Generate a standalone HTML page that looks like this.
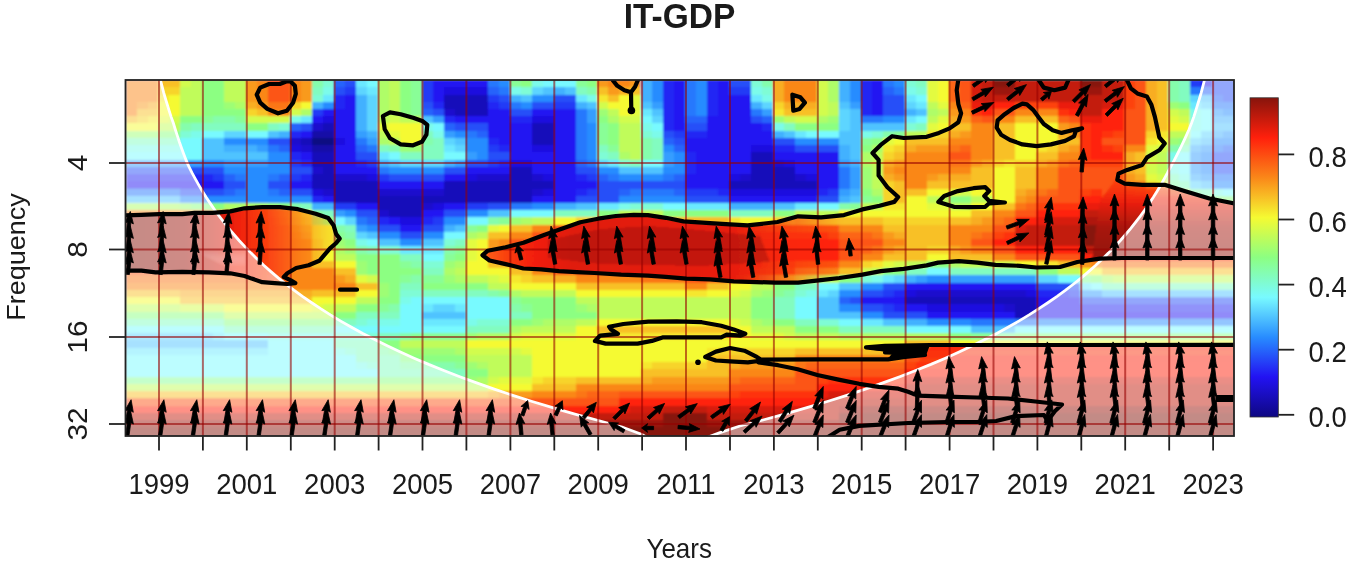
<!DOCTYPE html>
<html><head><meta charset="utf-8"><title>IT-GDP</title>
<style>
html,body{margin:0;padding:0;background:#fff}
body{width:1350px;height:562px;overflow:hidden;font-family:"Liberation Sans",sans-serif}
svg{display:block}
text{font-family:"Liberation Sans",sans-serif;font-size:27.5px;fill:#1a1a1a}
</style></head><body>
<svg width="1350" height="562" viewBox="0 0 1350 562">
<defs>
<linearGradient id="jet" x1="0" y1="1" x2="0" y2="0"><stop offset="0.0000" stop-color="#0e0882"/><stop offset="0.0312" stop-color="#130a9e"/><stop offset="0.0625" stop-color="#180dba"/><stop offset="0.0938" stop-color="#1d10d6"/><stop offset="0.1250" stop-color="#2212f2"/><stop offset="0.1562" stop-color="#2430f5"/><stop offset="0.1875" stop-color="#254ff8"/><stop offset="0.2188" stop-color="#266efc"/><stop offset="0.2500" stop-color="#288cff"/><stop offset="0.2812" stop-color="#3ca8ff"/><stop offset="0.3125" stop-color="#50c3ff"/><stop offset="0.3438" stop-color="#64deff"/><stop offset="0.3750" stop-color="#78faff"/><stop offset="0.4062" stop-color="#7dfbe0"/><stop offset="0.4375" stop-color="#82fcc0"/><stop offset="0.4688" stop-color="#87fea1"/><stop offset="0.5000" stop-color="#8cff82"/><stop offset="0.5312" stop-color="#a6fe6e"/><stop offset="0.5625" stop-color="#c0fc5a"/><stop offset="0.5938" stop-color="#dbfb46"/><stop offset="0.6250" stop-color="#f5fa32"/><stop offset="0.6562" stop-color="#f6dd2c"/><stop offset="0.6875" stop-color="#f8c026"/><stop offset="0.7188" stop-color="#f9a41f"/><stop offset="0.7500" stop-color="#fa8719"/><stop offset="0.7812" stop-color="#fb6d16"/><stop offset="0.8125" stop-color="#fc5412"/><stop offset="0.8438" stop-color="#fe3a0f"/><stop offset="0.8750" stop-color="#ff200c"/><stop offset="0.9062" stop-color="#e11d0c"/><stop offset="0.9375" stop-color="#c31a0c"/><stop offset="0.9688" stop-color="#a5170c"/><stop offset="1.0000" stop-color="#87140c"/></linearGradient>
<filter id="bl" x="-2%" y="-2%" width="104%" height="104%"><feGaussianBlur stdDeviation="1.2"/></filter>
<linearGradient id="bg1" gradientUnits="userSpaceOnUse" x1="483" y1="0" x2="843" y2="0">
<stop offset="0" stop-color="#ff5a14" stop-opacity="0.9"/><stop offset="0.13" stop-color="#f4200c"/><stop offset="0.25" stop-color="#e01c0c"/><stop offset="0.7" stop-color="#e81e0c"/><stop offset="0.86" stop-color="#f8300c" stop-opacity="0.5"/><stop offset="1" stop-color="#f8300c" stop-opacity="0"/></linearGradient>
<linearGradient id="bg2" gradientUnits="userSpaceOnUse" x1="124" y1="0" x2="330" y2="0">
<stop offset="0" stop-color="#871410"/><stop offset="0.3" stop-color="#a01810"/><stop offset="0.55" stop-color="#f0200c"/><stop offset="0.72" stop-color="#fb4812" stop-opacity="0.9"/><stop offset="0.9" stop-color="#fb8a18" stop-opacity="0.6"/><stop offset="1" stop-color="#fba020" stop-opacity="0.3"/></linearGradient>
<linearGradient id="bg4" gradientUnits="userSpaceOnUse" x1="0" y1="174" x2="0" y2="260">
<stop offset="0" stop-color="#ff3a10" stop-opacity="0.5"/><stop offset="0.3" stop-color="#f0200c" stop-opacity="0.95"/><stop offset="0.62" stop-color="#a81810"/><stop offset="1" stop-color="#92160e"/></linearGradient>
<linearGradient id="bg5" gradientUnits="userSpaceOnUse" x1="0" y1="345" x2="0" y2="366">
<stop offset="0" stop-color="#fb2410"/><stop offset="0.5" stop-color="#fb2410" stop-opacity="0.8"/><stop offset="1" stop-color="#fb2410" stop-opacity="0"/></linearGradient>
<linearGradient id="bg3" gradientUnits="userSpaceOnUse" x1="0" y1="225" x2="0" y2="285">
<stop offset="0" stop-color="#000" stop-opacity="0"/><stop offset="0.45" stop-color="#fff" stop-opacity="0"/><stop offset="0.7" stop-color="#ff2a0c" stop-opacity="0.55"/><stop offset="1" stop-color="#ff5a14" stop-opacity="0.7"/></linearGradient>
<clipPath id="cp"><rect x="125.5" y="80" width="1108.5" height="356"/></clipPath>
</defs>
<rect width="1350" height="562" fill="#fff"/>
<g clip-path="url(#cp)">
<g filter="url(#bl)" shape-rendering="crispEdges">
<rect x="115" y="70" width="1130" height="376" fill="#888"/>
<rect x="125.5" y="80.0" width="33.5" height="7.8" fill="#fa8719"/><rect x="158.4" y="80.0" width="22.6" height="7.8" fill="#f8c026"/><rect x="180.4" y="80.0" width="11.6" height="7.8" fill="#d2fc4d"/><rect x="191.4" y="80.0" width="11.6" height="7.8" fill="#c0fc5a"/><rect x="202.3" y="80.0" width="22.6" height="7.8" fill="#8cff82"/><rect x="224.3" y="80.0" width="22.6" height="7.8" fill="#c0fc5a"/><rect x="246.2" y="80.0" width="11.6" height="7.8" fill="#f99a1d"/><rect x="257.2" y="80.0" width="11.6" height="7.8" fill="#fa8719"/><rect x="268.2" y="80.0" width="22.6" height="7.8" fill="#fc5412"/><rect x="290.1" y="80.0" width="11.6" height="7.8" fill="#fa8719"/><rect x="301.1" y="80.0" width="11.6" height="7.8" fill="#f99a1d"/><rect x="312.1" y="80.0" width="11.6" height="7.8" fill="#85fdac"/><rect x="323.1" y="80.0" width="11.6" height="7.8" fill="#7ffcd5"/><rect x="334.0" y="80.0" width="11.6" height="7.8" fill="#2663fb"/><rect x="345.0" y="80.0" width="11.6" height="7.8" fill="#254ff8"/><rect x="356.0" y="80.0" width="11.6" height="7.8" fill="#6be8ff"/><rect x="367.0" y="80.0" width="11.6" height="7.8" fill="#78faff"/><rect x="377.9" y="80.0" width="11.6" height="7.8" fill="#affd67"/><rect x="388.9" y="80.0" width="11.6" height="7.8" fill="#c0fc5a"/><rect x="399.9" y="80.0" width="11.6" height="7.8" fill="#8cff82"/><rect x="410.9" y="80.0" width="11.6" height="7.8" fill="#89fe97"/><rect x="421.8" y="80.0" width="11.6" height="7.8" fill="#243bf6"/><rect x="432.8" y="80.0" width="55.5" height="7.8" fill="#2212f2"/><rect x="487.7" y="80.0" width="11.6" height="7.8" fill="#2778fd"/><rect x="498.7" y="80.0" width="11.6" height="7.8" fill="#288cff"/><rect x="509.6" y="80.0" width="11.6" height="7.8" fill="#89fe97"/><rect x="520.6" y="80.0" width="11.6" height="7.8" fill="#8cff82"/><rect x="531.6" y="80.0" width="11.6" height="7.8" fill="#7bfbea"/><rect x="542.6" y="80.0" width="33.5" height="7.8" fill="#78faff"/><rect x="575.5" y="80.0" width="11.6" height="7.8" fill="#89fe97"/><rect x="586.5" y="80.0" width="11.6" height="7.8" fill="#8cff82"/><rect x="597.4" y="80.0" width="11.6" height="7.8" fill="#f99a1d"/><rect x="608.4" y="80.0" width="22.6" height="7.8" fill="#fa8719"/><rect x="630.4" y="80.0" width="11.6" height="7.8" fill="#f99a1d"/><rect x="641.3" y="80.0" width="11.6" height="7.8" fill="#43b1ff"/><rect x="652.3" y="80.0" width="11.6" height="7.8" fill="#288cff"/><rect x="663.3" y="80.0" width="11.6" height="7.8" fill="#2326f4"/><rect x="674.3" y="80.0" width="11.6" height="7.8" fill="#2212f2"/><rect x="685.2" y="80.0" width="11.6" height="7.8" fill="#2778fd"/><rect x="696.2" y="80.0" width="11.6" height="7.8" fill="#288cff"/><rect x="707.2" y="80.0" width="11.6" height="7.8" fill="#2326f4"/><rect x="718.2" y="80.0" width="11.6" height="7.8" fill="#2212f2"/><rect x="729.1" y="80.0" width="22.6" height="7.8" fill="#254ff8"/><rect x="751.1" y="80.0" width="11.6" height="7.8" fill="#7ffcd5"/><rect x="762.1" y="80.0" width="11.6" height="7.8" fill="#85fdac"/><rect x="773.0" y="80.0" width="11.6" height="7.8" fill="#f8ad21"/><rect x="784.0" y="80.0" width="33.5" height="7.8" fill="#fa8719"/><rect x="816.9" y="80.0" width="11.6" height="7.8" fill="#d2fc4d"/><rect x="827.9" y="80.0" width="11.6" height="7.8" fill="#affd67"/><rect x="838.9" y="80.0" width="11.6" height="7.8" fill="#43b1ff"/><rect x="849.9" y="80.0" width="11.6" height="7.8" fill="#288cff"/><rect x="860.8" y="80.0" width="11.6" height="7.8" fill="#2326f4"/><rect x="871.8" y="80.0" width="11.6" height="7.8" fill="#2212f2"/><rect x="882.8" y="80.0" width="11.6" height="7.8" fill="#2778fd"/><rect x="893.8" y="80.0" width="11.6" height="7.8" fill="#288cff"/><rect x="904.7" y="80.0" width="11.6" height="7.8" fill="#7ffcd5"/><rect x="915.7" y="80.0" width="11.6" height="7.8" fill="#82fcc0"/><rect x="926.7" y="80.0" width="11.6" height="7.8" fill="#e3fb3f"/><rect x="937.7" y="80.0" width="11.6" height="7.8" fill="#f5fa32"/><rect x="948.6" y="80.0" width="11.6" height="7.8" fill="#fc6515"/><rect x="959.6" y="80.0" width="11.6" height="7.8" fill="#fc5412"/><rect x="970.6" y="80.0" width="11.6" height="7.8" fill="#d71c0c"/><rect x="981.6" y="80.0" width="11.6" height="7.8" fill="#c31a0c"/><rect x="992.5" y="80.0" width="22.6" height="7.8" fill="#87140c"/><rect x="1014.5" y="80.0" width="66.5" height="7.8" fill="#c31a0c"/><rect x="1080.3" y="80.0" width="22.6" height="7.8" fill="#87140c"/><rect x="1102.3" y="80.0" width="22.6" height="7.8" fill="#c31a0c"/><rect x="1124.2" y="80.0" width="11.6" height="7.8" fill="#fd4210"/><rect x="1135.2" y="80.0" width="11.6" height="7.8" fill="#fc5412"/><rect x="1146.2" y="80.0" width="11.6" height="7.8" fill="#f8ad21"/><rect x="1157.2" y="80.0" width="11.6" height="7.8" fill="#f8c026"/><rect x="1168.1" y="80.0" width="11.6" height="7.8" fill="#85fdac"/><rect x="1179.1" y="80.0" width="11.6" height="7.8" fill="#82fcc0"/><rect x="1190.1" y="80.0" width="11.6" height="7.8" fill="#243bf6"/><rect x="1201.1" y="80.0" width="11.6" height="7.8" fill="#2212f2"/><rect x="1212.0" y="80.0" width="22.6" height="7.8" fill="#254ff8"/><rect x="125.5" y="87.2" width="33.5" height="7.8" fill="#fa8719"/><rect x="158.4" y="87.2" width="22.6" height="7.8" fill="#f7d42a"/><rect x="180.4" y="87.2" width="22.6" height="7.8" fill="#c0fc5a"/><rect x="202.3" y="87.2" width="22.6" height="7.8" fill="#8cff82"/><rect x="224.3" y="87.2" width="22.6" height="7.8" fill="#c0fc5a"/><rect x="246.2" y="87.2" width="11.6" height="7.8" fill="#f99a1d"/><rect x="257.2" y="87.2" width="11.6" height="7.8" fill="#fa8719"/><rect x="268.2" y="87.2" width="22.6" height="7.8" fill="#fc5412"/><rect x="290.1" y="87.2" width="11.6" height="7.8" fill="#fa8719"/><rect x="301.1" y="87.2" width="11.6" height="7.8" fill="#f99a1d"/><rect x="312.1" y="87.2" width="11.6" height="7.8" fill="#82fcc0"/><rect x="323.1" y="87.2" width="11.6" height="7.8" fill="#7bfbea"/><rect x="334.0" y="87.2" width="11.6" height="7.8" fill="#254ff8"/><rect x="345.0" y="87.2" width="11.6" height="7.8" fill="#243bf6"/><rect x="356.0" y="87.2" width="11.6" height="7.8" fill="#5dd5ff"/><rect x="367.0" y="87.2" width="11.6" height="7.8" fill="#6be8ff"/><rect x="377.9" y="87.2" width="11.6" height="7.8" fill="#affd67"/><rect x="388.9" y="87.2" width="11.6" height="7.8" fill="#c0fc5a"/><rect x="399.9" y="87.2" width="11.6" height="7.8" fill="#8cff82"/><rect x="410.9" y="87.2" width="11.6" height="7.8" fill="#89fe97"/><rect x="421.8" y="87.2" width="11.6" height="7.8" fill="#243bf6"/><rect x="432.8" y="87.2" width="11.6" height="7.8" fill="#2212f2"/><rect x="443.8" y="87.2" width="44.5" height="7.8" fill="#1f10df"/><rect x="487.7" y="87.2" width="11.6" height="7.8" fill="#2663fb"/><rect x="498.7" y="87.2" width="11.6" height="7.8" fill="#2778fd"/><rect x="509.6" y="87.2" width="11.6" height="7.8" fill="#7bfbea"/><rect x="520.6" y="87.2" width="11.6" height="7.8" fill="#7ffcd5"/><rect x="531.6" y="87.2" width="11.6" height="7.8" fill="#5dd5ff"/><rect x="542.6" y="87.2" width="11.6" height="7.8" fill="#50c3ff"/><rect x="553.5" y="87.2" width="11.6" height="7.8" fill="#43b1ff"/><rect x="564.5" y="87.2" width="11.6" height="7.8" fill="#50c3ff"/><rect x="575.5" y="87.2" width="11.6" height="7.8" fill="#82fcc0"/><rect x="586.5" y="87.2" width="11.6" height="7.8" fill="#85fdac"/><rect x="597.4" y="87.2" width="11.6" height="7.8" fill="#f8c026"/><rect x="608.4" y="87.2" width="11.6" height="7.8" fill="#f99a1d"/><rect x="619.4" y="87.2" width="11.6" height="7.8" fill="#f8ad21"/><rect x="630.4" y="87.2" width="11.6" height="7.8" fill="#f8c026"/><rect x="641.3" y="87.2" width="11.6" height="7.8" fill="#43b1ff"/><rect x="652.3" y="87.2" width="11.6" height="7.8" fill="#288cff"/><rect x="663.3" y="87.2" width="11.6" height="7.8" fill="#2326f4"/><rect x="674.3" y="87.2" width="11.6" height="7.8" fill="#2212f2"/><rect x="685.2" y="87.2" width="11.6" height="7.8" fill="#2778fd"/><rect x="696.2" y="87.2" width="11.6" height="7.8" fill="#288cff"/><rect x="707.2" y="87.2" width="11.6" height="7.8" fill="#2326f4"/><rect x="718.2" y="87.2" width="11.6" height="7.8" fill="#2212f2"/><rect x="729.1" y="87.2" width="22.6" height="7.8" fill="#243bf6"/><rect x="751.1" y="87.2" width="11.6" height="7.8" fill="#7bfbea"/><rect x="762.1" y="87.2" width="11.6" height="7.8" fill="#7ffcd5"/><rect x="773.0" y="87.2" width="11.6" height="7.8" fill="#f8ad21"/><rect x="784.0" y="87.2" width="33.5" height="7.8" fill="#fa8719"/><rect x="816.9" y="87.2" width="11.6" height="7.8" fill="#d2fc4d"/><rect x="827.9" y="87.2" width="11.6" height="7.8" fill="#affd67"/><rect x="838.9" y="87.2" width="11.6" height="7.8" fill="#43b1ff"/><rect x="849.9" y="87.2" width="11.6" height="7.8" fill="#288cff"/><rect x="860.8" y="87.2" width="11.6" height="7.8" fill="#2326f4"/><rect x="871.8" y="87.2" width="11.6" height="7.8" fill="#2212f2"/><rect x="882.8" y="87.2" width="11.6" height="7.8" fill="#2663fb"/><rect x="893.8" y="87.2" width="11.6" height="7.8" fill="#2778fd"/><rect x="904.7" y="87.2" width="11.6" height="7.8" fill="#7bfbea"/><rect x="915.7" y="87.2" width="11.6" height="7.8" fill="#7ffcd5"/><rect x="926.7" y="87.2" width="11.6" height="7.8" fill="#e3fb3f"/><rect x="937.7" y="87.2" width="11.6" height="7.8" fill="#f5fa32"/><rect x="948.6" y="87.2" width="11.6" height="7.8" fill="#fc6515"/><rect x="959.6" y="87.2" width="11.6" height="7.8" fill="#fc5412"/><rect x="970.6" y="87.2" width="11.6" height="7.8" fill="#d71c0c"/><rect x="981.6" y="87.2" width="11.6" height="7.8" fill="#c31a0c"/><rect x="992.5" y="87.2" width="22.6" height="7.8" fill="#9b160c"/><rect x="1014.5" y="87.2" width="66.5" height="7.8" fill="#c31a0c"/><rect x="1080.3" y="87.2" width="22.6" height="7.8" fill="#9b160c"/><rect x="1102.3" y="87.2" width="22.6" height="7.8" fill="#c31a0c"/><rect x="1124.2" y="87.2" width="11.6" height="7.8" fill="#fd4210"/><rect x="1135.2" y="87.2" width="11.6" height="7.8" fill="#fc5412"/><rect x="1146.2" y="87.2" width="11.6" height="7.8" fill="#f8ad21"/><rect x="1157.2" y="87.2" width="11.6" height="7.8" fill="#f8c026"/><rect x="1168.1" y="87.2" width="11.6" height="7.8" fill="#85fdac"/><rect x="1179.1" y="87.2" width="11.6" height="7.8" fill="#82fcc0"/><rect x="1190.1" y="87.2" width="11.6" height="7.8" fill="#2778fd"/><rect x="1201.1" y="87.2" width="11.6" height="7.8" fill="#2663fb"/><rect x="1212.0" y="87.2" width="22.6" height="7.8" fill="#254ff8"/><rect x="125.5" y="94.5" width="33.5" height="7.8" fill="#fa8719"/><rect x="158.4" y="94.5" width="11.6" height="7.8" fill="#f6e72e"/><rect x="169.4" y="94.5" width="11.6" height="7.8" fill="#f5fa32"/><rect x="180.4" y="94.5" width="22.6" height="7.8" fill="#c0fc5a"/><rect x="202.3" y="94.5" width="22.6" height="7.8" fill="#8cff82"/><rect x="224.3" y="94.5" width="22.6" height="7.8" fill="#c0fc5a"/><rect x="246.2" y="94.5" width="11.6" height="7.8" fill="#f99a1d"/><rect x="257.2" y="94.5" width="11.6" height="7.8" fill="#fa8719"/><rect x="268.2" y="94.5" width="22.6" height="7.8" fill="#fc5412"/><rect x="290.1" y="94.5" width="11.6" height="7.8" fill="#fa8719"/><rect x="301.1" y="94.5" width="11.6" height="7.8" fill="#f99a1d"/><rect x="312.1" y="94.5" width="11.6" height="7.8" fill="#7ffcd5"/><rect x="323.1" y="94.5" width="11.6" height="7.8" fill="#6be8ff"/><rect x="334.0" y="94.5" width="11.6" height="7.8" fill="#2326f4"/><rect x="345.0" y="94.5" width="11.6" height="7.8" fill="#2212f2"/><rect x="356.0" y="94.5" width="11.6" height="7.8" fill="#43b1ff"/><rect x="367.0" y="94.5" width="11.6" height="7.8" fill="#5dd5ff"/><rect x="377.9" y="94.5" width="11.6" height="7.8" fill="#affd67"/><rect x="388.9" y="94.5" width="11.6" height="7.8" fill="#c0fc5a"/><rect x="399.9" y="94.5" width="11.6" height="7.8" fill="#8cff82"/><rect x="410.9" y="94.5" width="11.6" height="7.8" fill="#89fe97"/><rect x="421.8" y="94.5" width="11.6" height="7.8" fill="#243bf6"/><rect x="432.8" y="94.5" width="11.6" height="7.8" fill="#2212f2"/><rect x="443.8" y="94.5" width="44.5" height="7.8" fill="#180dba"/><rect x="487.7" y="94.5" width="11.6" height="7.8" fill="#243bf6"/><rect x="498.7" y="94.5" width="11.6" height="7.8" fill="#254ff8"/><rect x="509.6" y="94.5" width="11.6" height="7.8" fill="#43b1ff"/><rect x="520.6" y="94.5" width="11.6" height="7.8" fill="#50c3ff"/><rect x="531.6" y="94.5" width="22.6" height="7.8" fill="#288cff"/><rect x="553.5" y="94.5" width="22.6" height="7.8" fill="#254ff8"/><rect x="575.5" y="94.5" width="11.6" height="7.8" fill="#6be8ff"/><rect x="586.5" y="94.5" width="11.6" height="7.8" fill="#7bfbea"/><rect x="597.4" y="94.5" width="11.6" height="7.8" fill="#f6e72e"/><rect x="608.4" y="94.5" width="11.6" height="7.8" fill="#f8c026"/><rect x="619.4" y="94.5" width="11.6" height="7.8" fill="#f5fa32"/><rect x="630.4" y="94.5" width="11.6" height="7.8" fill="#e3fb3f"/><rect x="641.3" y="94.5" width="11.6" height="7.8" fill="#43b1ff"/><rect x="652.3" y="94.5" width="11.6" height="7.8" fill="#288cff"/><rect x="663.3" y="94.5" width="11.6" height="7.8" fill="#2326f4"/><rect x="674.3" y="94.5" width="11.6" height="7.8" fill="#2212f2"/><rect x="685.2" y="94.5" width="11.6" height="7.8" fill="#2778fd"/><rect x="696.2" y="94.5" width="11.6" height="7.8" fill="#288cff"/><rect x="707.2" y="94.5" width="11.6" height="7.8" fill="#2326f4"/><rect x="718.2" y="94.5" width="33.5" height="7.8" fill="#2212f2"/><rect x="751.1" y="94.5" width="11.6" height="7.8" fill="#6be8ff"/><rect x="762.1" y="94.5" width="11.6" height="7.8" fill="#7bfbea"/><rect x="773.0" y="94.5" width="11.6" height="7.8" fill="#f8ad21"/><rect x="784.0" y="94.5" width="33.5" height="7.8" fill="#fa8719"/><rect x="816.9" y="94.5" width="11.6" height="7.8" fill="#d2fc4d"/><rect x="827.9" y="94.5" width="11.6" height="7.8" fill="#affd67"/><rect x="838.9" y="94.5" width="11.6" height="7.8" fill="#43b1ff"/><rect x="849.9" y="94.5" width="11.6" height="7.8" fill="#288cff"/><rect x="860.8" y="94.5" width="11.6" height="7.8" fill="#2326f4"/><rect x="871.8" y="94.5" width="11.6" height="7.8" fill="#2212f2"/><rect x="882.8" y="94.5" width="22.6" height="7.8" fill="#254ff8"/><rect x="904.7" y="94.5" width="11.6" height="7.8" fill="#6be8ff"/><rect x="915.7" y="94.5" width="11.6" height="7.8" fill="#78faff"/><rect x="926.7" y="94.5" width="11.6" height="7.8" fill="#e3fb3f"/><rect x="937.7" y="94.5" width="11.6" height="7.8" fill="#f5fa32"/><rect x="948.6" y="94.5" width="11.6" height="7.8" fill="#fc6515"/><rect x="959.6" y="94.5" width="11.6" height="7.8" fill="#fc5412"/><rect x="970.6" y="94.5" width="11.6" height="7.8" fill="#d71c0c"/><rect x="981.6" y="94.5" width="143.3" height="7.8" fill="#c31a0c"/><rect x="1124.2" y="94.5" width="11.6" height="7.8" fill="#fd4210"/><rect x="1135.2" y="94.5" width="11.6" height="7.8" fill="#fc5412"/><rect x="1146.2" y="94.5" width="11.6" height="7.8" fill="#f8ad21"/><rect x="1157.2" y="94.5" width="11.6" height="7.8" fill="#f8c026"/><rect x="1168.1" y="94.5" width="11.6" height="7.8" fill="#85fdac"/><rect x="1179.1" y="94.5" width="11.6" height="7.8" fill="#82fcc0"/><rect x="1190.1" y="94.5" width="11.6" height="7.8" fill="#5dd5ff"/><rect x="1201.1" y="94.5" width="11.6" height="7.8" fill="#50c3ff"/><rect x="1212.0" y="94.5" width="11.6" height="7.8" fill="#2663fb"/><rect x="1223.0" y="94.5" width="11.6" height="7.8" fill="#254ff8"/><rect x="125.5" y="101.7" width="11.6" height="7.8" fill="#fa8719"/><rect x="136.5" y="101.7" width="11.6" height="7.8" fill="#f99a1d"/><rect x="147.5" y="101.7" width="11.6" height="7.8" fill="#f8ad21"/><rect x="158.4" y="101.7" width="22.6" height="7.8" fill="#f5fa32"/><rect x="180.4" y="101.7" width="22.6" height="7.8" fill="#c0fc5a"/><rect x="202.3" y="101.7" width="22.6" height="7.8" fill="#8cff82"/><rect x="224.3" y="101.7" width="11.6" height="7.8" fill="#9efe75"/><rect x="235.3" y="101.7" width="11.6" height="7.8" fill="#affd67"/><rect x="246.2" y="101.7" width="11.6" height="7.8" fill="#f8ad21"/><rect x="257.2" y="101.7" width="11.6" height="7.8" fill="#f99a1d"/><rect x="268.2" y="101.7" width="22.6" height="7.8" fill="#fb7617"/><rect x="290.1" y="101.7" width="11.6" height="7.8" fill="#f7d42a"/><rect x="301.1" y="101.7" width="11.6" height="7.8" fill="#f5fa32"/><rect x="312.1" y="101.7" width="11.6" height="7.8" fill="#43b1ff"/><rect x="323.1" y="101.7" width="11.6" height="7.8" fill="#288cff"/><rect x="334.0" y="101.7" width="11.6" height="7.8" fill="#2326f4"/><rect x="345.0" y="101.7" width="11.6" height="7.8" fill="#2212f2"/><rect x="356.0" y="101.7" width="11.6" height="7.8" fill="#43b1ff"/><rect x="367.0" y="101.7" width="11.6" height="7.8" fill="#5dd5ff"/><rect x="377.9" y="101.7" width="11.6" height="7.8" fill="#affd67"/><rect x="388.9" y="101.7" width="11.6" height="7.8" fill="#c0fc5a"/><rect x="399.9" y="101.7" width="11.6" height="7.8" fill="#8cff82"/><rect x="410.9" y="101.7" width="11.6" height="7.8" fill="#89fe97"/><rect x="421.8" y="101.7" width="11.6" height="7.8" fill="#254ff8"/><rect x="432.8" y="101.7" width="11.6" height="7.8" fill="#2326f4"/><rect x="443.8" y="101.7" width="44.5" height="7.8" fill="#180dba"/><rect x="487.7" y="101.7" width="11.6" height="7.8" fill="#2326f4"/><rect x="498.7" y="101.7" width="11.6" height="7.8" fill="#243bf6"/><rect x="509.6" y="101.7" width="11.6" height="7.8" fill="#2778fd"/><rect x="520.6" y="101.7" width="11.6" height="7.8" fill="#288cff"/><rect x="531.6" y="101.7" width="22.6" height="7.8" fill="#254ff8"/><rect x="553.5" y="101.7" width="22.6" height="7.8" fill="#243bf6"/><rect x="575.5" y="101.7" width="11.6" height="7.8" fill="#43b1ff"/><rect x="586.5" y="101.7" width="11.6" height="7.8" fill="#50c3ff"/><rect x="597.4" y="101.7" width="11.6" height="7.8" fill="#d2fc4d"/><rect x="608.4" y="101.7" width="22.6" height="7.8" fill="#f5fa32"/><rect x="630.4" y="101.7" width="11.6" height="7.8" fill="#e3fb3f"/><rect x="641.3" y="101.7" width="11.6" height="7.8" fill="#50c3ff"/><rect x="652.3" y="101.7" width="11.6" height="7.8" fill="#359eff"/><rect x="663.3" y="101.7" width="11.6" height="7.8" fill="#2326f4"/><rect x="674.3" y="101.7" width="11.6" height="7.8" fill="#2212f2"/><rect x="685.2" y="101.7" width="11.6" height="7.8" fill="#2778fd"/><rect x="696.2" y="101.7" width="11.6" height="7.8" fill="#288cff"/><rect x="707.2" y="101.7" width="11.6" height="7.8" fill="#2326f4"/><rect x="718.2" y="101.7" width="33.5" height="7.8" fill="#2212f2"/><rect x="751.1" y="101.7" width="11.6" height="7.8" fill="#43b1ff"/><rect x="762.1" y="101.7" width="11.6" height="7.8" fill="#5dd5ff"/><rect x="773.0" y="101.7" width="11.6" height="7.8" fill="#f7d42a"/><rect x="784.0" y="101.7" width="33.5" height="7.8" fill="#f8ad21"/><rect x="816.9" y="101.7" width="11.6" height="7.8" fill="#d2fc4d"/><rect x="827.9" y="101.7" width="11.6" height="7.8" fill="#c0fc5a"/><rect x="838.9" y="101.7" width="11.6" height="7.8" fill="#50c3ff"/><rect x="849.9" y="101.7" width="11.6" height="7.8" fill="#359eff"/><rect x="860.8" y="101.7" width="11.6" height="7.8" fill="#2326f4"/><rect x="871.8" y="101.7" width="11.6" height="7.8" fill="#2212f2"/><rect x="882.8" y="101.7" width="22.6" height="7.8" fill="#254ff8"/><rect x="904.7" y="101.7" width="11.6" height="7.8" fill="#5dd5ff"/><rect x="915.7" y="101.7" width="11.6" height="7.8" fill="#6be8ff"/><rect x="926.7" y="101.7" width="11.6" height="7.8" fill="#c0fc5a"/><rect x="937.7" y="101.7" width="11.6" height="7.8" fill="#e3fb3f"/><rect x="948.6" y="101.7" width="11.6" height="7.8" fill="#fa8719"/><rect x="959.6" y="101.7" width="11.6" height="7.8" fill="#fc6515"/><rect x="970.6" y="101.7" width="22.6" height="7.8" fill="#eb1e0c"/><rect x="992.5" y="101.7" width="22.6" height="7.8" fill="#ff200c"/><rect x="1014.5" y="101.7" width="44.5" height="7.8" fill="#fd4210"/><rect x="1058.4" y="101.7" width="22.6" height="7.8" fill="#eb1e0c"/><rect x="1080.3" y="101.7" width="22.6" height="7.8" fill="#c31a0c"/><rect x="1102.3" y="101.7" width="11.6" height="7.8" fill="#d71c0c"/><rect x="1113.3" y="101.7" width="11.6" height="7.8" fill="#eb1e0c"/><rect x="1124.2" y="101.7" width="11.6" height="7.8" fill="#fd4210"/><rect x="1135.2" y="101.7" width="11.6" height="7.8" fill="#fc5412"/><rect x="1146.2" y="101.7" width="11.6" height="7.8" fill="#f8ad21"/><rect x="1157.2" y="101.7" width="11.6" height="7.8" fill="#f8c026"/><rect x="1168.1" y="101.7" width="11.6" height="7.8" fill="#9efe75"/><rect x="1179.1" y="101.7" width="11.6" height="7.8" fill="#8cff82"/><rect x="1190.1" y="101.7" width="11.6" height="7.8" fill="#6be8ff"/><rect x="1201.1" y="101.7" width="11.6" height="7.8" fill="#5dd5ff"/><rect x="1212.0" y="101.7" width="22.6" height="7.8" fill="#2778fd"/><rect x="125.5" y="108.9" width="11.6" height="7.8" fill="#fa8719"/><rect x="136.5" y="108.9" width="22.6" height="7.8" fill="#f8c026"/><rect x="158.4" y="108.9" width="22.6" height="7.8" fill="#f5fa32"/><rect x="180.4" y="108.9" width="22.6" height="7.8" fill="#c0fc5a"/><rect x="202.3" y="108.9" width="44.5" height="7.8" fill="#8cff82"/><rect x="246.2" y="108.9" width="11.6" height="7.8" fill="#f7d42a"/><rect x="257.2" y="108.9" width="11.6" height="7.8" fill="#f8c026"/><rect x="268.2" y="108.9" width="22.6" height="7.8" fill="#fa8719"/><rect x="290.1" y="108.9" width="11.6" height="7.8" fill="#d2fc4d"/><rect x="301.1" y="108.9" width="11.6" height="7.8" fill="#affd67"/><rect x="312.1" y="108.9" width="11.6" height="7.8" fill="#243bf6"/><rect x="323.1" y="108.9" width="33.5" height="7.8" fill="#2212f2"/><rect x="356.0" y="108.9" width="11.6" height="7.8" fill="#43b1ff"/><rect x="367.0" y="108.9" width="11.6" height="7.8" fill="#5dd5ff"/><rect x="377.9" y="108.9" width="11.6" height="7.8" fill="#affd67"/><rect x="388.9" y="108.9" width="11.6" height="7.8" fill="#c0fc5a"/><rect x="399.9" y="108.9" width="11.6" height="7.8" fill="#8cff82"/><rect x="410.9" y="108.9" width="11.6" height="7.8" fill="#89fe97"/><rect x="421.8" y="108.9" width="11.6" height="7.8" fill="#2663fb"/><rect x="432.8" y="108.9" width="11.6" height="7.8" fill="#254ff8"/><rect x="443.8" y="108.9" width="11.6" height="7.8" fill="#1b0fcd"/><rect x="454.8" y="108.9" width="33.5" height="7.8" fill="#180dba"/><rect x="487.7" y="108.9" width="22.6" height="7.8" fill="#2212f2"/><rect x="509.6" y="108.9" width="22.6" height="7.8" fill="#254ff8"/><rect x="531.6" y="108.9" width="44.5" height="7.8" fill="#2212f2"/><rect x="575.5" y="108.9" width="11.6" height="7.8" fill="#2778fd"/><rect x="586.5" y="108.9" width="11.6" height="7.8" fill="#359eff"/><rect x="597.4" y="108.9" width="11.6" height="7.8" fill="#9efe75"/><rect x="608.4" y="108.9" width="11.6" height="7.8" fill="#c0fc5a"/><rect x="619.4" y="108.9" width="11.6" height="7.8" fill="#f5fa32"/><rect x="630.4" y="108.9" width="11.6" height="7.8" fill="#e3fb3f"/><rect x="641.3" y="108.9" width="11.6" height="7.8" fill="#6be8ff"/><rect x="652.3" y="108.9" width="11.6" height="7.8" fill="#50c3ff"/><rect x="663.3" y="108.9" width="11.6" height="7.8" fill="#2326f4"/><rect x="674.3" y="108.9" width="11.6" height="7.8" fill="#2212f2"/><rect x="685.2" y="108.9" width="11.6" height="7.8" fill="#2778fd"/><rect x="696.2" y="108.9" width="11.6" height="7.8" fill="#288cff"/><rect x="707.2" y="108.9" width="11.6" height="7.8" fill="#2326f4"/><rect x="718.2" y="108.9" width="33.5" height="7.8" fill="#2212f2"/><rect x="751.1" y="108.9" width="11.6" height="7.8" fill="#2778fd"/><rect x="762.1" y="108.9" width="11.6" height="7.8" fill="#359eff"/><rect x="773.0" y="108.9" width="11.6" height="7.8" fill="#f6e72e"/><rect x="784.0" y="108.9" width="33.5" height="7.8" fill="#f8c026"/><rect x="816.9" y="108.9" width="11.6" height="7.8" fill="#d2fc4d"/><rect x="827.9" y="108.9" width="11.6" height="7.8" fill="#c0fc5a"/><rect x="838.9" y="108.9" width="11.6" height="7.8" fill="#5dd5ff"/><rect x="849.9" y="108.9" width="11.6" height="7.8" fill="#50c3ff"/><rect x="860.8" y="108.9" width="11.6" height="7.8" fill="#2326f4"/><rect x="871.8" y="108.9" width="11.6" height="7.8" fill="#2212f2"/><rect x="882.8" y="108.9" width="22.6" height="7.8" fill="#254ff8"/><rect x="904.7" y="108.9" width="11.6" height="7.8" fill="#43b1ff"/><rect x="915.7" y="108.9" width="11.6" height="7.8" fill="#50c3ff"/><rect x="926.7" y="108.9" width="11.6" height="7.8" fill="#affd67"/><rect x="937.7" y="108.9" width="11.6" height="7.8" fill="#c0fc5a"/><rect x="948.6" y="108.9" width="11.6" height="7.8" fill="#f99a1d"/><rect x="959.6" y="108.9" width="11.6" height="7.8" fill="#fa8719"/><rect x="970.6" y="108.9" width="11.6" height="7.8" fill="#fe310e"/><rect x="981.6" y="108.9" width="11.6" height="7.8" fill="#ff200c"/><rect x="992.5" y="108.9" width="22.6" height="7.8" fill="#fc5412"/><rect x="1014.5" y="108.9" width="44.5" height="7.8" fill="#fa8719"/><rect x="1058.4" y="108.9" width="11.6" height="7.8" fill="#fe310e"/><rect x="1069.4" y="108.9" width="11.6" height="7.8" fill="#ff200c"/><rect x="1080.3" y="108.9" width="22.6" height="7.8" fill="#c31a0c"/><rect x="1102.3" y="108.9" width="22.6" height="7.8" fill="#ff200c"/><rect x="1124.2" y="108.9" width="22.6" height="7.8" fill="#fc5412"/><rect x="1146.2" y="108.9" width="11.6" height="7.8" fill="#f8ad21"/><rect x="1157.2" y="108.9" width="11.6" height="7.8" fill="#f8c026"/><rect x="1168.1" y="108.9" width="11.6" height="7.8" fill="#d2fc4d"/><rect x="1179.1" y="108.9" width="11.6" height="7.8" fill="#c0fc5a"/><rect x="1190.1" y="108.9" width="11.6" height="7.8" fill="#7bfbea"/><rect x="1201.1" y="108.9" width="11.6" height="7.8" fill="#78faff"/><rect x="1212.0" y="108.9" width="11.6" height="7.8" fill="#359eff"/><rect x="1223.0" y="108.9" width="11.6" height="7.8" fill="#288cff"/><rect x="125.5" y="116.2" width="11.6" height="7.8" fill="#f8c026"/><rect x="136.5" y="116.2" width="11.6" height="7.8" fill="#f7d42a"/><rect x="147.5" y="116.2" width="11.6" height="7.8" fill="#f6e72e"/><rect x="158.4" y="116.2" width="11.6" height="7.8" fill="#e3fb3f"/><rect x="169.4" y="116.2" width="11.6" height="7.8" fill="#d2fc4d"/><rect x="180.4" y="116.2" width="22.6" height="7.8" fill="#8cff82"/><rect x="202.3" y="116.2" width="11.6" height="7.8" fill="#89fe97"/><rect x="213.3" y="116.2" width="22.6" height="7.8" fill="#85fdac"/><rect x="235.3" y="116.2" width="11.6" height="7.8" fill="#89fe97"/><rect x="246.2" y="116.2" width="44.5" height="7.8" fill="#d2fc4d"/><rect x="290.1" y="116.2" width="11.6" height="7.8" fill="#7bfbea"/><rect x="301.1" y="116.2" width="11.6" height="7.8" fill="#6be8ff"/><rect x="312.1" y="116.2" width="11.6" height="7.8" fill="#2212f2"/><rect x="323.1" y="116.2" width="11.6" height="7.8" fill="#1f10df"/><rect x="334.0" y="116.2" width="22.6" height="7.8" fill="#2212f2"/><rect x="356.0" y="116.2" width="11.6" height="7.8" fill="#43b1ff"/><rect x="367.0" y="116.2" width="11.6" height="7.8" fill="#5dd5ff"/><rect x="377.9" y="116.2" width="11.6" height="7.8" fill="#c0fc5a"/><rect x="388.9" y="116.2" width="11.6" height="7.8" fill="#d2fc4d"/><rect x="399.9" y="116.2" width="22.6" height="7.8" fill="#c0fc5a"/><rect x="421.8" y="116.2" width="11.6" height="7.8" fill="#50c3ff"/><rect x="432.8" y="116.2" width="11.6" height="7.8" fill="#359eff"/><rect x="443.8" y="116.2" width="11.6" height="7.8" fill="#2326f4"/><rect x="454.8" y="116.2" width="55.5" height="7.8" fill="#2212f2"/><rect x="509.6" y="116.2" width="22.6" height="7.8" fill="#2326f4"/><rect x="531.6" y="116.2" width="22.6" height="7.8" fill="#1f10df"/><rect x="553.5" y="116.2" width="22.6" height="7.8" fill="#2212f2"/><rect x="575.5" y="116.2" width="11.6" height="7.8" fill="#2778fd"/><rect x="586.5" y="116.2" width="11.6" height="7.8" fill="#359eff"/><rect x="597.4" y="116.2" width="11.6" height="7.8" fill="#8cff82"/><rect x="608.4" y="116.2" width="11.6" height="7.8" fill="#affd67"/><rect x="619.4" y="116.2" width="22.6" height="7.8" fill="#d2fc4d"/><rect x="641.3" y="116.2" width="11.6" height="7.8" fill="#78faff"/><rect x="652.3" y="116.2" width="11.6" height="7.8" fill="#5dd5ff"/><rect x="663.3" y="116.2" width="11.6" height="7.8" fill="#2326f4"/><rect x="674.3" y="116.2" width="11.6" height="7.8" fill="#2212f2"/><rect x="685.2" y="116.2" width="22.6" height="7.8" fill="#2663fb"/><rect x="707.2" y="116.2" width="44.5" height="7.8" fill="#2212f2"/><rect x="751.1" y="116.2" width="11.6" height="7.8" fill="#254ff8"/><rect x="762.1" y="116.2" width="11.6" height="7.8" fill="#2663fb"/><rect x="773.0" y="116.2" width="11.6" height="7.8" fill="#9efe75"/><rect x="784.0" y="116.2" width="11.6" height="7.8" fill="#c0fc5a"/><rect x="795.0" y="116.2" width="22.6" height="7.8" fill="#d2fc4d"/><rect x="816.9" y="116.2" width="11.6" height="7.8" fill="#affd67"/><rect x="827.9" y="116.2" width="11.6" height="7.8" fill="#9efe75"/><rect x="838.9" y="116.2" width="11.6" height="7.8" fill="#5dd5ff"/><rect x="849.9" y="116.2" width="11.6" height="7.8" fill="#50c3ff"/><rect x="860.8" y="116.2" width="22.6" height="7.8" fill="#2778fd"/><rect x="882.8" y="116.2" width="22.6" height="7.8" fill="#288cff"/><rect x="904.7" y="116.2" width="11.6" height="7.8" fill="#6be8ff"/><rect x="915.7" y="116.2" width="11.6" height="7.8" fill="#78faff"/><rect x="926.7" y="116.2" width="11.6" height="7.8" fill="#c0fc5a"/><rect x="937.7" y="116.2" width="11.6" height="7.8" fill="#e3fb3f"/><rect x="948.6" y="116.2" width="11.6" height="7.8" fill="#f8ad21"/><rect x="959.6" y="116.2" width="11.6" height="7.8" fill="#f99a1d"/><rect x="970.6" y="116.2" width="11.6" height="7.8" fill="#fc6515"/><rect x="981.6" y="116.2" width="11.6" height="7.8" fill="#fc5412"/><rect x="992.5" y="116.2" width="22.6" height="7.8" fill="#fa8719"/><rect x="1014.5" y="116.2" width="44.5" height="7.8" fill="#f8c026"/><rect x="1058.4" y="116.2" width="11.6" height="7.8" fill="#fc6515"/><rect x="1069.4" y="116.2" width="11.6" height="7.8" fill="#fc5412"/><rect x="1080.3" y="116.2" width="22.6" height="7.8" fill="#eb1e0c"/><rect x="1102.3" y="116.2" width="22.6" height="7.8" fill="#ff200c"/><rect x="1124.2" y="116.2" width="22.6" height="7.8" fill="#fc5412"/><rect x="1146.2" y="116.2" width="11.6" height="7.8" fill="#f8ad21"/><rect x="1157.2" y="116.2" width="11.6" height="7.8" fill="#f8c026"/><rect x="1168.1" y="116.2" width="11.6" height="7.8" fill="#e3fb3f"/><rect x="1179.1" y="116.2" width="11.6" height="7.8" fill="#d2fc4d"/><rect x="1190.1" y="116.2" width="11.6" height="7.8" fill="#7bfbea"/><rect x="1201.1" y="116.2" width="11.6" height="7.8" fill="#78faff"/><rect x="1212.0" y="116.2" width="22.6" height="7.8" fill="#43b1ff"/><rect x="125.5" y="123.4" width="33.5" height="7.8" fill="#f5fa32"/><rect x="158.4" y="123.4" width="22.6" height="7.8" fill="#c0fc5a"/><rect x="180.4" y="123.4" width="11.6" height="7.8" fill="#85fdac"/><rect x="191.4" y="123.4" width="55.5" height="7.8" fill="#82fcc0"/><rect x="246.2" y="123.4" width="22.6" height="7.8" fill="#8cff82"/><rect x="268.2" y="123.4" width="11.6" height="7.8" fill="#82fcc0"/><rect x="279.2" y="123.4" width="11.6" height="7.8" fill="#7ffcd5"/><rect x="290.1" y="123.4" width="11.6" height="7.8" fill="#2663fb"/><rect x="301.1" y="123.4" width="11.6" height="7.8" fill="#254ff8"/><rect x="312.1" y="123.4" width="11.6" height="7.8" fill="#1b0fcd"/><rect x="323.1" y="123.4" width="11.6" height="7.8" fill="#180dba"/><rect x="334.0" y="123.4" width="22.6" height="7.8" fill="#2212f2"/><rect x="356.0" y="123.4" width="11.6" height="7.8" fill="#43b1ff"/><rect x="367.0" y="123.4" width="11.6" height="7.8" fill="#5dd5ff"/><rect x="377.9" y="123.4" width="11.6" height="7.8" fill="#e3fb3f"/><rect x="388.9" y="123.4" width="33.5" height="7.8" fill="#f5fa32"/><rect x="421.8" y="123.4" width="11.6" height="7.8" fill="#7bfbea"/><rect x="432.8" y="123.4" width="11.6" height="7.8" fill="#78faff"/><rect x="443.8" y="123.4" width="11.6" height="7.8" fill="#2663fb"/><rect x="454.8" y="123.4" width="33.5" height="7.8" fill="#254ff8"/><rect x="487.7" y="123.4" width="44.5" height="7.8" fill="#2212f2"/><rect x="531.6" y="123.4" width="22.6" height="7.8" fill="#180dba"/><rect x="553.5" y="123.4" width="22.6" height="7.8" fill="#2212f2"/><rect x="575.5" y="123.4" width="11.6" height="7.8" fill="#2778fd"/><rect x="586.5" y="123.4" width="11.6" height="7.8" fill="#288cff"/><rect x="597.4" y="123.4" width="11.6" height="7.8" fill="#89fe97"/><rect x="608.4" y="123.4" width="11.6" height="7.8" fill="#8cff82"/><rect x="619.4" y="123.4" width="22.6" height="7.8" fill="#c0fc5a"/><rect x="641.3" y="123.4" width="11.6" height="7.8" fill="#7bfbea"/><rect x="652.3" y="123.4" width="11.6" height="7.8" fill="#78faff"/><rect x="663.3" y="123.4" width="11.6" height="7.8" fill="#2326f4"/><rect x="674.3" y="123.4" width="11.6" height="7.8" fill="#2212f2"/><rect x="685.2" y="123.4" width="22.6" height="7.8" fill="#254ff8"/><rect x="707.2" y="123.4" width="55.5" height="7.8" fill="#2212f2"/><rect x="762.1" y="123.4" width="11.6" height="7.8" fill="#2326f4"/><rect x="773.0" y="123.4" width="11.6" height="7.8" fill="#7bfbea"/><rect x="784.0" y="123.4" width="11.6" height="7.8" fill="#82fcc0"/><rect x="795.0" y="123.4" width="44.5" height="7.8" fill="#8cff82"/><rect x="838.9" y="123.4" width="11.6" height="7.8" fill="#5dd5ff"/><rect x="849.9" y="123.4" width="55.5" height="7.8" fill="#50c3ff"/><rect x="904.7" y="123.4" width="11.6" height="7.8" fill="#7ffcd5"/><rect x="915.7" y="123.4" width="11.6" height="7.8" fill="#82fcc0"/><rect x="926.7" y="123.4" width="11.6" height="7.8" fill="#e3fb3f"/><rect x="937.7" y="123.4" width="11.6" height="7.8" fill="#f5fa32"/><rect x="948.6" y="123.4" width="22.6" height="7.8" fill="#f8c026"/><rect x="970.6" y="123.4" width="22.6" height="7.8" fill="#fa8719"/><rect x="992.5" y="123.4" width="22.6" height="7.8" fill="#f8c026"/><rect x="1014.5" y="123.4" width="44.5" height="7.8" fill="#f5fa32"/><rect x="1058.4" y="123.4" width="11.6" height="7.8" fill="#f99a1d"/><rect x="1069.4" y="123.4" width="11.6" height="7.8" fill="#fa8719"/><rect x="1080.3" y="123.4" width="11.6" height="7.8" fill="#fe310e"/><rect x="1091.3" y="123.4" width="33.5" height="7.8" fill="#ff200c"/><rect x="1124.2" y="123.4" width="22.6" height="7.8" fill="#fc5412"/><rect x="1146.2" y="123.4" width="11.6" height="7.8" fill="#f8ad21"/><rect x="1157.2" y="123.4" width="11.6" height="7.8" fill="#f8c026"/><rect x="1168.1" y="123.4" width="22.6" height="7.8" fill="#f5fa32"/><rect x="1190.1" y="123.4" width="11.6" height="7.8" fill="#7bfbea"/><rect x="1201.1" y="123.4" width="11.6" height="7.8" fill="#78faff"/><rect x="1212.0" y="123.4" width="22.6" height="7.8" fill="#50c3ff"/><rect x="125.5" y="130.6" width="33.5" height="7.8" fill="#9efe75"/><rect x="158.4" y="130.6" width="22.6" height="7.8" fill="#8cff82"/><rect x="180.4" y="130.6" width="11.6" height="7.8" fill="#7ffcd5"/><rect x="191.4" y="130.6" width="11.6" height="7.8" fill="#7bfbea"/><rect x="202.3" y="130.6" width="22.6" height="7.8" fill="#78faff"/><rect x="224.3" y="130.6" width="22.6" height="7.8" fill="#5dd5ff"/><rect x="246.2" y="130.6" width="22.6" height="7.8" fill="#78faff"/><rect x="268.2" y="130.6" width="11.6" height="7.8" fill="#50c3ff"/><rect x="279.2" y="130.6" width="11.6" height="7.8" fill="#43b1ff"/><rect x="290.1" y="130.6" width="11.6" height="7.8" fill="#2326f4"/><rect x="301.1" y="130.6" width="11.6" height="7.8" fill="#2212f2"/><rect x="312.1" y="130.6" width="22.6" height="7.8" fill="#150ba7"/><rect x="334.0" y="130.6" width="22.6" height="7.8" fill="#2212f2"/><rect x="356.0" y="130.6" width="11.6" height="7.8" fill="#359eff"/><rect x="367.0" y="130.6" width="11.6" height="7.8" fill="#43b1ff"/><rect x="377.9" y="130.6" width="11.6" height="7.8" fill="#c0fc5a"/><rect x="388.9" y="130.6" width="11.6" height="7.8" fill="#e3fb3f"/><rect x="399.9" y="130.6" width="22.6" height="7.8" fill="#f5fa32"/><rect x="421.8" y="130.6" width="11.6" height="7.8" fill="#82fcc0"/><rect x="432.8" y="130.6" width="11.6" height="7.8" fill="#7bfbea"/><rect x="443.8" y="130.6" width="11.6" height="7.8" fill="#359eff"/><rect x="454.8" y="130.6" width="11.6" height="7.8" fill="#288cff"/><rect x="465.7" y="130.6" width="11.6" height="7.8" fill="#2778fd"/><rect x="476.7" y="130.6" width="11.6" height="7.8" fill="#2663fb"/><rect x="487.7" y="130.6" width="44.5" height="7.8" fill="#2212f2"/><rect x="531.6" y="130.6" width="22.6" height="7.8" fill="#180dba"/><rect x="553.5" y="130.6" width="22.6" height="7.8" fill="#2212f2"/><rect x="575.5" y="130.6" width="11.6" height="7.8" fill="#2778fd"/><rect x="586.5" y="130.6" width="11.6" height="7.8" fill="#288cff"/><rect x="597.4" y="130.6" width="11.6" height="7.8" fill="#89fe97"/><rect x="608.4" y="130.6" width="11.6" height="7.8" fill="#8cff82"/><rect x="619.4" y="130.6" width="22.6" height="7.8" fill="#c0fc5a"/><rect x="641.3" y="130.6" width="11.6" height="7.8" fill="#7ffcd5"/><rect x="652.3" y="130.6" width="11.6" height="7.8" fill="#7bfbea"/><rect x="663.3" y="130.6" width="11.6" height="7.8" fill="#254ff8"/><rect x="674.3" y="130.6" width="11.6" height="7.8" fill="#243bf6"/><rect x="685.2" y="130.6" width="22.6" height="7.8" fill="#2326f4"/><rect x="707.2" y="130.6" width="66.5" height="7.8" fill="#2212f2"/><rect x="773.0" y="130.6" width="11.6" height="7.8" fill="#43b1ff"/><rect x="784.0" y="130.6" width="11.6" height="7.8" fill="#50c3ff"/><rect x="795.0" y="130.6" width="11.6" height="7.8" fill="#6be8ff"/><rect x="806.0" y="130.6" width="33.5" height="7.8" fill="#78faff"/><rect x="838.9" y="130.6" width="22.6" height="7.8" fill="#50c3ff"/><rect x="860.8" y="130.6" width="11.6" height="7.8" fill="#7bfbea"/><rect x="871.8" y="130.6" width="11.6" height="7.8" fill="#7ffcd5"/><rect x="882.8" y="130.6" width="11.6" height="7.8" fill="#85fdac"/><rect x="893.8" y="130.6" width="11.6" height="7.8" fill="#89fe97"/><rect x="904.7" y="130.6" width="22.6" height="7.8" fill="#c0fc5a"/><rect x="926.7" y="130.6" width="11.6" height="7.8" fill="#f6e72e"/><rect x="937.7" y="130.6" width="11.6" height="7.8" fill="#f7d42a"/><rect x="948.6" y="130.6" width="11.6" height="7.8" fill="#f8ad21"/><rect x="959.6" y="130.6" width="11.6" height="7.8" fill="#f99a1d"/><rect x="970.6" y="130.6" width="22.6" height="7.8" fill="#fa8719"/><rect x="992.5" y="130.6" width="22.6" height="7.8" fill="#f8c026"/><rect x="1014.5" y="130.6" width="44.5" height="7.8" fill="#f5fa32"/><rect x="1058.4" y="130.6" width="11.6" height="7.8" fill="#f8ad21"/><rect x="1069.4" y="130.6" width="11.6" height="7.8" fill="#f99a1d"/><rect x="1080.3" y="130.6" width="11.6" height="7.8" fill="#fe310e"/><rect x="1091.3" y="130.6" width="11.6" height="7.8" fill="#ff200c"/><rect x="1102.3" y="130.6" width="11.6" height="7.8" fill="#fe310e"/><rect x="1113.3" y="130.6" width="11.6" height="7.8" fill="#fd4210"/><rect x="1124.2" y="130.6" width="22.6" height="7.8" fill="#fc5412"/><rect x="1146.2" y="130.6" width="11.6" height="7.8" fill="#f7d42a"/><rect x="1157.2" y="130.6" width="11.6" height="7.8" fill="#f6e72e"/><rect x="1168.1" y="130.6" width="22.6" height="7.8" fill="#c0fc5a"/><rect x="1190.1" y="130.6" width="11.6" height="7.8" fill="#78faff"/><rect x="1201.1" y="130.6" width="11.6" height="7.8" fill="#5dd5ff"/><rect x="1212.0" y="130.6" width="11.6" height="7.8" fill="#43b1ff"/><rect x="1223.0" y="130.6" width="11.6" height="7.8" fill="#359eff"/><rect x="125.5" y="137.9" width="55.5" height="7.8" fill="#82fcc0"/><rect x="180.4" y="137.9" width="22.6" height="7.8" fill="#78faff"/><rect x="202.3" y="137.9" width="22.6" height="7.8" fill="#50c3ff"/><rect x="224.3" y="137.9" width="44.5" height="7.8" fill="#288cff"/><rect x="268.2" y="137.9" width="22.6" height="7.8" fill="#254ff8"/><rect x="290.1" y="137.9" width="11.6" height="7.8" fill="#1b0fcd"/><rect x="301.1" y="137.9" width="11.6" height="7.8" fill="#180dba"/><rect x="312.1" y="137.9" width="22.6" height="7.8" fill="#0e0882"/><rect x="334.0" y="137.9" width="11.6" height="7.8" fill="#1f10df"/><rect x="345.0" y="137.9" width="11.6" height="7.8" fill="#2212f2"/><rect x="356.0" y="137.9" width="11.6" height="7.8" fill="#2778fd"/><rect x="367.0" y="137.9" width="11.6" height="7.8" fill="#359eff"/><rect x="377.9" y="137.9" width="11.6" height="7.8" fill="#affd67"/><rect x="388.9" y="137.9" width="11.6" height="7.8" fill="#c0fc5a"/><rect x="399.9" y="137.9" width="22.6" height="7.8" fill="#f5fa32"/><rect x="421.8" y="137.9" width="11.6" height="7.8" fill="#85fdac"/><rect x="432.8" y="137.9" width="11.6" height="7.8" fill="#82fcc0"/><rect x="443.8" y="137.9" width="11.6" height="7.8" fill="#5dd5ff"/><rect x="454.8" y="137.9" width="11.6" height="7.8" fill="#50c3ff"/><rect x="465.7" y="137.9" width="22.6" height="7.8" fill="#288cff"/><rect x="487.7" y="137.9" width="11.6" height="7.8" fill="#2326f4"/><rect x="498.7" y="137.9" width="33.5" height="7.8" fill="#2212f2"/><rect x="531.6" y="137.9" width="22.6" height="7.8" fill="#180dba"/><rect x="553.5" y="137.9" width="22.6" height="7.8" fill="#2212f2"/><rect x="575.5" y="137.9" width="11.6" height="7.8" fill="#2778fd"/><rect x="586.5" y="137.9" width="11.6" height="7.8" fill="#288cff"/><rect x="597.4" y="137.9" width="11.6" height="7.8" fill="#89fe97"/><rect x="608.4" y="137.9" width="11.6" height="7.8" fill="#8cff82"/><rect x="619.4" y="137.9" width="22.6" height="7.8" fill="#c0fc5a"/><rect x="641.3" y="137.9" width="11.6" height="7.8" fill="#85fdac"/><rect x="652.3" y="137.9" width="11.6" height="7.8" fill="#82fcc0"/><rect x="663.3" y="137.9" width="11.6" height="7.8" fill="#2663fb"/><rect x="674.3" y="137.9" width="11.6" height="7.8" fill="#254ff8"/><rect x="685.2" y="137.9" width="88.4" height="7.8" fill="#2212f2"/><rect x="773.0" y="137.9" width="22.6" height="7.8" fill="#254ff8"/><rect x="795.0" y="137.9" width="44.5" height="7.8" fill="#288cff"/><rect x="838.9" y="137.9" width="22.6" height="7.8" fill="#50c3ff"/><rect x="860.8" y="137.9" width="11.6" height="7.8" fill="#89fe97"/><rect x="871.8" y="137.9" width="11.6" height="7.8" fill="#8cff82"/><rect x="882.8" y="137.9" width="11.6" height="7.8" fill="#e3fb3f"/><rect x="893.8" y="137.9" width="11.6" height="7.8" fill="#f5fa32"/><rect x="904.7" y="137.9" width="44.5" height="7.8" fill="#f8c026"/><rect x="948.6" y="137.9" width="44.5" height="7.8" fill="#fa8719"/><rect x="992.5" y="137.9" width="22.6" height="7.8" fill="#f8c026"/><rect x="1014.5" y="137.9" width="44.5" height="7.8" fill="#f5fa32"/><rect x="1058.4" y="137.9" width="22.6" height="7.8" fill="#f8c026"/><rect x="1080.3" y="137.9" width="11.6" height="7.8" fill="#fe310e"/><rect x="1091.3" y="137.9" width="11.6" height="7.8" fill="#ff200c"/><rect x="1102.3" y="137.9" width="44.5" height="7.8" fill="#fc5412"/><rect x="1146.2" y="137.9" width="11.6" height="7.8" fill="#f6e72e"/><rect x="1157.2" y="137.9" width="11.6" height="7.8" fill="#f5fa32"/><rect x="1168.1" y="137.9" width="11.6" height="7.8" fill="#9efe75"/><rect x="1179.1" y="137.9" width="11.6" height="7.8" fill="#8cff82"/><rect x="1190.1" y="137.9" width="11.6" height="7.8" fill="#5dd5ff"/><rect x="1201.1" y="137.9" width="11.6" height="7.8" fill="#50c3ff"/><rect x="1212.0" y="137.9" width="22.6" height="7.8" fill="#288cff"/><rect x="125.5" y="145.1" width="55.5" height="7.8" fill="#7bfbea"/><rect x="180.4" y="145.1" width="22.6" height="7.8" fill="#78faff"/><rect x="202.3" y="145.1" width="22.6" height="7.8" fill="#50c3ff"/><rect x="224.3" y="145.1" width="33.5" height="7.8" fill="#43b1ff"/><rect x="257.2" y="145.1" width="11.6" height="7.8" fill="#359eff"/><rect x="268.2" y="145.1" width="11.6" height="7.8" fill="#2778fd"/><rect x="279.2" y="145.1" width="11.6" height="7.8" fill="#2663fb"/><rect x="290.1" y="145.1" width="11.6" height="7.8" fill="#1f10df"/><rect x="301.1" y="145.1" width="11.6" height="7.8" fill="#1b0fcd"/><rect x="312.1" y="145.1" width="22.6" height="7.8" fill="#150ba7"/><rect x="334.0" y="145.1" width="22.6" height="7.8" fill="#2212f2"/><rect x="356.0" y="145.1" width="11.6" height="7.8" fill="#2663fb"/><rect x="367.0" y="145.1" width="11.6" height="7.8" fill="#2778fd"/><rect x="377.9" y="145.1" width="11.6" height="7.8" fill="#82fcc0"/><rect x="388.9" y="145.1" width="11.6" height="7.8" fill="#85fdac"/><rect x="399.9" y="145.1" width="22.6" height="7.8" fill="#9efe75"/><rect x="421.8" y="145.1" width="22.6" height="7.8" fill="#82fcc0"/><rect x="443.8" y="145.1" width="11.6" height="7.8" fill="#6be8ff"/><rect x="454.8" y="145.1" width="11.6" height="7.8" fill="#5dd5ff"/><rect x="465.7" y="145.1" width="22.6" height="7.8" fill="#288cff"/><rect x="487.7" y="145.1" width="11.6" height="7.8" fill="#243bf6"/><rect x="498.7" y="145.1" width="11.6" height="7.8" fill="#2326f4"/><rect x="509.6" y="145.1" width="22.6" height="7.8" fill="#2212f2"/><rect x="531.6" y="145.1" width="22.6" height="7.8" fill="#1f10df"/><rect x="553.5" y="145.1" width="22.6" height="7.8" fill="#2212f2"/><rect x="575.5" y="145.1" width="11.6" height="7.8" fill="#2778fd"/><rect x="586.5" y="145.1" width="11.6" height="7.8" fill="#288cff"/><rect x="597.4" y="145.1" width="11.6" height="7.8" fill="#82fcc0"/><rect x="608.4" y="145.1" width="11.6" height="7.8" fill="#89fe97"/><rect x="619.4" y="145.1" width="22.6" height="7.8" fill="#c0fc5a"/><rect x="641.3" y="145.1" width="11.6" height="7.8" fill="#85fdac"/><rect x="652.3" y="145.1" width="11.6" height="7.8" fill="#82fcc0"/><rect x="663.3" y="145.1" width="11.6" height="7.8" fill="#288cff"/><rect x="674.3" y="145.1" width="11.6" height="7.8" fill="#2663fb"/><rect x="685.2" y="145.1" width="66.5" height="7.8" fill="#2212f2"/><rect x="751.1" y="145.1" width="22.6" height="7.8" fill="#1f10df"/><rect x="773.0" y="145.1" width="22.6" height="7.8" fill="#2326f4"/><rect x="795.0" y="145.1" width="44.5" height="7.8" fill="#254ff8"/><rect x="838.9" y="145.1" width="11.6" height="7.8" fill="#43b1ff"/><rect x="849.9" y="145.1" width="11.6" height="7.8" fill="#50c3ff"/><rect x="860.8" y="145.1" width="11.6" height="7.8" fill="#8cff82"/><rect x="871.8" y="145.1" width="11.6" height="7.8" fill="#affd67"/><rect x="882.8" y="145.1" width="11.6" height="7.8" fill="#f6e72e"/><rect x="893.8" y="145.1" width="11.6" height="7.8" fill="#f7d42a"/><rect x="904.7" y="145.1" width="11.6" height="7.8" fill="#f8ad21"/><rect x="915.7" y="145.1" width="33.5" height="7.8" fill="#f99a1d"/><rect x="948.6" y="145.1" width="11.6" height="7.8" fill="#fb7617"/><rect x="959.6" y="145.1" width="11.6" height="7.8" fill="#fc6515"/><rect x="970.6" y="145.1" width="22.6" height="7.8" fill="#fa8719"/><rect x="992.5" y="145.1" width="22.6" height="7.8" fill="#f8c026"/><rect x="1014.5" y="145.1" width="22.6" height="7.8" fill="#f5fa32"/><rect x="1036.4" y="145.1" width="11.6" height="7.8" fill="#f6e72e"/><rect x="1047.4" y="145.1" width="11.6" height="7.8" fill="#f7d42a"/><rect x="1058.4" y="145.1" width="11.6" height="7.8" fill="#f8ad21"/><rect x="1069.4" y="145.1" width="11.6" height="7.8" fill="#f99a1d"/><rect x="1080.3" y="145.1" width="11.6" height="7.8" fill="#fe310e"/><rect x="1091.3" y="145.1" width="11.6" height="7.8" fill="#ff200c"/><rect x="1102.3" y="145.1" width="11.6" height="7.8" fill="#fe310e"/><rect x="1113.3" y="145.1" width="11.6" height="7.8" fill="#fd4210"/><rect x="1124.2" y="145.1" width="22.6" height="7.8" fill="#fa8719"/><rect x="1146.2" y="145.1" width="11.6" height="7.8" fill="#e3fb3f"/><rect x="1157.2" y="145.1" width="11.6" height="7.8" fill="#d2fc4d"/><rect x="1168.1" y="145.1" width="11.6" height="7.8" fill="#85fdac"/><rect x="1179.1" y="145.1" width="11.6" height="7.8" fill="#82fcc0"/><rect x="1190.1" y="145.1" width="11.6" height="7.8" fill="#43b1ff"/><rect x="1201.1" y="145.1" width="11.6" height="7.8" fill="#359eff"/><rect x="1212.0" y="145.1" width="11.6" height="7.8" fill="#2778fd"/><rect x="1223.0" y="145.1" width="11.6" height="7.8" fill="#2663fb"/><rect x="125.5" y="152.3" width="77.4" height="7.8" fill="#78faff"/><rect x="202.3" y="152.3" width="66.5" height="7.8" fill="#50c3ff"/><rect x="268.2" y="152.3" width="22.6" height="7.8" fill="#288cff"/><rect x="290.1" y="152.3" width="11.6" height="7.8" fill="#2326f4"/><rect x="301.1" y="152.3" width="11.6" height="7.8" fill="#2212f2"/><rect x="312.1" y="152.3" width="22.6" height="7.8" fill="#180dba"/><rect x="334.0" y="152.3" width="22.6" height="7.8" fill="#2212f2"/><rect x="356.0" y="152.3" width="22.6" height="7.8" fill="#254ff8"/><rect x="377.9" y="152.3" width="11.6" height="7.8" fill="#6be8ff"/><rect x="388.9" y="152.3" width="11.6" height="7.8" fill="#78faff"/><rect x="399.9" y="152.3" width="44.5" height="7.8" fill="#82fcc0"/><rect x="443.8" y="152.3" width="22.6" height="7.8" fill="#78faff"/><rect x="465.7" y="152.3" width="11.6" height="7.8" fill="#359eff"/><rect x="476.7" y="152.3" width="11.6" height="7.8" fill="#288cff"/><rect x="487.7" y="152.3" width="22.6" height="7.8" fill="#254ff8"/><rect x="509.6" y="152.3" width="66.5" height="7.8" fill="#2212f2"/><rect x="575.5" y="152.3" width="11.6" height="7.8" fill="#2778fd"/><rect x="586.5" y="152.3" width="11.6" height="7.8" fill="#288cff"/><rect x="597.4" y="152.3" width="11.6" height="7.8" fill="#7ffcd5"/><rect x="608.4" y="152.3" width="11.6" height="7.8" fill="#82fcc0"/><rect x="619.4" y="152.3" width="11.6" height="7.8" fill="#affd67"/><rect x="630.4" y="152.3" width="11.6" height="7.8" fill="#c0fc5a"/><rect x="641.3" y="152.3" width="11.6" height="7.8" fill="#85fdac"/><rect x="652.3" y="152.3" width="11.6" height="7.8" fill="#82fcc0"/><rect x="663.3" y="152.3" width="11.6" height="7.8" fill="#359eff"/><rect x="674.3" y="152.3" width="11.6" height="7.8" fill="#288cff"/><rect x="685.2" y="152.3" width="11.6" height="7.8" fill="#2326f4"/><rect x="696.2" y="152.3" width="55.5" height="7.8" fill="#2212f2"/><rect x="751.1" y="152.3" width="22.6" height="7.8" fill="#180dba"/><rect x="773.0" y="152.3" width="66.5" height="7.8" fill="#2212f2"/><rect x="838.9" y="152.3" width="11.6" height="7.8" fill="#43b1ff"/><rect x="849.9" y="152.3" width="11.6" height="7.8" fill="#50c3ff"/><rect x="860.8" y="152.3" width="11.6" height="7.8" fill="#affd67"/><rect x="871.8" y="152.3" width="11.6" height="7.8" fill="#c0fc5a"/><rect x="882.8" y="152.3" width="11.6" height="7.8" fill="#f7d42a"/><rect x="893.8" y="152.3" width="11.6" height="7.8" fill="#f8c026"/><rect x="904.7" y="152.3" width="44.5" height="7.8" fill="#fa8719"/><rect x="948.6" y="152.3" width="22.6" height="7.8" fill="#fc5412"/><rect x="970.6" y="152.3" width="22.6" height="7.8" fill="#fa8719"/><rect x="992.5" y="152.3" width="22.6" height="7.8" fill="#f8c026"/><rect x="1014.5" y="152.3" width="22.6" height="7.8" fill="#f5fa32"/><rect x="1036.4" y="152.3" width="22.6" height="7.8" fill="#f8c026"/><rect x="1058.4" y="152.3" width="22.6" height="7.8" fill="#fa8719"/><rect x="1080.3" y="152.3" width="11.6" height="7.8" fill="#fe310e"/><rect x="1091.3" y="152.3" width="33.5" height="7.8" fill="#ff200c"/><rect x="1124.2" y="152.3" width="11.6" height="7.8" fill="#f8ad21"/><rect x="1135.2" y="152.3" width="11.6" height="7.8" fill="#f8c026"/><rect x="1146.2" y="152.3" width="11.6" height="7.8" fill="#d2fc4d"/><rect x="1157.2" y="152.3" width="11.6" height="7.8" fill="#c0fc5a"/><rect x="1168.1" y="152.3" width="11.6" height="7.8" fill="#7bfbea"/><rect x="1179.1" y="152.3" width="11.6" height="7.8" fill="#78faff"/><rect x="1190.1" y="152.3" width="11.6" height="7.8" fill="#359eff"/><rect x="1201.1" y="152.3" width="11.6" height="7.8" fill="#288cff"/><rect x="1212.0" y="152.3" width="22.6" height="7.8" fill="#254ff8"/><rect x="125.5" y="159.6" width="77.4" height="7.8" fill="#359eff"/><rect x="202.3" y="159.6" width="22.6" height="7.8" fill="#288cff"/><rect x="224.3" y="159.6" width="44.5" height="7.8" fill="#359eff"/><rect x="268.2" y="159.6" width="22.6" height="7.8" fill="#288cff"/><rect x="290.1" y="159.6" width="11.6" height="7.8" fill="#243bf6"/><rect x="301.1" y="159.6" width="11.6" height="7.8" fill="#2326f4"/><rect x="312.1" y="159.6" width="22.6" height="7.8" fill="#180dba"/><rect x="334.0" y="159.6" width="22.6" height="7.8" fill="#2212f2"/><rect x="356.0" y="159.6" width="11.6" height="7.8" fill="#2326f4"/><rect x="367.0" y="159.6" width="11.6" height="7.8" fill="#243bf6"/><rect x="377.9" y="159.6" width="11.6" height="7.8" fill="#43b1ff"/><rect x="388.9" y="159.6" width="11.6" height="7.8" fill="#50c3ff"/><rect x="399.9" y="159.6" width="44.5" height="7.8" fill="#5dd5ff"/><rect x="443.8" y="159.6" width="11.6" height="7.8" fill="#43b1ff"/><rect x="454.8" y="159.6" width="11.6" height="7.8" fill="#359eff"/><rect x="465.7" y="159.6" width="22.6" height="7.8" fill="#254ff8"/><rect x="487.7" y="159.6" width="11.6" height="7.8" fill="#243bf6"/><rect x="498.7" y="159.6" width="11.6" height="7.8" fill="#2326f4"/><rect x="509.6" y="159.6" width="22.6" height="7.8" fill="#1f10df"/><rect x="531.6" y="159.6" width="44.5" height="7.8" fill="#2212f2"/><rect x="575.5" y="159.6" width="11.6" height="7.8" fill="#2663fb"/><rect x="586.5" y="159.6" width="11.6" height="7.8" fill="#2778fd"/><rect x="597.4" y="159.6" width="11.6" height="7.8" fill="#5dd5ff"/><rect x="608.4" y="159.6" width="11.6" height="7.8" fill="#6be8ff"/><rect x="619.4" y="159.6" width="11.6" height="7.8" fill="#7ffcd5"/><rect x="630.4" y="159.6" width="11.6" height="7.8" fill="#82fcc0"/><rect x="641.3" y="159.6" width="22.6" height="7.8" fill="#78faff"/><rect x="663.3" y="159.6" width="11.6" height="7.8" fill="#359eff"/><rect x="674.3" y="159.6" width="11.6" height="7.8" fill="#288cff"/><rect x="685.2" y="159.6" width="11.6" height="7.8" fill="#2326f4"/><rect x="696.2" y="159.6" width="55.5" height="7.8" fill="#2212f2"/><rect x="751.1" y="159.6" width="22.6" height="7.8" fill="#180dba"/><rect x="773.0" y="159.6" width="11.6" height="7.8" fill="#1b0fcd"/><rect x="784.0" y="159.6" width="11.6" height="7.8" fill="#1f10df"/><rect x="795.0" y="159.6" width="44.5" height="7.8" fill="#2212f2"/><rect x="838.9" y="159.6" width="11.6" height="7.8" fill="#359eff"/><rect x="849.9" y="159.6" width="11.6" height="7.8" fill="#43b1ff"/><rect x="860.8" y="159.6" width="11.6" height="7.8" fill="#affd67"/><rect x="871.8" y="159.6" width="11.6" height="7.8" fill="#c0fc5a"/><rect x="882.8" y="159.6" width="11.6" height="7.8" fill="#f8ad21"/><rect x="893.8" y="159.6" width="11.6" height="7.8" fill="#f99a1d"/><rect x="904.7" y="159.6" width="44.5" height="7.8" fill="#fa8719"/><rect x="948.6" y="159.6" width="22.6" height="7.8" fill="#fb7617"/><rect x="970.6" y="159.6" width="11.6" height="7.8" fill="#f99a1d"/><rect x="981.6" y="159.6" width="11.6" height="7.8" fill="#f8ad21"/><rect x="992.5" y="159.6" width="11.6" height="7.8" fill="#f7d42a"/><rect x="1003.5" y="159.6" width="11.6" height="7.8" fill="#f6e72e"/><rect x="1014.5" y="159.6" width="22.6" height="7.8" fill="#f7d42a"/><rect x="1036.4" y="159.6" width="11.6" height="7.8" fill="#f8ad21"/><rect x="1047.4" y="159.6" width="11.6" height="7.8" fill="#f99a1d"/><rect x="1058.4" y="159.6" width="11.6" height="7.8" fill="#fb7617"/><rect x="1069.4" y="159.6" width="11.6" height="7.8" fill="#fc6515"/><rect x="1080.3" y="159.6" width="44.5" height="7.8" fill="#fd4210"/><rect x="1124.2" y="159.6" width="11.6" height="7.8" fill="#f8ad21"/><rect x="1135.2" y="159.6" width="11.6" height="7.8" fill="#f8c026"/><rect x="1146.2" y="159.6" width="11.6" height="7.8" fill="#d2fc4d"/><rect x="1157.2" y="159.6" width="11.6" height="7.8" fill="#c0fc5a"/><rect x="1168.1" y="159.6" width="11.6" height="7.8" fill="#7bfbea"/><rect x="1179.1" y="159.6" width="11.6" height="7.8" fill="#78faff"/><rect x="1190.1" y="159.6" width="11.6" height="7.8" fill="#359eff"/><rect x="1201.1" y="159.6" width="11.6" height="7.8" fill="#288cff"/><rect x="1212.0" y="159.6" width="22.6" height="7.8" fill="#254ff8"/><rect x="125.5" y="166.8" width="99.4" height="7.8" fill="#254ff8"/><rect x="224.3" y="166.8" width="66.5" height="7.8" fill="#288cff"/><rect x="290.1" y="166.8" width="22.6" height="7.8" fill="#254ff8"/><rect x="312.1" y="166.8" width="11.6" height="7.8" fill="#1b0fcd"/><rect x="323.1" y="166.8" width="11.6" height="7.8" fill="#180dba"/><rect x="334.0" y="166.8" width="44.5" height="7.8" fill="#2212f2"/><rect x="377.9" y="166.8" width="11.6" height="7.8" fill="#2778fd"/><rect x="388.9" y="166.8" width="55.5" height="7.8" fill="#288cff"/><rect x="443.8" y="166.8" width="22.6" height="7.8" fill="#254ff8"/><rect x="465.7" y="166.8" width="44.5" height="7.8" fill="#2212f2"/><rect x="509.6" y="166.8" width="22.6" height="7.8" fill="#180dba"/><rect x="531.6" y="166.8" width="44.5" height="7.8" fill="#2212f2"/><rect x="575.5" y="166.8" width="22.6" height="7.8" fill="#254ff8"/><rect x="597.4" y="166.8" width="22.6" height="7.8" fill="#288cff"/><rect x="619.4" y="166.8" width="44.5" height="7.8" fill="#50c3ff"/><rect x="663.3" y="166.8" width="22.6" height="7.8" fill="#288cff"/><rect x="685.2" y="166.8" width="11.6" height="7.8" fill="#2326f4"/><rect x="696.2" y="166.8" width="55.5" height="7.8" fill="#2212f2"/><rect x="751.1" y="166.8" width="44.5" height="7.8" fill="#180dba"/><rect x="795.0" y="166.8" width="44.5" height="7.8" fill="#2212f2"/><rect x="838.9" y="166.8" width="11.6" height="7.8" fill="#2778fd"/><rect x="849.9" y="166.8" width="11.6" height="7.8" fill="#359eff"/><rect x="860.8" y="166.8" width="11.6" height="7.8" fill="#9efe75"/><rect x="871.8" y="166.8" width="11.6" height="7.8" fill="#c0fc5a"/><rect x="882.8" y="166.8" width="11.6" height="7.8" fill="#f99a1d"/><rect x="893.8" y="166.8" width="77.4" height="7.8" fill="#fa8719"/><rect x="970.6" y="166.8" width="22.6" height="7.8" fill="#f8c026"/><rect x="992.5" y="166.8" width="22.6" height="7.8" fill="#f5fa32"/><rect x="1014.5" y="166.8" width="22.6" height="7.8" fill="#f8c026"/><rect x="1036.4" y="166.8" width="22.6" height="7.8" fill="#fa8719"/><rect x="1058.4" y="166.8" width="66.5" height="7.8" fill="#fc5412"/><rect x="1124.2" y="166.8" width="11.6" height="7.8" fill="#f8ad21"/><rect x="1135.2" y="166.8" width="11.6" height="7.8" fill="#f8c026"/><rect x="1146.2" y="166.8" width="11.6" height="7.8" fill="#d2fc4d"/><rect x="1157.2" y="166.8" width="11.6" height="7.8" fill="#c0fc5a"/><rect x="1168.1" y="166.8" width="11.6" height="7.8" fill="#7bfbea"/><rect x="1179.1" y="166.8" width="11.6" height="7.8" fill="#78faff"/><rect x="1190.1" y="166.8" width="11.6" height="7.8" fill="#359eff"/><rect x="1201.1" y="166.8" width="11.6" height="7.8" fill="#288cff"/><rect x="1212.0" y="166.8" width="22.6" height="7.8" fill="#254ff8"/><rect x="125.5" y="174.0" width="88.4" height="7.8" fill="#2326f4"/><rect x="213.3" y="174.0" width="11.6" height="7.8" fill="#243bf6"/><rect x="224.3" y="174.0" width="11.6" height="7.8" fill="#2663fb"/><rect x="235.3" y="174.0" width="11.6" height="7.8" fill="#2778fd"/><rect x="246.2" y="174.0" width="22.6" height="7.8" fill="#288cff"/><rect x="268.2" y="174.0" width="11.6" height="7.8" fill="#2778fd"/><rect x="279.2" y="174.0" width="11.6" height="7.8" fill="#2663fb"/><rect x="290.1" y="174.0" width="11.6" height="7.8" fill="#243bf6"/><rect x="301.1" y="174.0" width="11.6" height="7.8" fill="#2326f4"/><rect x="312.1" y="174.0" width="22.6" height="7.8" fill="#180dba"/><rect x="334.0" y="174.0" width="33.5" height="7.8" fill="#1b0fcd"/><rect x="367.0" y="174.0" width="11.6" height="7.8" fill="#1f10df"/><rect x="377.9" y="174.0" width="11.6" height="7.8" fill="#243bf6"/><rect x="388.9" y="174.0" width="55.5" height="7.8" fill="#254ff8"/><rect x="443.8" y="174.0" width="22.6" height="7.8" fill="#2212f2"/><rect x="465.7" y="174.0" width="11.6" height="7.8" fill="#1f10df"/><rect x="476.7" y="174.0" width="33.5" height="7.8" fill="#1b0fcd"/><rect x="509.6" y="174.0" width="22.6" height="7.8" fill="#180dba"/><rect x="531.6" y="174.0" width="11.6" height="7.8" fill="#1b0fcd"/><rect x="542.6" y="174.0" width="11.6" height="7.8" fill="#1f10df"/><rect x="553.5" y="174.0" width="22.6" height="7.8" fill="#2212f2"/><rect x="575.5" y="174.0" width="11.6" height="7.8" fill="#2326f4"/><rect x="586.5" y="174.0" width="11.6" height="7.8" fill="#243bf6"/><rect x="597.4" y="174.0" width="11.6" height="7.8" fill="#2663fb"/><rect x="608.4" y="174.0" width="11.6" height="7.8" fill="#2778fd"/><rect x="619.4" y="174.0" width="44.5" height="7.8" fill="#288cff"/><rect x="663.3" y="174.0" width="11.6" height="7.8" fill="#2778fd"/><rect x="674.3" y="174.0" width="11.6" height="7.8" fill="#2663fb"/><rect x="685.2" y="174.0" width="44.5" height="7.8" fill="#2212f2"/><rect x="729.1" y="174.0" width="11.6" height="7.8" fill="#1f10df"/><rect x="740.1" y="174.0" width="11.6" height="7.8" fill="#1b0fcd"/><rect x="751.1" y="174.0" width="44.5" height="7.8" fill="#180dba"/><rect x="795.0" y="174.0" width="11.6" height="7.8" fill="#1b0fcd"/><rect x="806.0" y="174.0" width="11.6" height="7.8" fill="#1f10df"/><rect x="816.9" y="174.0" width="22.6" height="7.8" fill="#2212f2"/><rect x="838.9" y="174.0" width="11.6" height="7.8" fill="#2778fd"/><rect x="849.9" y="174.0" width="11.6" height="7.8" fill="#359eff"/><rect x="860.8" y="174.0" width="11.6" height="7.8" fill="#9efe75"/><rect x="871.8" y="174.0" width="11.6" height="7.8" fill="#c0fc5a"/><rect x="882.8" y="174.0" width="11.6" height="7.8" fill="#f8ad21"/><rect x="893.8" y="174.0" width="11.6" height="7.8" fill="#f99a1d"/><rect x="904.7" y="174.0" width="22.6" height="7.8" fill="#fa8719"/><rect x="926.7" y="174.0" width="11.6" height="7.8" fill="#f99a1d"/><rect x="937.7" y="174.0" width="33.5" height="7.8" fill="#f8ad21"/><rect x="970.6" y="174.0" width="22.6" height="7.8" fill="#f8c026"/><rect x="992.5" y="174.0" width="22.6" height="7.8" fill="#f5fa32"/><rect x="1014.5" y="174.0" width="22.6" height="7.8" fill="#f8c026"/><rect x="1036.4" y="174.0" width="22.6" height="7.8" fill="#fa8719"/><rect x="1058.4" y="174.0" width="66.5" height="7.8" fill="#fc5412"/><rect x="1124.2" y="174.0" width="11.6" height="7.8" fill="#f99a1d"/><rect x="1135.2" y="174.0" width="11.6" height="7.8" fill="#f8ad21"/><rect x="1146.2" y="174.0" width="11.6" height="7.8" fill="#e3fb3f"/><rect x="1157.2" y="174.0" width="11.6" height="7.8" fill="#d2fc4d"/><rect x="1168.1" y="174.0" width="11.6" height="7.8" fill="#82fcc0"/><rect x="1179.1" y="174.0" width="11.6" height="7.8" fill="#7bfbea"/><rect x="1190.1" y="174.0" width="11.6" height="7.8" fill="#43b1ff"/><rect x="1201.1" y="174.0" width="11.6" height="7.8" fill="#359eff"/><rect x="1212.0" y="174.0" width="22.6" height="7.8" fill="#2778fd"/><rect x="125.5" y="181.3" width="99.4" height="7.8" fill="#2212f2"/><rect x="224.3" y="181.3" width="22.6" height="7.8" fill="#254ff8"/><rect x="246.2" y="181.3" width="22.6" height="7.8" fill="#288cff"/><rect x="268.2" y="181.3" width="22.6" height="7.8" fill="#254ff8"/><rect x="290.1" y="181.3" width="22.6" height="7.8" fill="#2212f2"/><rect x="312.1" y="181.3" width="66.5" height="7.8" fill="#180dba"/><rect x="377.9" y="181.3" width="66.5" height="7.8" fill="#2212f2"/><rect x="443.8" y="181.3" width="110.4" height="7.8" fill="#180dba"/><rect x="553.5" y="181.3" width="44.5" height="7.8" fill="#2212f2"/><rect x="597.4" y="181.3" width="88.4" height="7.8" fill="#254ff8"/><rect x="685.2" y="181.3" width="44.5" height="7.8" fill="#2212f2"/><rect x="729.1" y="181.3" width="88.4" height="7.8" fill="#180dba"/><rect x="816.9" y="181.3" width="22.6" height="7.8" fill="#2212f2"/><rect x="838.9" y="181.3" width="11.6" height="7.8" fill="#2778fd"/><rect x="849.9" y="181.3" width="11.6" height="7.8" fill="#359eff"/><rect x="860.8" y="181.3" width="11.6" height="7.8" fill="#9efe75"/><rect x="871.8" y="181.3" width="11.6" height="7.8" fill="#c0fc5a"/><rect x="882.8" y="181.3" width="11.6" height="7.8" fill="#f7d42a"/><rect x="893.8" y="181.3" width="11.6" height="7.8" fill="#f8c026"/><rect x="904.7" y="181.3" width="22.6" height="7.8" fill="#fa8719"/><rect x="926.7" y="181.3" width="66.5" height="7.8" fill="#f8c026"/><rect x="992.5" y="181.3" width="22.6" height="7.8" fill="#f5fa32"/><rect x="1014.5" y="181.3" width="22.6" height="7.8" fill="#f8c026"/><rect x="1036.4" y="181.3" width="22.6" height="7.8" fill="#fa8719"/><rect x="1058.4" y="181.3" width="66.5" height="7.8" fill="#fc5412"/><rect x="1124.2" y="181.3" width="22.6" height="7.8" fill="#fa8719"/><rect x="1146.2" y="181.3" width="11.6" height="7.8" fill="#f6e72e"/><rect x="1157.2" y="181.3" width="11.6" height="7.8" fill="#f5fa32"/><rect x="1168.1" y="181.3" width="11.6" height="7.8" fill="#85fdac"/><rect x="1179.1" y="181.3" width="11.6" height="7.8" fill="#82fcc0"/><rect x="1190.1" y="181.3" width="11.6" height="7.8" fill="#5dd5ff"/><rect x="1201.1" y="181.3" width="11.6" height="7.8" fill="#50c3ff"/><rect x="1212.0" y="181.3" width="22.6" height="7.8" fill="#288cff"/><rect x="125.5" y="188.5" width="55.5" height="7.8" fill="#2778fd"/><rect x="180.4" y="188.5" width="44.5" height="7.8" fill="#254ff8"/><rect x="224.3" y="188.5" width="11.6" height="7.8" fill="#2663fb"/><rect x="235.3" y="188.5" width="11.6" height="7.8" fill="#2778fd"/><rect x="246.2" y="188.5" width="22.6" height="7.8" fill="#288cff"/><rect x="268.2" y="188.5" width="11.6" height="7.8" fill="#2778fd"/><rect x="279.2" y="188.5" width="11.6" height="7.8" fill="#2663fb"/><rect x="290.1" y="188.5" width="22.6" height="7.8" fill="#254ff8"/><rect x="312.1" y="188.5" width="11.6" height="7.8" fill="#1f10df"/><rect x="323.1" y="188.5" width="11.6" height="7.8" fill="#1b0fcd"/><rect x="334.0" y="188.5" width="44.5" height="7.8" fill="#180dba"/><rect x="377.9" y="188.5" width="66.5" height="7.8" fill="#1b0fcd"/><rect x="443.8" y="188.5" width="88.4" height="7.8" fill="#180dba"/><rect x="531.6" y="188.5" width="11.6" height="7.8" fill="#1b0fcd"/><rect x="542.6" y="188.5" width="11.6" height="7.8" fill="#1f10df"/><rect x="553.5" y="188.5" width="22.6" height="7.8" fill="#2212f2"/><rect x="575.5" y="188.5" width="11.6" height="7.8" fill="#2326f4"/><rect x="586.5" y="188.5" width="11.6" height="7.8" fill="#243bf6"/><rect x="597.4" y="188.5" width="22.6" height="7.8" fill="#254ff8"/><rect x="619.4" y="188.5" width="11.6" height="7.8" fill="#2663fb"/><rect x="630.4" y="188.5" width="44.5" height="7.8" fill="#2778fd"/><rect x="674.3" y="188.5" width="11.6" height="7.8" fill="#2663fb"/><rect x="685.2" y="188.5" width="33.5" height="7.8" fill="#243bf6"/><rect x="718.2" y="188.5" width="11.6" height="7.8" fill="#2326f4"/><rect x="729.1" y="188.5" width="88.4" height="7.8" fill="#1f10df"/><rect x="816.9" y="188.5" width="11.6" height="7.8" fill="#2326f4"/><rect x="827.9" y="188.5" width="11.6" height="7.8" fill="#243bf6"/><rect x="838.9" y="188.5" width="11.6" height="7.8" fill="#359eff"/><rect x="849.9" y="188.5" width="11.6" height="7.8" fill="#43b1ff"/><rect x="860.8" y="188.5" width="11.6" height="7.8" fill="#8cff82"/><rect x="871.8" y="188.5" width="11.6" height="7.8" fill="#affd67"/><rect x="882.8" y="188.5" width="11.6" height="7.8" fill="#f7d42a"/><rect x="893.8" y="188.5" width="33.5" height="7.8" fill="#f8c026"/><rect x="926.7" y="188.5" width="22.6" height="7.8" fill="#f5fa32"/><rect x="948.6" y="188.5" width="11.6" height="7.8" fill="#e3fb3f"/><rect x="959.6" y="188.5" width="11.6" height="7.8" fill="#d2fc4d"/><rect x="970.6" y="188.5" width="44.5" height="7.8" fill="#f5fa32"/><rect x="1014.5" y="188.5" width="11.6" height="7.8" fill="#f8ad21"/><rect x="1025.5" y="188.5" width="11.6" height="7.8" fill="#f99a1d"/><rect x="1036.4" y="188.5" width="11.6" height="7.8" fill="#fb7617"/><rect x="1047.4" y="188.5" width="11.6" height="7.8" fill="#fc6515"/><rect x="1058.4" y="188.5" width="22.6" height="7.8" fill="#fc5412"/><rect x="1080.3" y="188.5" width="11.6" height="7.8" fill="#fd4210"/><rect x="1091.3" y="188.5" width="11.6" height="7.8" fill="#fe310e"/><rect x="1102.3" y="188.5" width="22.6" height="7.8" fill="#fc5412"/><rect x="1124.2" y="188.5" width="11.6" height="7.8" fill="#fc6515"/><rect x="1135.2" y="188.5" width="11.6" height="7.8" fill="#fb7617"/><rect x="1146.2" y="188.5" width="11.6" height="7.8" fill="#f99a1d"/><rect x="1157.2" y="188.5" width="11.6" height="7.8" fill="#f8ad21"/><rect x="1168.1" y="188.5" width="11.6" height="7.8" fill="#d2fc4d"/><rect x="1179.1" y="188.5" width="11.6" height="7.8" fill="#c0fc5a"/><rect x="1190.1" y="188.5" width="11.6" height="7.8" fill="#85fdac"/><rect x="1201.1" y="188.5" width="11.6" height="7.8" fill="#82fcc0"/><rect x="1212.0" y="188.5" width="11.6" height="7.8" fill="#7bfbea"/><rect x="1223.0" y="188.5" width="11.6" height="7.8" fill="#78faff"/><rect x="125.5" y="195.7" width="55.5" height="7.8" fill="#50c3ff"/><rect x="180.4" y="195.7" width="132.3" height="7.8" fill="#288cff"/><rect x="312.1" y="195.7" width="11.6" height="7.8" fill="#2326f4"/><rect x="323.1" y="195.7" width="11.6" height="7.8" fill="#2212f2"/><rect x="334.0" y="195.7" width="198.2" height="7.8" fill="#180dba"/><rect x="531.6" y="195.7" width="44.5" height="7.8" fill="#2212f2"/><rect x="575.5" y="195.7" width="44.5" height="7.8" fill="#254ff8"/><rect x="619.4" y="195.7" width="66.5" height="7.8" fill="#288cff"/><rect x="685.2" y="195.7" width="44.5" height="7.8" fill="#254ff8"/><rect x="729.1" y="195.7" width="88.4" height="7.8" fill="#2212f2"/><rect x="816.9" y="195.7" width="22.6" height="7.8" fill="#254ff8"/><rect x="838.9" y="195.7" width="11.6" height="7.8" fill="#43b1ff"/><rect x="849.9" y="195.7" width="11.6" height="7.8" fill="#50c3ff"/><rect x="860.8" y="195.7" width="11.6" height="7.8" fill="#89fe97"/><rect x="871.8" y="195.7" width="11.6" height="7.8" fill="#8cff82"/><rect x="882.8" y="195.7" width="11.6" height="7.8" fill="#f7d42a"/><rect x="893.8" y="195.7" width="11.6" height="7.8" fill="#f8c026"/><rect x="904.7" y="195.7" width="22.6" height="7.8" fill="#f5fa32"/><rect x="926.7" y="195.7" width="22.6" height="7.8" fill="#c0fc5a"/><rect x="948.6" y="195.7" width="22.6" height="7.8" fill="#8cff82"/><rect x="970.6" y="195.7" width="22.6" height="7.8" fill="#c0fc5a"/><rect x="992.5" y="195.7" width="22.6" height="7.8" fill="#f5fa32"/><rect x="1014.5" y="195.7" width="11.6" height="7.8" fill="#f99a1d"/><rect x="1025.5" y="195.7" width="11.6" height="7.8" fill="#fa8719"/><rect x="1036.4" y="195.7" width="44.5" height="7.8" fill="#fc5412"/><rect x="1080.3" y="195.7" width="22.6" height="7.8" fill="#ff200c"/><rect x="1102.3" y="195.7" width="66.5" height="7.8" fill="#fc5412"/><rect x="1168.1" y="195.7" width="11.6" height="7.8" fill="#f8ad21"/><rect x="1179.1" y="195.7" width="11.6" height="7.8" fill="#f8c026"/><rect x="1190.1" y="195.7" width="11.6" height="7.8" fill="#d2fc4d"/><rect x="1201.1" y="195.7" width="11.6" height="7.8" fill="#c0fc5a"/><rect x="1212.0" y="195.7" width="22.6" height="7.8" fill="#8cff82"/><rect x="125.5" y="203.0" width="55.5" height="7.8" fill="#affd67"/><rect x="180.4" y="203.0" width="11.6" height="7.8" fill="#9efe75"/><rect x="191.4" y="203.0" width="33.5" height="7.8" fill="#8cff82"/><rect x="224.3" y="203.0" width="44.5" height="7.8" fill="#affd67"/><rect x="268.2" y="203.0" width="11.6" height="7.8" fill="#9efe75"/><rect x="279.2" y="203.0" width="11.6" height="7.8" fill="#8cff82"/><rect x="290.1" y="203.0" width="11.6" height="7.8" fill="#85fdac"/><rect x="301.1" y="203.0" width="11.6" height="7.8" fill="#82fcc0"/><rect x="312.1" y="203.0" width="22.6" height="7.8" fill="#43b1ff"/><rect x="334.0" y="203.0" width="22.6" height="7.8" fill="#243bf6"/><rect x="356.0" y="203.0" width="22.6" height="7.8" fill="#2212f2"/><rect x="377.9" y="203.0" width="44.5" height="7.8" fill="#180dba"/><rect x="421.8" y="203.0" width="11.6" height="7.8" fill="#1b0fcd"/><rect x="432.8" y="203.0" width="11.6" height="7.8" fill="#1f10df"/><rect x="443.8" y="203.0" width="22.6" height="7.8" fill="#2212f2"/><rect x="465.7" y="203.0" width="22.6" height="7.8" fill="#243bf6"/><rect x="487.7" y="203.0" width="22.6" height="7.8" fill="#254ff8"/><rect x="509.6" y="203.0" width="22.6" height="7.8" fill="#2778fd"/><rect x="531.6" y="203.0" width="22.6" height="7.8" fill="#288cff"/><rect x="553.5" y="203.0" width="22.6" height="7.8" fill="#43b1ff"/><rect x="575.5" y="203.0" width="22.6" height="7.8" fill="#50c3ff"/><rect x="597.4" y="203.0" width="22.6" height="7.8" fill="#6be8ff"/><rect x="619.4" y="203.0" width="11.6" height="7.8" fill="#7bfbea"/><rect x="630.4" y="203.0" width="33.5" height="7.8" fill="#7ffcd5"/><rect x="663.3" y="203.0" width="22.6" height="7.8" fill="#78faff"/><rect x="685.2" y="203.0" width="44.5" height="7.8" fill="#6be8ff"/><rect x="729.1" y="203.0" width="44.5" height="7.8" fill="#43b1ff"/><rect x="773.0" y="203.0" width="22.6" height="7.8" fill="#50c3ff"/><rect x="795.0" y="203.0" width="22.6" height="7.8" fill="#6be8ff"/><rect x="816.9" y="203.0" width="22.6" height="7.8" fill="#78faff"/><rect x="838.9" y="203.0" width="11.6" height="7.8" fill="#85fdac"/><rect x="849.9" y="203.0" width="11.6" height="7.8" fill="#89fe97"/><rect x="860.8" y="203.0" width="22.6" height="7.8" fill="#c0fc5a"/><rect x="882.8" y="203.0" width="22.6" height="7.8" fill="#f6e72e"/><rect x="904.7" y="203.0" width="22.6" height="7.8" fill="#f5fa32"/><rect x="926.7" y="203.0" width="22.6" height="7.8" fill="#e3fb3f"/><rect x="948.6" y="203.0" width="22.6" height="7.8" fill="#c0fc5a"/><rect x="970.6" y="203.0" width="22.6" height="7.8" fill="#f5fa32"/><rect x="992.5" y="203.0" width="22.6" height="7.8" fill="#f8c026"/><rect x="1014.5" y="203.0" width="11.6" height="7.8" fill="#fb7617"/><rect x="1025.5" y="203.0" width="11.6" height="7.8" fill="#fc6515"/><rect x="1036.4" y="203.0" width="11.6" height="7.8" fill="#fd4210"/><rect x="1047.4" y="203.0" width="33.5" height="7.8" fill="#fe310e"/><rect x="1080.3" y="203.0" width="22.6" height="7.8" fill="#eb1e0c"/><rect x="1102.3" y="203.0" width="55.5" height="7.8" fill="#fe310e"/><rect x="1157.2" y="203.0" width="11.6" height="7.8" fill="#fd4210"/><rect x="1168.1" y="203.0" width="22.6" height="7.8" fill="#fc6515"/><rect x="1190.1" y="203.0" width="22.6" height="7.8" fill="#f99a1d"/><rect x="1212.0" y="203.0" width="22.6" height="7.8" fill="#f8c026"/><rect x="125.5" y="210.2" width="99.4" height="7.8" fill="#fa8719"/><rect x="224.3" y="210.2" width="44.5" height="7.8" fill="#fc5412"/><rect x="268.2" y="210.2" width="22.6" height="7.8" fill="#fa8719"/><rect x="290.1" y="210.2" width="11.6" height="7.8" fill="#f6e72e"/><rect x="301.1" y="210.2" width="11.6" height="7.8" fill="#f5fa32"/><rect x="312.1" y="210.2" width="11.6" height="7.8" fill="#85fdac"/><rect x="323.1" y="210.2" width="11.6" height="7.8" fill="#82fcc0"/><rect x="334.0" y="210.2" width="11.6" height="7.8" fill="#359eff"/><rect x="345.0" y="210.2" width="11.6" height="7.8" fill="#288cff"/><rect x="356.0" y="210.2" width="22.6" height="7.8" fill="#254ff8"/><rect x="377.9" y="210.2" width="11.6" height="7.8" fill="#1b0fcd"/><rect x="388.9" y="210.2" width="33.5" height="7.8" fill="#180dba"/><rect x="421.8" y="210.2" width="22.6" height="7.8" fill="#2212f2"/><rect x="443.8" y="210.2" width="22.6" height="7.8" fill="#254ff8"/><rect x="465.7" y="210.2" width="22.6" height="7.8" fill="#288cff"/><rect x="487.7" y="210.2" width="22.6" height="7.8" fill="#50c3ff"/><rect x="509.6" y="210.2" width="44.5" height="7.8" fill="#78faff"/><rect x="553.5" y="210.2" width="44.5" height="7.8" fill="#82fcc0"/><rect x="597.4" y="210.2" width="22.6" height="7.8" fill="#8cff82"/><rect x="619.4" y="210.2" width="44.5" height="7.8" fill="#c0fc5a"/><rect x="663.3" y="210.2" width="66.5" height="7.8" fill="#8cff82"/><rect x="729.1" y="210.2" width="44.5" height="7.8" fill="#82fcc0"/><rect x="773.0" y="210.2" width="22.6" height="7.8" fill="#8cff82"/><rect x="795.0" y="210.2" width="44.5" height="7.8" fill="#c0fc5a"/><rect x="838.9" y="210.2" width="132.3" height="7.8" fill="#f5fa32"/><rect x="970.6" y="210.2" width="22.6" height="7.8" fill="#f8c026"/><rect x="992.5" y="210.2" width="22.6" height="7.8" fill="#fa8719"/><rect x="1014.5" y="210.2" width="22.6" height="7.8" fill="#fc5412"/><rect x="1036.4" y="210.2" width="44.5" height="7.8" fill="#ff200c"/><rect x="1080.3" y="210.2" width="22.6" height="7.8" fill="#c31a0c"/><rect x="1102.3" y="210.2" width="132.3" height="7.8" fill="#ff200c"/><rect x="125.5" y="217.4" width="77.4" height="7.8" fill="#ff200c"/><rect x="202.3" y="217.4" width="55.5" height="7.8" fill="#fe310e"/><rect x="257.2" y="217.4" width="11.6" height="7.8" fill="#fd4210"/><rect x="268.2" y="217.4" width="11.6" height="7.8" fill="#fc6515"/><rect x="279.2" y="217.4" width="11.6" height="7.8" fill="#fb7617"/><rect x="290.1" y="217.4" width="11.6" height="7.8" fill="#f7d42a"/><rect x="301.1" y="217.4" width="11.6" height="7.8" fill="#f6e72e"/><rect x="312.1" y="217.4" width="11.6" height="7.8" fill="#affd67"/><rect x="323.1" y="217.4" width="11.6" height="7.8" fill="#9efe75"/><rect x="334.0" y="217.4" width="11.6" height="7.8" fill="#78faff"/><rect x="345.0" y="217.4" width="11.6" height="7.8" fill="#5dd5ff"/><rect x="356.0" y="217.4" width="11.6" height="7.8" fill="#2778fd"/><rect x="367.0" y="217.4" width="11.6" height="7.8" fill="#2663fb"/><rect x="377.9" y="217.4" width="11.6" height="7.8" fill="#2326f4"/><rect x="388.9" y="217.4" width="11.6" height="7.8" fill="#2212f2"/><rect x="399.9" y="217.4" width="22.6" height="7.8" fill="#1f10df"/><rect x="421.8" y="217.4" width="11.6" height="7.8" fill="#2326f4"/><rect x="432.8" y="217.4" width="11.6" height="7.8" fill="#243bf6"/><rect x="443.8" y="217.4" width="22.6" height="7.8" fill="#288cff"/><rect x="465.7" y="217.4" width="22.6" height="7.8" fill="#78faff"/><rect x="487.7" y="217.4" width="11.6" height="7.8" fill="#85fdac"/><rect x="498.7" y="217.4" width="11.6" height="7.8" fill="#89fe97"/><rect x="509.6" y="217.4" width="11.6" height="7.8" fill="#9efe75"/><rect x="520.6" y="217.4" width="11.6" height="7.8" fill="#affd67"/><rect x="531.6" y="217.4" width="22.6" height="7.8" fill="#c0fc5a"/><rect x="553.5" y="217.4" width="22.6" height="7.8" fill="#f5fa32"/><rect x="575.5" y="217.4" width="22.6" height="7.8" fill="#f7d42a"/><rect x="597.4" y="217.4" width="22.6" height="7.8" fill="#f8c026"/><rect x="619.4" y="217.4" width="44.5" height="7.8" fill="#f99a1d"/><rect x="663.3" y="217.4" width="66.5" height="7.8" fill="#f8c026"/><rect x="729.1" y="217.4" width="11.6" height="7.8" fill="#f6e72e"/><rect x="740.1" y="217.4" width="33.5" height="7.8" fill="#f5fa32"/><rect x="773.0" y="217.4" width="22.6" height="7.8" fill="#f7d42a"/><rect x="795.0" y="217.4" width="88.4" height="7.8" fill="#f8c026"/><rect x="882.8" y="217.4" width="66.5" height="7.8" fill="#f7d42a"/><rect x="948.6" y="217.4" width="22.6" height="7.8" fill="#f8c026"/><rect x="970.6" y="217.4" width="11.6" height="7.8" fill="#f8ad21"/><rect x="981.6" y="217.4" width="11.6" height="7.8" fill="#f99a1d"/><rect x="992.5" y="217.4" width="11.6" height="7.8" fill="#fb7617"/><rect x="1003.5" y="217.4" width="11.6" height="7.8" fill="#fc6515"/><rect x="1014.5" y="217.4" width="22.6" height="7.8" fill="#ff200c"/><rect x="1036.4" y="217.4" width="11.6" height="7.8" fill="#eb1e0c"/><rect x="1047.4" y="217.4" width="33.5" height="7.8" fill="#d71c0c"/><rect x="1080.3" y="217.4" width="22.6" height="7.8" fill="#af180c"/><rect x="1102.3" y="217.4" width="132.3" height="7.8" fill="#d71c0c"/><rect x="125.5" y="224.7" width="77.4" height="7.8" fill="#87140c"/><rect x="202.3" y="224.7" width="22.6" height="7.8" fill="#c31a0c"/><rect x="224.3" y="224.7" width="44.5" height="7.8" fill="#ff200c"/><rect x="268.2" y="224.7" width="22.6" height="7.8" fill="#fc5412"/><rect x="290.1" y="224.7" width="11.6" height="7.8" fill="#f8ad21"/><rect x="301.1" y="224.7" width="11.6" height="7.8" fill="#f8c026"/><rect x="312.1" y="224.7" width="22.6" height="7.8" fill="#f5fa32"/><rect x="334.0" y="224.7" width="11.6" height="7.8" fill="#85fdac"/><rect x="345.0" y="224.7" width="11.6" height="7.8" fill="#82fcc0"/><rect x="356.0" y="224.7" width="11.6" height="7.8" fill="#359eff"/><rect x="367.0" y="224.7" width="11.6" height="7.8" fill="#288cff"/><rect x="377.9" y="224.7" width="22.6" height="7.8" fill="#254ff8"/><rect x="399.9" y="224.7" width="22.6" height="7.8" fill="#2212f2"/><rect x="421.8" y="224.7" width="22.6" height="7.8" fill="#254ff8"/><rect x="443.8" y="224.7" width="11.6" height="7.8" fill="#43b1ff"/><rect x="454.8" y="224.7" width="11.6" height="7.8" fill="#50c3ff"/><rect x="465.7" y="224.7" width="11.6" height="7.8" fill="#89fe97"/><rect x="476.7" y="224.7" width="11.6" height="7.8" fill="#8cff82"/><rect x="487.7" y="224.7" width="11.6" height="7.8" fill="#e3fb3f"/><rect x="498.7" y="224.7" width="11.6" height="7.8" fill="#f5fa32"/><rect x="509.6" y="224.7" width="22.6" height="7.8" fill="#f8c026"/><rect x="531.6" y="224.7" width="22.6" height="7.8" fill="#fa8719"/><rect x="553.5" y="224.7" width="22.6" height="7.8" fill="#fc5412"/><rect x="575.5" y="224.7" width="154.3" height="7.8" fill="#ff200c"/><rect x="729.1" y="224.7" width="110.4" height="7.8" fill="#fc5412"/><rect x="838.9" y="224.7" width="44.5" height="7.8" fill="#fa8719"/><rect x="882.8" y="224.7" width="66.5" height="7.8" fill="#f8c026"/><rect x="948.6" y="224.7" width="44.5" height="7.8" fill="#fa8719"/><rect x="992.5" y="224.7" width="22.6" height="7.8" fill="#fc5412"/><rect x="1014.5" y="224.7" width="11.6" height="7.8" fill="#d71c0c"/><rect x="1025.5" y="224.7" width="55.5" height="7.8" fill="#c31a0c"/><rect x="1080.3" y="224.7" width="22.6" height="7.8" fill="#87140c"/><rect x="1102.3" y="224.7" width="132.3" height="7.8" fill="#c31a0c"/><rect x="125.5" y="231.9" width="77.4" height="7.8" fill="#87140c"/><rect x="202.3" y="231.9" width="22.6" height="7.8" fill="#c31a0c"/><rect x="224.3" y="231.9" width="44.5" height="7.8" fill="#ff200c"/><rect x="268.2" y="231.9" width="22.6" height="7.8" fill="#fc5412"/><rect x="290.1" y="231.9" width="11.6" height="7.8" fill="#f99a1d"/><rect x="301.1" y="231.9" width="11.6" height="7.8" fill="#f8ad21"/><rect x="312.1" y="231.9" width="22.6" height="7.8" fill="#f5fa32"/><rect x="334.0" y="231.9" width="11.6" height="7.8" fill="#89fe97"/><rect x="345.0" y="231.9" width="11.6" height="7.8" fill="#85fdac"/><rect x="356.0" y="231.9" width="11.6" height="7.8" fill="#5dd5ff"/><rect x="367.0" y="231.9" width="11.6" height="7.8" fill="#50c3ff"/><rect x="377.9" y="231.9" width="22.6" height="7.8" fill="#288cff"/><rect x="399.9" y="231.9" width="22.6" height="7.8" fill="#254ff8"/><rect x="421.8" y="231.9" width="22.6" height="7.8" fill="#288cff"/><rect x="443.8" y="231.9" width="22.6" height="7.8" fill="#78faff"/><rect x="465.7" y="231.9" width="11.6" height="7.8" fill="#affd67"/><rect x="476.7" y="231.9" width="11.6" height="7.8" fill="#c0fc5a"/><rect x="487.7" y="231.9" width="22.6" height="7.8" fill="#f8c026"/><rect x="509.6" y="231.9" width="22.6" height="7.8" fill="#fa8719"/><rect x="531.6" y="231.9" width="22.6" height="7.8" fill="#fc5412"/><rect x="553.5" y="231.9" width="11.6" height="7.8" fill="#fd4210"/><rect x="564.5" y="231.9" width="11.6" height="7.8" fill="#fe310e"/><rect x="575.5" y="231.9" width="154.3" height="7.8" fill="#ff200c"/><rect x="729.1" y="231.9" width="99.4" height="7.8" fill="#fe310e"/><rect x="827.9" y="231.9" width="11.6" height="7.8" fill="#fd4210"/><rect x="838.9" y="231.9" width="33.5" height="7.8" fill="#fc6515"/><rect x="871.8" y="231.9" width="11.6" height="7.8" fill="#fb7617"/><rect x="882.8" y="231.9" width="11.6" height="7.8" fill="#f99a1d"/><rect x="893.8" y="231.9" width="11.6" height="7.8" fill="#f8ad21"/><rect x="904.7" y="231.9" width="44.5" height="7.8" fill="#f8c026"/><rect x="948.6" y="231.9" width="22.6" height="7.8" fill="#fa8719"/><rect x="970.6" y="231.9" width="11.6" height="7.8" fill="#fb7617"/><rect x="981.6" y="231.9" width="11.6" height="7.8" fill="#fc6515"/><rect x="992.5" y="231.9" width="11.6" height="7.8" fill="#fd4210"/><rect x="1003.5" y="231.9" width="11.6" height="7.8" fill="#fe310e"/><rect x="1014.5" y="231.9" width="66.5" height="7.8" fill="#c31a0c"/><rect x="1080.3" y="231.9" width="22.6" height="7.8" fill="#87140c"/><rect x="1102.3" y="231.9" width="132.3" height="7.8" fill="#c31a0c"/><rect x="125.5" y="239.1" width="77.4" height="7.8" fill="#87140c"/><rect x="202.3" y="239.1" width="22.6" height="7.8" fill="#c31a0c"/><rect x="224.3" y="239.1" width="44.5" height="7.8" fill="#ff200c"/><rect x="268.2" y="239.1" width="22.6" height="7.8" fill="#fc5412"/><rect x="290.1" y="239.1" width="22.6" height="7.8" fill="#fa8719"/><rect x="312.1" y="239.1" width="11.6" height="7.8" fill="#f6e72e"/><rect x="323.1" y="239.1" width="11.6" height="7.8" fill="#f5fa32"/><rect x="334.0" y="239.1" width="11.6" height="7.8" fill="#9efe75"/><rect x="345.0" y="239.1" width="11.6" height="7.8" fill="#8cff82"/><rect x="356.0" y="239.1" width="11.6" height="7.8" fill="#7bfbea"/><rect x="367.0" y="239.1" width="11.6" height="7.8" fill="#78faff"/><rect x="377.9" y="239.1" width="22.6" height="7.8" fill="#50c3ff"/><rect x="399.9" y="239.1" width="22.6" height="7.8" fill="#288cff"/><rect x="421.8" y="239.1" width="22.6" height="7.8" fill="#50c3ff"/><rect x="443.8" y="239.1" width="11.6" height="7.8" fill="#7ffcd5"/><rect x="454.8" y="239.1" width="11.6" height="7.8" fill="#82fcc0"/><rect x="465.7" y="239.1" width="11.6" height="7.8" fill="#e3fb3f"/><rect x="476.7" y="239.1" width="11.6" height="7.8" fill="#f5fa32"/><rect x="487.7" y="239.1" width="11.6" height="7.8" fill="#f99a1d"/><rect x="498.7" y="239.1" width="11.6" height="7.8" fill="#fa8719"/><rect x="509.6" y="239.1" width="22.6" height="7.8" fill="#fc5412"/><rect x="531.6" y="239.1" width="307.9" height="7.8" fill="#ff200c"/><rect x="838.9" y="239.1" width="44.5" height="7.8" fill="#fc5412"/><rect x="882.8" y="239.1" width="22.6" height="7.8" fill="#fa8719"/><rect x="904.7" y="239.1" width="44.5" height="7.8" fill="#f8c026"/><rect x="948.6" y="239.1" width="22.6" height="7.8" fill="#fa8719"/><rect x="970.6" y="239.1" width="22.6" height="7.8" fill="#fc5412"/><rect x="992.5" y="239.1" width="22.6" height="7.8" fill="#ff200c"/><rect x="1014.5" y="239.1" width="66.5" height="7.8" fill="#c31a0c"/><rect x="1080.3" y="239.1" width="22.6" height="7.8" fill="#87140c"/><rect x="1102.3" y="239.1" width="132.3" height="7.8" fill="#c31a0c"/><rect x="125.5" y="246.4" width="77.4" height="7.8" fill="#af180c"/><rect x="202.3" y="246.4" width="11.6" height="7.8" fill="#d71c0c"/><rect x="213.3" y="246.4" width="11.6" height="7.8" fill="#eb1e0c"/><rect x="224.3" y="246.4" width="44.5" height="7.8" fill="#ff200c"/><rect x="268.2" y="246.4" width="22.6" height="7.8" fill="#fc5412"/><rect x="290.1" y="246.4" width="22.6" height="7.8" fill="#fa8719"/><rect x="312.1" y="246.4" width="11.6" height="7.8" fill="#f6e72e"/><rect x="323.1" y="246.4" width="11.6" height="7.8" fill="#f5fa32"/><rect x="334.0" y="246.4" width="11.6" height="7.8" fill="#affd67"/><rect x="345.0" y="246.4" width="11.6" height="7.8" fill="#9efe75"/><rect x="356.0" y="246.4" width="11.6" height="7.8" fill="#85fdac"/><rect x="367.0" y="246.4" width="11.6" height="7.8" fill="#82fcc0"/><rect x="377.9" y="246.4" width="22.6" height="7.8" fill="#7ffcd5"/><rect x="399.9" y="246.4" width="44.5" height="7.8" fill="#6be8ff"/><rect x="443.8" y="246.4" width="11.6" height="7.8" fill="#85fdac"/><rect x="454.8" y="246.4" width="11.6" height="7.8" fill="#89fe97"/><rect x="465.7" y="246.4" width="11.6" height="7.8" fill="#e3fb3f"/><rect x="476.7" y="246.4" width="11.6" height="7.8" fill="#f5fa32"/><rect x="487.7" y="246.4" width="11.6" height="7.8" fill="#f99a1d"/><rect x="498.7" y="246.4" width="11.6" height="7.8" fill="#fa8719"/><rect x="509.6" y="246.4" width="22.6" height="7.8" fill="#fc5412"/><rect x="531.6" y="246.4" width="22.6" height="7.8" fill="#ff200c"/><rect x="553.5" y="246.4" width="11.6" height="7.8" fill="#eb1e0c"/><rect x="564.5" y="246.4" width="132.3" height="7.8" fill="#d71c0c"/><rect x="696.2" y="246.4" width="11.6" height="7.8" fill="#eb1e0c"/><rect x="707.2" y="246.4" width="132.3" height="7.8" fill="#ff200c"/><rect x="838.9" y="246.4" width="22.6" height="7.8" fill="#fc5412"/><rect x="860.8" y="246.4" width="11.6" height="7.8" fill="#fc6515"/><rect x="871.8" y="246.4" width="11.6" height="7.8" fill="#fb7617"/><rect x="882.8" y="246.4" width="11.6" height="7.8" fill="#f99a1d"/><rect x="893.8" y="246.4" width="11.6" height="7.8" fill="#f8ad21"/><rect x="904.7" y="246.4" width="22.6" height="7.8" fill="#f8c026"/><rect x="926.7" y="246.4" width="22.6" height="7.8" fill="#f7d42a"/><rect x="948.6" y="246.4" width="11.6" height="7.8" fill="#f8ad21"/><rect x="959.6" y="246.4" width="11.6" height="7.8" fill="#f99a1d"/><rect x="970.6" y="246.4" width="22.6" height="7.8" fill="#fa8719"/><rect x="992.5" y="246.4" width="22.6" height="7.8" fill="#fc5412"/><rect x="1014.5" y="246.4" width="66.5" height="7.8" fill="#ff200c"/><rect x="1080.3" y="246.4" width="22.6" height="7.8" fill="#c31a0c"/><rect x="1102.3" y="246.4" width="11.6" height="7.8" fill="#d71c0c"/><rect x="1113.3" y="246.4" width="121.3" height="7.8" fill="#eb1e0c"/><rect x="125.5" y="253.6" width="77.4" height="7.8" fill="#c31a0c"/><rect x="202.3" y="253.6" width="66.5" height="7.8" fill="#ff200c"/><rect x="268.2" y="253.6" width="22.6" height="7.8" fill="#fc5412"/><rect x="290.1" y="253.6" width="22.6" height="7.8" fill="#fa8719"/><rect x="312.1" y="253.6" width="11.6" height="7.8" fill="#f6e72e"/><rect x="323.1" y="253.6" width="11.6" height="7.8" fill="#f5fa32"/><rect x="334.0" y="253.6" width="22.6" height="7.8" fill="#c0fc5a"/><rect x="356.0" y="253.6" width="44.5" height="7.8" fill="#8cff82"/><rect x="399.9" y="253.6" width="22.6" height="7.8" fill="#82fcc0"/><rect x="421.8" y="253.6" width="22.6" height="7.8" fill="#78faff"/><rect x="443.8" y="253.6" width="11.6" height="7.8" fill="#89fe97"/><rect x="454.8" y="253.6" width="11.6" height="7.8" fill="#8cff82"/><rect x="465.7" y="253.6" width="11.6" height="7.8" fill="#e3fb3f"/><rect x="476.7" y="253.6" width="11.6" height="7.8" fill="#f5fa32"/><rect x="487.7" y="253.6" width="11.6" height="7.8" fill="#f99a1d"/><rect x="498.7" y="253.6" width="11.6" height="7.8" fill="#fa8719"/><rect x="509.6" y="253.6" width="22.6" height="7.8" fill="#fc5412"/><rect x="531.6" y="253.6" width="22.6" height="7.8" fill="#ff200c"/><rect x="553.5" y="253.6" width="154.3" height="7.8" fill="#c31a0c"/><rect x="707.2" y="253.6" width="132.3" height="7.8" fill="#ff200c"/><rect x="838.9" y="253.6" width="22.6" height="7.8" fill="#fc5412"/><rect x="860.8" y="253.6" width="22.6" height="7.8" fill="#fa8719"/><rect x="882.8" y="253.6" width="44.5" height="7.8" fill="#f8c026"/><rect x="926.7" y="253.6" width="22.6" height="7.8" fill="#f5fa32"/><rect x="948.6" y="253.6" width="44.5" height="7.8" fill="#f8c026"/><rect x="992.5" y="253.6" width="22.6" height="7.8" fill="#fa8719"/><rect x="1014.5" y="253.6" width="66.5" height="7.8" fill="#fc5412"/><rect x="1080.3" y="253.6" width="154.3" height="7.8" fill="#ff200c"/><rect x="125.5" y="260.8" width="77.4" height="7.8" fill="#ff200c"/><rect x="202.3" y="260.8" width="11.6" height="7.8" fill="#fe310e"/><rect x="213.3" y="260.8" width="55.5" height="7.8" fill="#fd4210"/><rect x="268.2" y="260.8" width="22.6" height="7.8" fill="#fc5412"/><rect x="290.1" y="260.8" width="22.6" height="7.8" fill="#fa8719"/><rect x="312.1" y="260.8" width="22.6" height="7.8" fill="#f8c026"/><rect x="334.0" y="260.8" width="22.6" height="7.8" fill="#f5fa32"/><rect x="356.0" y="260.8" width="11.6" height="7.8" fill="#9efe75"/><rect x="367.0" y="260.8" width="33.5" height="7.8" fill="#8cff82"/><rect x="399.9" y="260.8" width="11.6" height="7.8" fill="#89fe97"/><rect x="410.9" y="260.8" width="11.6" height="7.8" fill="#85fdac"/><rect x="421.8" y="260.8" width="22.6" height="7.8" fill="#7ffcd5"/><rect x="443.8" y="260.8" width="11.6" height="7.8" fill="#9efe75"/><rect x="454.8" y="260.8" width="11.6" height="7.8" fill="#affd67"/><rect x="465.7" y="260.8" width="22.6" height="7.8" fill="#f5fa32"/><rect x="487.7" y="260.8" width="22.6" height="7.8" fill="#f8c026"/><rect x="509.6" y="260.8" width="22.6" height="7.8" fill="#fa8719"/><rect x="531.6" y="260.8" width="22.6" height="7.8" fill="#fc5412"/><rect x="553.5" y="260.8" width="88.4" height="7.8" fill="#ff200c"/><rect x="641.3" y="260.8" width="66.5" height="7.8" fill="#eb1e0c"/><rect x="707.2" y="260.8" width="44.5" height="7.8" fill="#ff200c"/><rect x="751.1" y="260.8" width="11.6" height="7.8" fill="#fe310e"/><rect x="762.1" y="260.8" width="33.5" height="7.8" fill="#fd4210"/><rect x="795.0" y="260.8" width="44.5" height="7.8" fill="#fc5412"/><rect x="838.9" y="260.8" width="22.6" height="7.8" fill="#fa8719"/><rect x="860.8" y="260.8" width="11.6" height="7.8" fill="#f7d42a"/><rect x="871.8" y="260.8" width="11.6" height="7.8" fill="#f6e72e"/><rect x="882.8" y="260.8" width="11.6" height="7.8" fill="#e3fb3f"/><rect x="893.8" y="260.8" width="11.6" height="7.8" fill="#d2fc4d"/><rect x="904.7" y="260.8" width="22.6" height="7.8" fill="#c0fc5a"/><rect x="926.7" y="260.8" width="22.6" height="7.8" fill="#8cff82"/><rect x="948.6" y="260.8" width="11.6" height="7.8" fill="#affd67"/><rect x="959.6" y="260.8" width="33.5" height="7.8" fill="#c0fc5a"/><rect x="992.5" y="260.8" width="22.6" height="7.8" fill="#d2fc4d"/><rect x="1014.5" y="260.8" width="22.6" height="7.8" fill="#f5fa32"/><rect x="1036.4" y="260.8" width="22.6" height="7.8" fill="#f6e72e"/><rect x="1058.4" y="260.8" width="22.6" height="7.8" fill="#f8c026"/><rect x="1080.3" y="260.8" width="11.6" height="7.8" fill="#f99a1d"/><rect x="1091.3" y="260.8" width="11.6" height="7.8" fill="#fa8719"/><rect x="1102.3" y="260.8" width="132.3" height="7.8" fill="#fb7617"/><rect x="125.5" y="268.1" width="165.2" height="7.8" fill="#fc5412"/><rect x="290.1" y="268.1" width="44.5" height="7.8" fill="#fa8719"/><rect x="334.0" y="268.1" width="22.6" height="7.8" fill="#f8c026"/><rect x="356.0" y="268.1" width="11.6" height="7.8" fill="#9efe75"/><rect x="367.0" y="268.1" width="55.5" height="7.8" fill="#8cff82"/><rect x="421.8" y="268.1" width="22.6" height="7.8" fill="#82fcc0"/><rect x="443.8" y="268.1" width="11.6" height="7.8" fill="#affd67"/><rect x="454.8" y="268.1" width="11.6" height="7.8" fill="#c0fc5a"/><rect x="465.7" y="268.1" width="44.5" height="7.8" fill="#f5fa32"/><rect x="509.6" y="268.1" width="22.6" height="7.8" fill="#f8c026"/><rect x="531.6" y="268.1" width="22.6" height="7.8" fill="#fa8719"/><rect x="553.5" y="268.1" width="88.4" height="7.8" fill="#fc5412"/><rect x="641.3" y="268.1" width="110.4" height="7.8" fill="#ff200c"/><rect x="751.1" y="268.1" width="44.5" height="7.8" fill="#fc5412"/><rect x="795.0" y="268.1" width="44.5" height="7.8" fill="#fa8719"/><rect x="838.9" y="268.1" width="22.6" height="7.8" fill="#f8c026"/><rect x="860.8" y="268.1" width="11.6" height="7.8" fill="#d2fc4d"/><rect x="871.8" y="268.1" width="11.6" height="7.8" fill="#c0fc5a"/><rect x="882.8" y="268.1" width="22.6" height="7.8" fill="#8cff82"/><rect x="904.7" y="268.1" width="22.6" height="7.8" fill="#82fcc0"/><rect x="926.7" y="268.1" width="22.6" height="7.8" fill="#78faff"/><rect x="948.6" y="268.1" width="88.4" height="7.8" fill="#82fcc0"/><rect x="1036.4" y="268.1" width="22.6" height="7.8" fill="#8cff82"/><rect x="1058.4" y="268.1" width="22.6" height="7.8" fill="#c0fc5a"/><rect x="1080.3" y="268.1" width="22.6" height="7.8" fill="#f5fa32"/><rect x="1102.3" y="268.1" width="132.3" height="7.8" fill="#f8c026"/><rect x="125.5" y="275.3" width="165.2" height="7.8" fill="#fb7617"/><rect x="290.1" y="275.3" width="44.5" height="7.8" fill="#fa8719"/><rect x="334.0" y="275.3" width="11.6" height="7.8" fill="#f99a1d"/><rect x="345.0" y="275.3" width="11.6" height="7.8" fill="#f8ad21"/><rect x="356.0" y="275.3" width="11.6" height="7.8" fill="#e3fb3f"/><rect x="367.0" y="275.3" width="11.6" height="7.8" fill="#d2fc4d"/><rect x="377.9" y="275.3" width="22.6" height="7.8" fill="#8cff82"/><rect x="399.9" y="275.3" width="11.6" height="7.8" fill="#89fe97"/><rect x="410.9" y="275.3" width="11.6" height="7.8" fill="#85fdac"/><rect x="421.8" y="275.3" width="22.6" height="7.8" fill="#89fe97"/><rect x="443.8" y="275.3" width="11.6" height="7.8" fill="#9efe75"/><rect x="454.8" y="275.3" width="11.6" height="7.8" fill="#affd67"/><rect x="465.7" y="275.3" width="22.6" height="7.8" fill="#c0fc5a"/><rect x="487.7" y="275.3" width="11.6" height="7.8" fill="#d2fc4d"/><rect x="498.7" y="275.3" width="11.6" height="7.8" fill="#e3fb3f"/><rect x="509.6" y="275.3" width="11.6" height="7.8" fill="#f6e72e"/><rect x="520.6" y="275.3" width="11.6" height="7.8" fill="#f7d42a"/><rect x="531.6" y="275.3" width="22.6" height="7.8" fill="#f8c026"/><rect x="553.5" y="275.3" width="22.6" height="7.8" fill="#f8ad21"/><rect x="575.5" y="275.3" width="66.5" height="7.8" fill="#fa8719"/><rect x="641.3" y="275.3" width="44.5" height="7.8" fill="#fb7617"/><rect x="685.2" y="275.3" width="22.6" height="7.8" fill="#fc5412"/><rect x="707.2" y="275.3" width="11.6" height="7.8" fill="#fc6515"/><rect x="718.2" y="275.3" width="11.6" height="7.8" fill="#fb7617"/><rect x="729.1" y="275.3" width="22.6" height="7.8" fill="#fa8719"/><rect x="751.1" y="275.3" width="22.6" height="7.8" fill="#f8c026"/><rect x="773.0" y="275.3" width="22.6" height="7.8" fill="#f6e72e"/><rect x="795.0" y="275.3" width="11.6" height="7.8" fill="#e3fb3f"/><rect x="806.0" y="275.3" width="11.6" height="7.8" fill="#d2fc4d"/><rect x="816.9" y="275.3" width="22.6" height="7.8" fill="#c0fc5a"/><rect x="838.9" y="275.3" width="22.6" height="7.8" fill="#8cff82"/><rect x="860.8" y="275.3" width="11.6" height="7.8" fill="#7ffcd5"/><rect x="871.8" y="275.3" width="11.6" height="7.8" fill="#7bfbea"/><rect x="882.8" y="275.3" width="11.6" height="7.8" fill="#6be8ff"/><rect x="893.8" y="275.3" width="11.6" height="7.8" fill="#5dd5ff"/><rect x="904.7" y="275.3" width="11.6" height="7.8" fill="#43b1ff"/><rect x="915.7" y="275.3" width="11.6" height="7.8" fill="#359eff"/><rect x="926.7" y="275.3" width="22.6" height="7.8" fill="#288cff"/><rect x="948.6" y="275.3" width="88.4" height="7.8" fill="#359eff"/><rect x="1036.4" y="275.3" width="22.6" height="7.8" fill="#5dd5ff"/><rect x="1058.4" y="275.3" width="22.6" height="7.8" fill="#78faff"/><rect x="1080.3" y="275.3" width="11.6" height="7.8" fill="#89fe97"/><rect x="1091.3" y="275.3" width="11.6" height="7.8" fill="#8cff82"/><rect x="1102.3" y="275.3" width="11.6" height="7.8" fill="#affd67"/><rect x="1113.3" y="275.3" width="121.3" height="7.8" fill="#c0fc5a"/><rect x="125.5" y="282.5" width="231.1" height="7.8" fill="#fa8719"/><rect x="356.0" y="282.5" width="22.6" height="7.8" fill="#f8c026"/><rect x="377.9" y="282.5" width="11.6" height="7.8" fill="#9efe75"/><rect x="388.9" y="282.5" width="11.6" height="7.8" fill="#8cff82"/><rect x="399.9" y="282.5" width="22.6" height="7.8" fill="#82fcc0"/><rect x="421.8" y="282.5" width="66.5" height="7.8" fill="#8cff82"/><rect x="487.7" y="282.5" width="22.6" height="7.8" fill="#c0fc5a"/><rect x="509.6" y="282.5" width="66.5" height="7.8" fill="#f5fa32"/><rect x="575.5" y="282.5" width="110.4" height="7.8" fill="#f8c026"/><rect x="685.2" y="282.5" width="22.6" height="7.8" fill="#fa8719"/><rect x="707.2" y="282.5" width="22.6" height="7.8" fill="#f8c026"/><rect x="729.1" y="282.5" width="22.6" height="7.8" fill="#f5fa32"/><rect x="751.1" y="282.5" width="22.6" height="7.8" fill="#c0fc5a"/><rect x="773.0" y="282.5" width="22.6" height="7.8" fill="#8cff82"/><rect x="795.0" y="282.5" width="22.6" height="7.8" fill="#82fcc0"/><rect x="816.9" y="282.5" width="22.6" height="7.8" fill="#78faff"/><rect x="838.9" y="282.5" width="22.6" height="7.8" fill="#50c3ff"/><rect x="860.8" y="282.5" width="22.6" height="7.8" fill="#288cff"/><rect x="882.8" y="282.5" width="22.6" height="7.8" fill="#254ff8"/><rect x="904.7" y="282.5" width="132.3" height="7.8" fill="#2212f2"/><rect x="1036.4" y="282.5" width="44.5" height="7.8" fill="#254ff8"/><rect x="1080.3" y="282.5" width="11.6" height="7.8" fill="#6be8ff"/><rect x="1091.3" y="282.5" width="11.6" height="7.8" fill="#78faff"/><rect x="1102.3" y="282.5" width="132.3" height="7.8" fill="#82fcc0"/><rect x="125.5" y="289.8" width="55.5" height="7.8" fill="#f8c026"/><rect x="180.4" y="289.8" width="132.3" height="7.8" fill="#f8ad21"/><rect x="312.1" y="289.8" width="44.5" height="7.8" fill="#f8c026"/><rect x="356.0" y="289.8" width="22.6" height="7.8" fill="#f5fa32"/><rect x="377.9" y="289.8" width="11.6" height="7.8" fill="#9efe75"/><rect x="388.9" y="289.8" width="11.6" height="7.8" fill="#8cff82"/><rect x="399.9" y="289.8" width="22.6" height="7.8" fill="#7ffcd5"/><rect x="421.8" y="289.8" width="66.5" height="7.8" fill="#82fcc0"/><rect x="487.7" y="289.8" width="11.6" height="7.8" fill="#85fdac"/><rect x="498.7" y="289.8" width="11.6" height="7.8" fill="#89fe97"/><rect x="509.6" y="289.8" width="11.6" height="7.8" fill="#affd67"/><rect x="520.6" y="289.8" width="55.5" height="7.8" fill="#c0fc5a"/><rect x="575.5" y="289.8" width="110.4" height="7.8" fill="#f5fa32"/><rect x="685.2" y="289.8" width="22.6" height="7.8" fill="#f6e72e"/><rect x="707.2" y="289.8" width="22.6" height="7.8" fill="#f5fa32"/><rect x="729.1" y="289.8" width="11.6" height="7.8" fill="#e3fb3f"/><rect x="740.1" y="289.8" width="11.6" height="7.8" fill="#d2fc4d"/><rect x="751.1" y="289.8" width="11.6" height="7.8" fill="#affd67"/><rect x="762.1" y="289.8" width="11.6" height="7.8" fill="#9efe75"/><rect x="773.0" y="289.8" width="11.6" height="7.8" fill="#89fe97"/><rect x="784.0" y="289.8" width="11.6" height="7.8" fill="#85fdac"/><rect x="795.0" y="289.8" width="11.6" height="7.8" fill="#7ffcd5"/><rect x="806.0" y="289.8" width="11.6" height="7.8" fill="#7bfbea"/><rect x="816.9" y="289.8" width="11.6" height="7.8" fill="#6be8ff"/><rect x="827.9" y="289.8" width="11.6" height="7.8" fill="#5dd5ff"/><rect x="838.9" y="289.8" width="22.6" height="7.8" fill="#288cff"/><rect x="860.8" y="289.8" width="22.6" height="7.8" fill="#254ff8"/><rect x="882.8" y="289.8" width="11.6" height="7.8" fill="#243bf6"/><rect x="893.8" y="289.8" width="11.6" height="7.8" fill="#2326f4"/><rect x="904.7" y="289.8" width="11.6" height="7.8" fill="#1f10df"/><rect x="915.7" y="289.8" width="110.4" height="7.8" fill="#1b0fcd"/><rect x="1025.5" y="289.8" width="11.6" height="7.8" fill="#1f10df"/><rect x="1036.4" y="289.8" width="33.5" height="7.8" fill="#2326f4"/><rect x="1069.4" y="289.8" width="11.6" height="7.8" fill="#243bf6"/><rect x="1080.3" y="289.8" width="22.6" height="7.8" fill="#359eff"/><rect x="1102.3" y="289.8" width="132.3" height="7.8" fill="#50c3ff"/><rect x="125.5" y="297.0" width="55.5" height="7.8" fill="#f5fa32"/><rect x="180.4" y="297.0" width="132.3" height="7.8" fill="#f8c026"/><rect x="312.1" y="297.0" width="44.5" height="7.8" fill="#f5fa32"/><rect x="356.0" y="297.0" width="22.6" height="7.8" fill="#c0fc5a"/><rect x="377.9" y="297.0" width="22.6" height="7.8" fill="#8cff82"/><rect x="399.9" y="297.0" width="11.6" height="7.8" fill="#7bfbea"/><rect x="410.9" y="297.0" width="99.4" height="7.8" fill="#78faff"/><rect x="509.6" y="297.0" width="11.6" height="7.8" fill="#89fe97"/><rect x="520.6" y="297.0" width="55.5" height="7.8" fill="#8cff82"/><rect x="575.5" y="297.0" width="176.2" height="7.8" fill="#c0fc5a"/><rect x="751.1" y="297.0" width="22.6" height="7.8" fill="#8cff82"/><rect x="773.0" y="297.0" width="22.6" height="7.8" fill="#82fcc0"/><rect x="795.0" y="297.0" width="22.6" height="7.8" fill="#78faff"/><rect x="816.9" y="297.0" width="22.6" height="7.8" fill="#50c3ff"/><rect x="838.9" y="297.0" width="11.6" height="7.8" fill="#2663fb"/><rect x="849.9" y="297.0" width="11.6" height="7.8" fill="#254ff8"/><rect x="860.8" y="297.0" width="44.5" height="7.8" fill="#2212f2"/><rect x="904.7" y="297.0" width="132.3" height="7.8" fill="#180dba"/><rect x="1036.4" y="297.0" width="44.5" height="7.8" fill="#2212f2"/><rect x="1080.3" y="297.0" width="154.3" height="7.8" fill="#254ff8"/><rect x="125.5" y="304.2" width="55.5" height="7.8" fill="#c0fc5a"/><rect x="180.4" y="304.2" width="44.5" height="7.8" fill="#d2fc4d"/><rect x="224.3" y="304.2" width="88.4" height="7.8" fill="#f5fa32"/><rect x="312.1" y="304.2" width="11.6" height="7.8" fill="#e3fb3f"/><rect x="323.1" y="304.2" width="11.6" height="7.8" fill="#d2fc4d"/><rect x="334.0" y="304.2" width="22.6" height="7.8" fill="#c0fc5a"/><rect x="356.0" y="304.2" width="22.6" height="7.8" fill="#8cff82"/><rect x="377.9" y="304.2" width="11.6" height="7.8" fill="#89fe97"/><rect x="388.9" y="304.2" width="11.6" height="7.8" fill="#85fdac"/><rect x="399.9" y="304.2" width="22.6" height="7.8" fill="#78faff"/><rect x="421.8" y="304.2" width="11.6" height="7.8" fill="#6be8ff"/><rect x="432.8" y="304.2" width="22.6" height="7.8" fill="#5dd5ff"/><rect x="454.8" y="304.2" width="11.6" height="7.8" fill="#6be8ff"/><rect x="465.7" y="304.2" width="44.5" height="7.8" fill="#78faff"/><rect x="509.6" y="304.2" width="11.6" height="7.8" fill="#85fdac"/><rect x="520.6" y="304.2" width="11.6" height="7.8" fill="#89fe97"/><rect x="531.6" y="304.2" width="44.5" height="7.8" fill="#8cff82"/><rect x="575.5" y="304.2" width="11.6" height="7.8" fill="#9efe75"/><rect x="586.5" y="304.2" width="11.6" height="7.8" fill="#affd67"/><rect x="597.4" y="304.2" width="154.3" height="7.8" fill="#c0fc5a"/><rect x="751.1" y="304.2" width="22.6" height="7.8" fill="#8cff82"/><rect x="773.0" y="304.2" width="22.6" height="7.8" fill="#82fcc0"/><rect x="795.0" y="304.2" width="22.6" height="7.8" fill="#78faff"/><rect x="816.9" y="304.2" width="22.6" height="7.8" fill="#50c3ff"/><rect x="838.9" y="304.2" width="22.6" height="7.8" fill="#288cff"/><rect x="860.8" y="304.2" width="22.6" height="7.8" fill="#254ff8"/><rect x="882.8" y="304.2" width="11.6" height="7.8" fill="#243bf6"/><rect x="893.8" y="304.2" width="11.6" height="7.8" fill="#2326f4"/><rect x="904.7" y="304.2" width="22.6" height="7.8" fill="#2212f2"/><rect x="926.7" y="304.2" width="77.4" height="7.8" fill="#1f10df"/><rect x="1003.5" y="304.2" width="11.6" height="7.8" fill="#1b0fcd"/><rect x="1014.5" y="304.2" width="22.6" height="7.8" fill="#180dba"/><rect x="1036.4" y="304.2" width="44.5" height="7.8" fill="#2212f2"/><rect x="1080.3" y="304.2" width="154.3" height="7.8" fill="#2326f4"/><rect x="125.5" y="311.5" width="99.4" height="7.8" fill="#8cff82"/><rect x="224.3" y="311.5" width="110.4" height="7.8" fill="#c0fc5a"/><rect x="334.0" y="311.5" width="22.6" height="7.8" fill="#8cff82"/><rect x="356.0" y="311.5" width="44.5" height="7.8" fill="#82fcc0"/><rect x="399.9" y="311.5" width="22.6" height="7.8" fill="#78faff"/><rect x="421.8" y="311.5" width="44.5" height="7.8" fill="#50c3ff"/><rect x="465.7" y="311.5" width="44.5" height="7.8" fill="#78faff"/><rect x="509.6" y="311.5" width="22.6" height="7.8" fill="#82fcc0"/><rect x="531.6" y="311.5" width="66.5" height="7.8" fill="#8cff82"/><rect x="597.4" y="311.5" width="154.3" height="7.8" fill="#c0fc5a"/><rect x="751.1" y="311.5" width="22.6" height="7.8" fill="#8cff82"/><rect x="773.0" y="311.5" width="22.6" height="7.8" fill="#82fcc0"/><rect x="795.0" y="311.5" width="22.6" height="7.8" fill="#78faff"/><rect x="816.9" y="311.5" width="44.5" height="7.8" fill="#50c3ff"/><rect x="860.8" y="311.5" width="22.6" height="7.8" fill="#288cff"/><rect x="882.8" y="311.5" width="44.5" height="7.8" fill="#254ff8"/><rect x="926.7" y="311.5" width="88.4" height="7.8" fill="#2212f2"/><rect x="1014.5" y="311.5" width="22.6" height="7.8" fill="#180dba"/><rect x="1036.4" y="311.5" width="198.2" height="7.8" fill="#2212f2"/><rect x="125.5" y="318.7" width="99.4" height="7.8" fill="#82fcc0"/><rect x="224.3" y="318.7" width="110.4" height="7.8" fill="#8cff82"/><rect x="334.0" y="318.7" width="22.6" height="7.8" fill="#82fcc0"/><rect x="356.0" y="318.7" width="11.6" height="7.8" fill="#7ffcd5"/><rect x="367.0" y="318.7" width="33.5" height="7.8" fill="#7bfbea"/><rect x="399.9" y="318.7" width="22.6" height="7.8" fill="#78faff"/><rect x="421.8" y="318.7" width="44.5" height="7.8" fill="#6be8ff"/><rect x="465.7" y="318.7" width="11.6" height="7.8" fill="#7bfbea"/><rect x="476.7" y="318.7" width="33.5" height="7.8" fill="#7ffcd5"/><rect x="509.6" y="318.7" width="22.6" height="7.8" fill="#8cff82"/><rect x="531.6" y="318.7" width="11.6" height="7.8" fill="#9efe75"/><rect x="542.6" y="318.7" width="33.5" height="7.8" fill="#affd67"/><rect x="575.5" y="318.7" width="22.6" height="7.8" fill="#c0fc5a"/><rect x="597.4" y="318.7" width="132.3" height="7.8" fill="#f5fa32"/><rect x="729.1" y="318.7" width="11.6" height="7.8" fill="#e3fb3f"/><rect x="740.1" y="318.7" width="11.6" height="7.8" fill="#d2fc4d"/><rect x="751.1" y="318.7" width="11.6" height="7.8" fill="#affd67"/><rect x="762.1" y="318.7" width="11.6" height="7.8" fill="#9efe75"/><rect x="773.0" y="318.7" width="22.6" height="7.8" fill="#8cff82"/><rect x="795.0" y="318.7" width="22.6" height="7.8" fill="#82fcc0"/><rect x="816.9" y="318.7" width="22.6" height="7.8" fill="#7ffcd5"/><rect x="838.9" y="318.7" width="22.6" height="7.8" fill="#78faff"/><rect x="860.8" y="318.7" width="22.6" height="7.8" fill="#6be8ff"/><rect x="882.8" y="318.7" width="22.6" height="7.8" fill="#50c3ff"/><rect x="904.7" y="318.7" width="22.6" height="7.8" fill="#43b1ff"/><rect x="926.7" y="318.7" width="44.5" height="7.8" fill="#288cff"/><rect x="970.6" y="318.7" width="66.5" height="7.8" fill="#2778fd"/><rect x="1036.4" y="318.7" width="198.2" height="7.8" fill="#288cff"/><rect x="125.5" y="325.9" width="99.4" height="7.8" fill="#78faff"/><rect x="224.3" y="325.9" width="110.4" height="7.8" fill="#82fcc0"/><rect x="334.0" y="325.9" width="132.3" height="7.8" fill="#78faff"/><rect x="465.7" y="325.9" width="44.5" height="7.8" fill="#82fcc0"/><rect x="509.6" y="325.9" width="11.6" height="7.8" fill="#affd67"/><rect x="520.6" y="325.9" width="55.5" height="7.8" fill="#c0fc5a"/><rect x="575.5" y="325.9" width="22.6" height="7.8" fill="#f5fa32"/><rect x="597.4" y="325.9" width="132.3" height="7.8" fill="#f8c026"/><rect x="729.1" y="325.9" width="22.6" height="7.8" fill="#f5fa32"/><rect x="751.1" y="325.9" width="44.5" height="7.8" fill="#c0fc5a"/><rect x="795.0" y="325.9" width="44.5" height="7.8" fill="#8cff82"/><rect x="838.9" y="325.9" width="66.5" height="7.8" fill="#82fcc0"/><rect x="904.7" y="325.9" width="66.5" height="7.8" fill="#78faff"/><rect x="970.6" y="325.9" width="44.5" height="7.8" fill="#50c3ff"/><rect x="1014.5" y="325.9" width="220.1" height="7.8" fill="#78faff"/><rect x="125.5" y="333.2" width="88.4" height="7.8" fill="#5dd5ff"/><rect x="213.3" y="333.2" width="11.6" height="7.8" fill="#6be8ff"/><rect x="224.3" y="333.2" width="44.5" height="7.8" fill="#78faff"/><rect x="268.2" y="333.2" width="66.5" height="7.8" fill="#7bfbea"/><rect x="334.0" y="333.2" width="44.5" height="7.8" fill="#7ffcd5"/><rect x="377.9" y="333.2" width="22.6" height="7.8" fill="#82fcc0"/><rect x="399.9" y="333.2" width="11.6" height="7.8" fill="#85fdac"/><rect x="410.9" y="333.2" width="55.5" height="7.8" fill="#89fe97"/><rect x="465.7" y="333.2" width="11.6" height="7.8" fill="#9efe75"/><rect x="476.7" y="333.2" width="33.5" height="7.8" fill="#affd67"/><rect x="509.6" y="333.2" width="11.6" height="7.8" fill="#d2fc4d"/><rect x="520.6" y="333.2" width="55.5" height="7.8" fill="#e3fb3f"/><rect x="575.5" y="333.2" width="22.6" height="7.8" fill="#f5fa32"/><rect x="597.4" y="333.2" width="132.3" height="7.8" fill="#f6e72e"/><rect x="729.1" y="333.2" width="22.6" height="7.8" fill="#f5fa32"/><rect x="751.1" y="333.2" width="33.5" height="7.8" fill="#e3fb3f"/><rect x="784.0" y="333.2" width="11.6" height="7.8" fill="#d2fc4d"/><rect x="795.0" y="333.2" width="44.5" height="7.8" fill="#c0fc5a"/><rect x="838.9" y="333.2" width="110.4" height="7.8" fill="#affd67"/><rect x="948.6" y="333.2" width="22.6" height="7.8" fill="#8cff82"/><rect x="970.6" y="333.2" width="44.5" height="7.8" fill="#89fe97"/><rect x="1014.5" y="333.2" width="220.1" height="7.8" fill="#8cff82"/><rect x="125.5" y="340.4" width="143.3" height="7.8" fill="#50c3ff"/><rect x="268.2" y="340.4" width="66.5" height="7.8" fill="#78faff"/><rect x="334.0" y="340.4" width="44.5" height="7.8" fill="#82fcc0"/><rect x="377.9" y="340.4" width="22.6" height="7.8" fill="#8cff82"/><rect x="399.9" y="340.4" width="66.5" height="7.8" fill="#c0fc5a"/><rect x="465.7" y="340.4" width="439.6" height="7.8" fill="#f5fa32"/><rect x="904.7" y="340.4" width="44.5" height="7.8" fill="#f8c026"/><rect x="948.6" y="340.4" width="286.0" height="7.8" fill="#f5fa32"/><rect x="125.5" y="347.6" width="143.3" height="7.8" fill="#6be8ff"/><rect x="268.2" y="347.6" width="66.5" height="7.8" fill="#78faff"/><rect x="334.0" y="347.6" width="11.6" height="7.8" fill="#7bfbea"/><rect x="345.0" y="347.6" width="11.6" height="7.8" fill="#7ffcd5"/><rect x="356.0" y="347.6" width="22.6" height="7.8" fill="#82fcc0"/><rect x="377.9" y="347.6" width="11.6" height="7.8" fill="#85fdac"/><rect x="388.9" y="347.6" width="11.6" height="7.8" fill="#89fe97"/><rect x="399.9" y="347.6" width="55.5" height="7.8" fill="#9efe75"/><rect x="454.8" y="347.6" width="11.6" height="7.8" fill="#affd67"/><rect x="465.7" y="347.6" width="55.5" height="7.8" fill="#d2fc4d"/><rect x="520.6" y="347.6" width="11.6" height="7.8" fill="#e3fb3f"/><rect x="531.6" y="347.6" width="176.2" height="7.8" fill="#f5fa32"/><rect x="707.2" y="347.6" width="11.6" height="7.8" fill="#f6e72e"/><rect x="718.2" y="347.6" width="77.4" height="7.8" fill="#f7d42a"/><rect x="795.0" y="347.6" width="110.4" height="7.8" fill="#f8c026"/><rect x="904.7" y="347.6" width="329.9" height="7.8" fill="#fa8719"/><rect x="125.5" y="354.9" width="231.1" height="7.8" fill="#78faff"/><rect x="356.0" y="354.9" width="44.5" height="7.8" fill="#82fcc0"/><rect x="399.9" y="354.9" width="66.5" height="7.8" fill="#8cff82"/><rect x="465.7" y="354.9" width="66.5" height="7.8" fill="#c0fc5a"/><rect x="531.6" y="354.9" width="176.2" height="7.8" fill="#f5fa32"/><rect x="707.2" y="354.9" width="88.4" height="7.8" fill="#f8c026"/><rect x="795.0" y="354.9" width="110.4" height="7.8" fill="#fa8719"/><rect x="904.7" y="354.9" width="44.5" height="7.8" fill="#fc5412"/><rect x="948.6" y="354.9" width="286.0" height="7.8" fill="#ff200c"/><rect x="125.5" y="362.1" width="231.1" height="7.8" fill="#78faff"/><rect x="356.0" y="362.1" width="11.6" height="7.8" fill="#7bfbea"/><rect x="367.0" y="362.1" width="11.6" height="7.8" fill="#7ffcd5"/><rect x="377.9" y="362.1" width="22.6" height="7.8" fill="#82fcc0"/><rect x="399.9" y="362.1" width="55.5" height="7.8" fill="#85fdac"/><rect x="454.8" y="362.1" width="11.6" height="7.8" fill="#89fe97"/><rect x="465.7" y="362.1" width="11.6" height="7.8" fill="#9efe75"/><rect x="476.7" y="362.1" width="11.6" height="7.8" fill="#affd67"/><rect x="487.7" y="362.1" width="44.5" height="7.8" fill="#c0fc5a"/><rect x="531.6" y="362.1" width="110.4" height="7.8" fill="#f5fa32"/><rect x="641.3" y="362.1" width="11.6" height="7.8" fill="#f6e72e"/><rect x="652.3" y="362.1" width="55.5" height="7.8" fill="#f7d42a"/><rect x="707.2" y="362.1" width="22.6" height="7.8" fill="#f8c026"/><rect x="729.1" y="362.1" width="11.6" height="7.8" fill="#f8ad21"/><rect x="740.1" y="362.1" width="55.5" height="7.8" fill="#f99a1d"/><rect x="795.0" y="362.1" width="11.6" height="7.8" fill="#fb7617"/><rect x="806.0" y="362.1" width="99.4" height="7.8" fill="#fc6515"/><rect x="904.7" y="362.1" width="11.6" height="7.8" fill="#fd4210"/><rect x="915.7" y="362.1" width="33.5" height="7.8" fill="#fe310e"/><rect x="948.6" y="362.1" width="286.0" height="7.8" fill="#ff200c"/><rect x="125.5" y="369.3" width="253.0" height="7.8" fill="#78faff"/><rect x="377.9" y="369.3" width="88.4" height="7.8" fill="#82fcc0"/><rect x="465.7" y="369.3" width="22.6" height="7.8" fill="#8cff82"/><rect x="487.7" y="369.3" width="44.5" height="7.8" fill="#c0fc5a"/><rect x="531.6" y="369.3" width="110.4" height="7.8" fill="#f5fa32"/><rect x="641.3" y="369.3" width="88.4" height="7.8" fill="#f8c026"/><rect x="729.1" y="369.3" width="66.5" height="7.8" fill="#fa8719"/><rect x="795.0" y="369.3" width="110.4" height="7.8" fill="#fc5412"/><rect x="904.7" y="369.3" width="329.9" height="7.8" fill="#ff200c"/><rect x="125.5" y="376.6" width="253.0" height="7.8" fill="#89fe97"/><rect x="377.9" y="376.6" width="88.4" height="7.8" fill="#8cff82"/><rect x="465.7" y="376.6" width="11.6" height="7.8" fill="#9efe75"/><rect x="476.7" y="376.6" width="11.6" height="7.8" fill="#affd67"/><rect x="487.7" y="376.6" width="11.6" height="7.8" fill="#d2fc4d"/><rect x="498.7" y="376.6" width="33.5" height="7.8" fill="#e3fb3f"/><rect x="531.6" y="376.6" width="11.6" height="7.8" fill="#f6e72e"/><rect x="542.6" y="376.6" width="33.5" height="7.8" fill="#f7d42a"/><rect x="575.5" y="376.6" width="66.5" height="7.8" fill="#f8c026"/><rect x="641.3" y="376.6" width="11.6" height="7.8" fill="#f8ad21"/><rect x="652.3" y="376.6" width="77.4" height="7.8" fill="#f99a1d"/><rect x="729.1" y="376.6" width="11.6" height="7.8" fill="#fb7617"/><rect x="740.1" y="376.6" width="55.5" height="7.8" fill="#fc6515"/><rect x="795.0" y="376.6" width="22.6" height="7.8" fill="#fc5412"/><rect x="816.9" y="376.6" width="11.6" height="7.8" fill="#fd4210"/><rect x="827.9" y="376.6" width="77.4" height="7.8" fill="#fe310e"/><rect x="904.7" y="376.6" width="11.6" height="7.8" fill="#eb1e0c"/><rect x="915.7" y="376.6" width="318.9" height="7.8" fill="#d71c0c"/><rect x="125.5" y="383.8" width="362.8" height="7.8" fill="#c0fc5a"/><rect x="487.7" y="383.8" width="44.5" height="7.8" fill="#f5fa32"/><rect x="531.6" y="383.8" width="44.5" height="7.8" fill="#f8c026"/><rect x="575.5" y="383.8" width="154.3" height="7.8" fill="#fa8719"/><rect x="729.1" y="383.8" width="88.4" height="7.8" fill="#fc5412"/><rect x="816.9" y="383.8" width="88.4" height="7.8" fill="#ff200c"/><rect x="904.7" y="383.8" width="329.9" height="7.8" fill="#c31a0c"/><rect x="125.5" y="391.0" width="362.8" height="7.8" fill="#f8c026"/><rect x="487.7" y="391.0" width="11.6" height="7.8" fill="#f8ad21"/><rect x="498.7" y="391.0" width="33.5" height="7.8" fill="#f99a1d"/><rect x="531.6" y="391.0" width="44.5" height="7.8" fill="#fa8719"/><rect x="575.5" y="391.0" width="11.6" height="7.8" fill="#fb7617"/><rect x="586.5" y="391.0" width="33.5" height="7.8" fill="#fc6515"/><rect x="619.4" y="391.0" width="110.4" height="7.8" fill="#fc5412"/><rect x="729.1" y="391.0" width="11.6" height="7.8" fill="#fd4210"/><rect x="740.1" y="391.0" width="77.4" height="7.8" fill="#fe310e"/><rect x="816.9" y="391.0" width="11.6" height="7.8" fill="#eb1e0c"/><rect x="827.9" y="391.0" width="77.4" height="7.8" fill="#d71c0c"/><rect x="904.7" y="391.0" width="329.9" height="7.8" fill="#c31a0c"/><rect x="125.5" y="398.3" width="494.5" height="7.8" fill="#fc5412"/><rect x="619.4" y="398.3" width="198.2" height="7.8" fill="#ff200c"/><rect x="816.9" y="398.3" width="417.7" height="7.8" fill="#c31a0c"/><rect x="125.5" y="405.5" width="494.5" height="7.8" fill="#ff200c"/><rect x="619.4" y="405.5" width="11.6" height="7.8" fill="#eb1e0c"/><rect x="630.4" y="405.5" width="33.5" height="7.8" fill="#d71c0c"/><rect x="663.3" y="405.5" width="44.5" height="7.8" fill="#c31a0c"/><rect x="707.2" y="405.5" width="110.4" height="7.8" fill="#d71c0c"/><rect x="816.9" y="405.5" width="22.6" height="7.8" fill="#c31a0c"/><rect x="838.9" y="405.5" width="11.6" height="7.8" fill="#af180c"/><rect x="849.9" y="405.5" width="384.7" height="7.8" fill="#9b160c"/><rect x="125.5" y="412.7" width="538.4" height="7.8" fill="#c31a0c"/><rect x="663.3" y="412.7" width="44.5" height="7.8" fill="#87140c"/><rect x="707.2" y="412.7" width="132.3" height="7.8" fill="#c31a0c"/><rect x="838.9" y="412.7" width="395.7" height="7.8" fill="#87140c"/><rect x="125.5" y="420.0" width="538.4" height="7.8" fill="#9b160c"/><rect x="663.3" y="420.0" width="44.5" height="7.8" fill="#87140c"/><rect x="707.2" y="420.0" width="132.3" height="7.8" fill="#9b160c"/><rect x="838.9" y="420.0" width="395.7" height="7.8" fill="#87140c"/><rect x="125.5" y="427.2" width="1109.1" height="7.8" fill="#87140c"/><rect x="125.5" y="434.4" width="1109.1" height="2.2" fill="#87140c"/><path d="M844.0,215.1 L821.0,217.4 L798.1,216.3 L777.4,222.0 L747.6,225.4 L730.0,224.3 L710.0,223.1 L683.5,221.4 L665.7,217.8 L647.9,215.1 L633.7,214.8 L615.9,216.0 L598.1,218.7 L580.3,222.2 L562.5,228.5 L544.7,234.7 L523.4,242.7 L505.6,247.2 L487.8,250.7 L482.5,255.2 L489.6,260.5 L505.6,264.1 L523.4,268.5 L541.2,269.4 L559.0,271.2 L576.8,272.1 L594.6,273.0 L621.2,274.7 L647.9,275.6 L665.7,276.9 L686.4,278.7 L710.0,279.3 L733.8,281.4 L775.1,282.6 L798.1,282.6 L818.7,280.3 L839.4,278.0Z" fill="url(#bg1)"/><path d="M548,240 L600,229 L650,226 L700,230 L760,236 L770,262 L700,266 L600,264 L548,258Z" fill="#a01408" fill-opacity="0.5"/><path d="M124.0,215.5 L141.4,214.9 L159.1,214.2 L182.3,214.2 L194.7,212.8 L212.5,212.8 L230.3,211.4 L244.6,208.3 L262.3,207.1 L280.1,207.1 L297.9,209.2 L315.7,213.7 L328.2,218.1 L333.5,225.2 L336.2,234.1 L339.7,238.6 L336.2,243.0 L330.0,248.4 L319.3,260.8 L308.6,265.3 L296.2,268.0 L287.3,273.3 L283.7,276.9 L290.8,280.4 L295.3,283.1 L287.3,284.0 L274.8,283.1 L262.3,282.2 L251.7,278.6 L244.6,276.0 L230.3,273.3 L209.0,272.4 L182.3,271.9 L155.6,272.4 L141.4,270.6 L124.0,270.6Z" fill="url(#bg2)"/><path d="M124.0,215.5 L141.4,214.9 L159.1,214.2 L182.3,214.2 L194.7,212.8 L212.5,212.8 L230.3,211.4 L244.6,208.3 L244.6,276.0 L230.3,273.3 L209.0,272.4 L182.3,271.9 L155.6,272.4 L141.4,270.6 L124.0,270.6 L244.6,276.0Z" fill="url(#bg3)"/><path d="M1100.0,200.0 L1118.5,176.0 L1117.3,179.8 L1124.7,183.6 L1142.2,184.8 L1164.6,184.8 L1184.5,191.0 L1209.4,198.5 L1236.0,203.8 L1236.0,258.0 L1172.0,258.0 L1122.2,258.0 L1099.8,258.6 L1092.0,259.5Z" fill="url(#bg4)"/><path d="M930,345 L1236,344.8 L1236,366 L915,366Z" fill="url(#bg5)"/>
</g>
<path d="M125.5,80.0 L160.4,80.0 L162.0,86.2 L163.6,92.4 L165.4,98.5 L167.3,104.7 L169.2,110.9 L171.2,117.1 L173.4,123.3 L175.3,129.5 L177.3,135.6 L179.3,141.8 L181.5,148.0 L183.8,154.2 L186.2,160.4 L188.8,166.5 L191.9,172.7 L195.3,178.9 L198.8,185.1 L202.4,191.3 L206.3,197.5 L210.4,203.6 L214.6,209.8 L219.1,216.0 L223.8,222.2 L228.7,228.4 L233.9,234.5 L239.3,240.7 L245.1,246.9 L251.1,253.1 L257.4,259.3 L264.0,265.5 L270.9,271.6 L278.2,277.8 L285.9,284.0 L293.9,290.2 L302.4,296.4 L311.3,302.5 L320.6,308.7 L330.4,314.9 L340.7,321.1 L351.5,327.3 L362.8,333.5 L374.7,339.6 L387.2,345.8 L400.4,352.0 L414.1,358.2 L428.6,364.4 L443.8,370.5 L459.8,376.7 L476.6,382.9 L494.2,389.1 L512.7,395.3 L532.2,401.5 L552.6,407.6 L574.0,413.8 L596.5,420.0 L622.0,427.0 L642.0,434.4 L646.0,437.0 L125.5,436.0 Z" fill="#fff" fill-opacity="0.5"/>
<path d="M1234.0,80.0 L1204.5,80.0 L1202.9,86.2 L1201.3,92.4 L1199.5,98.5 L1197.6,104.7 L1195.7,110.9 L1193.7,117.1 L1191.5,123.3 L1189.0,129.5 L1186.3,135.6 L1183.4,141.8 L1180.5,148.0 L1177.4,154.2 L1174.2,160.4 L1170.8,166.5 L1167.6,172.7 L1164.2,178.9 L1160.7,185.1 L1157.1,191.3 L1153.2,197.5 L1149.1,203.6 L1144.9,209.8 L1140.4,216.0 L1135.7,222.2 L1130.8,228.4 L1125.6,234.5 L1120.2,240.7 L1114.4,246.9 L1108.4,253.1 L1102.1,259.3 L1095.5,265.5 L1088.6,271.6 L1081.3,277.8 L1073.6,284.0 L1065.6,290.2 L1057.1,296.4 L1048.2,302.5 L1038.9,308.7 L1029.1,314.9 L1018.8,321.1 L1008.0,327.3 L996.7,333.5 L984.8,339.6 L972.3,345.8 L959.1,352.0 L945.4,358.2 L930.9,364.4 L915.7,370.5 L899.7,376.7 L882.9,382.9 L865.3,389.1 L846.8,395.3 L827.3,401.5 L806.9,407.6 L785.5,413.8 L763.0,420.0 L740.0,426.0 L720.0,432.7 L708.0,437.0 L1234.0,436.0 Z" fill="#fff" fill-opacity="0.5"/>
<path d="M160.4,80.0 L162.0,86.2 L163.6,92.4 L165.4,98.5 L167.3,104.7 L169.2,110.9 L171.2,117.1 L173.4,123.3 L175.3,129.5 L177.3,135.6 L179.3,141.8 L181.5,148.0 L183.8,154.2 L186.2,160.4 L188.8,166.5 L191.9,172.7 L195.3,178.9 L198.8,185.1 L202.4,191.3 L206.3,197.5 L210.4,203.6 L214.6,209.8 L219.1,216.0 L223.8,222.2 L228.7,228.4 L233.9,234.5 L239.3,240.7 L245.1,246.9 L251.1,253.1 L257.4,259.3 L264.0,265.5 L270.9,271.6 L278.2,277.8 L285.9,284.0 L293.9,290.2 L302.4,296.4 L311.3,302.5 L320.6,308.7 L330.4,314.9 L340.7,321.1 L351.5,327.3 L362.8,333.5 L374.7,339.6 L387.2,345.8 L400.4,352.0 L414.1,358.2 L428.6,364.4 L443.8,370.5 L459.8,376.7 L476.6,382.9 L494.2,389.1 L512.7,395.3 L532.2,401.5 L552.6,407.6 L574.0,413.8 L596.5,420.0 L622.0,427.0 L642.0,434.4 L646.0,437.0" fill="none" stroke="#fff" stroke-width="2.8"/>
<path d="M1204.5,80.0 L1202.9,86.2 L1201.3,92.4 L1199.5,98.5 L1197.6,104.7 L1195.7,110.9 L1193.7,117.1 L1191.5,123.3 L1189.0,129.5 L1186.3,135.6 L1183.4,141.8 L1180.5,148.0 L1177.4,154.2 L1174.2,160.4 L1170.8,166.5 L1167.6,172.7 L1164.2,178.9 L1160.7,185.1 L1157.1,191.3 L1153.2,197.5 L1149.1,203.6 L1144.9,209.8 L1140.4,216.0 L1135.7,222.2 L1130.8,228.4 L1125.6,234.5 L1120.2,240.7 L1114.4,246.9 L1108.4,253.1 L1102.1,259.3 L1095.5,265.5 L1088.6,271.6 L1081.3,277.8 L1073.6,284.0 L1065.6,290.2 L1057.1,296.4 L1048.2,302.5 L1038.9,308.7 L1029.1,314.9 L1018.8,321.1 L1008.0,327.3 L996.7,333.5 L984.8,339.6 L972.3,345.8 L959.1,352.0 L945.4,358.2 L930.9,364.4 L915.7,370.5 L899.7,376.7 L882.9,382.9 L865.3,389.1 L846.8,395.3 L827.3,401.5 L806.9,407.6 L785.5,413.8 L763.0,420.0 L740.0,426.0 L720.0,432.7 L708.0,437.0" fill="none" stroke="#fff" stroke-width="2.8"/>
<g stroke="#960000" stroke-opacity="0.58" stroke-width="2"><line x1="159.0" y1="80.0" x2="159.0" y2="436.0"/><line x1="202.9" y1="80.0" x2="202.9" y2="436.0"/><line x1="246.8" y1="80.0" x2="246.8" y2="436.0"/><line x1="290.8" y1="80.0" x2="290.8" y2="436.0"/><line x1="334.7" y1="80.0" x2="334.7" y2="436.0"/><line x1="378.6" y1="80.0" x2="378.6" y2="436.0"/><line x1="422.5" y1="80.0" x2="422.5" y2="436.0"/><line x1="466.4" y1="80.0" x2="466.4" y2="436.0"/><line x1="510.4" y1="80.0" x2="510.4" y2="436.0"/><line x1="554.3" y1="80.0" x2="554.3" y2="436.0"/><line x1="598.2" y1="80.0" x2="598.2" y2="436.0"/><line x1="642.1" y1="80.0" x2="642.1" y2="436.0"/><line x1="686.0" y1="80.0" x2="686.0" y2="436.0"/><line x1="730.0" y1="80.0" x2="730.0" y2="436.0"/><line x1="773.9" y1="80.0" x2="773.9" y2="436.0"/><line x1="817.8" y1="80.0" x2="817.8" y2="436.0"/><line x1="861.7" y1="80.0" x2="861.7" y2="436.0"/><line x1="905.6" y1="80.0" x2="905.6" y2="436.0"/><line x1="949.6" y1="80.0" x2="949.6" y2="436.0"/><line x1="993.5" y1="80.0" x2="993.5" y2="436.0"/><line x1="1037.4" y1="80.0" x2="1037.4" y2="436.0"/><line x1="1081.3" y1="80.0" x2="1081.3" y2="436.0"/><line x1="1125.2" y1="80.0" x2="1125.2" y2="436.0"/><line x1="1169.2" y1="80.0" x2="1169.2" y2="436.0"/><line x1="1213.1" y1="80.0" x2="1213.1" y2="436.0"/><line x1="125.5" y1="163.0" x2="1234.0" y2="163.0"/><line x1="125.5" y1="249.5" x2="1234.0" y2="249.5"/><line x1="125.5" y1="337.0" x2="1234.0" y2="337.0"/><line x1="125.5" y1="424.0" x2="1234.0" y2="424.0"/></g>
<path d="M286.9,81.3 L279.8,84.0 L269.1,84.0 L260.2,87.6 L256.7,94.7 L260.2,102.7 L267.3,108.9 L278.0,113.3 L286.9,110.7 L293.1,102.7 L295.8,93.8 L294.9,85.8 L290.4,81.3 Z M382.9,116.0 L390.0,112.4 L400.7,114.2 L413.1,117.8 L422.9,121.3 L427.3,124.9 L426.4,134.7 L422.0,141.8 L413.1,145.3 L400.7,144.4 L390.0,138.2 L384.7,129.3 Z M124.0,215.5 L141.4,214.9 L159.1,214.2 L182.3,214.2 L194.7,212.8 L212.5,212.8 L230.3,211.4 L244.6,208.3 L262.3,207.1 L280.1,207.1 L297.9,209.2 L315.7,213.7 L328.2,218.1 L333.5,225.2 L336.2,234.1 L339.7,238.6 L336.2,243.0 L330.0,248.4 L319.3,260.8 L308.6,265.3 L296.2,268.0 L287.3,273.3 L283.7,276.9 L290.8,280.4 L295.3,283.1 L287.3,284.0 L274.8,283.1 L262.3,282.2 L251.7,278.6 L244.6,276.0 L230.3,273.3 L209.0,272.4 L182.3,271.9 L155.6,272.4 L141.4,270.6 L124.0,270.6 M340.0,289.7 L357.0,289.7 M612.9,80.4 L617.3,85.8 L624.4,90.2 L631.0,92.3 L635.1,86.7 L637.8,80.4 M631.0,92.3 L631.3,111.0 M792.4,94.7 L800.4,97.3 L804.9,102.7 L799.6,108.9 L793.3,110.7 Z M958.4,79.0 L956.7,90.2 L958.4,104.4 L961.1,113.3 L958.4,122.2 L949.6,128.4 L938.9,132.9 L926.7,136.8 L903.7,138.0 L892.2,136.2 L880.7,144.9 L872.5,153.0 L878.6,159.8 L878.6,175.5 L887.4,187.2 L898.2,197.0 L894.3,201.9 L879.6,205.8 L862.4,209.4 L844.0,215.1 L821.0,217.4 L798.1,216.3 L777.4,222.0 L747.6,225.4 L730.0,224.3 L710.0,223.1 L683.5,221.4 L665.7,217.8 L647.9,215.1 L633.7,214.8 L615.9,216.0 L598.1,218.7 L580.3,222.2 L562.5,228.5 L544.7,234.7 L523.4,242.7 L505.6,247.2 L487.8,250.7 L482.5,255.2 L489.6,260.5 L505.6,264.1 L523.4,268.5 L541.2,269.4 L559.0,271.2 L576.8,272.1 L594.6,273.0 L621.2,274.7 L647.9,275.6 L665.7,276.9 L686.4,278.7 L710.0,279.3 L733.8,281.4 L775.1,282.6 L798.1,282.6 L818.7,280.3 L839.4,278.0 L862.4,274.6 L880.7,271.1 L903.7,268.8 L926.7,265.4 L938.1,262.6 L958.8,261.2 L977.2,262.6 L995.5,264.9 L1020.0,265.8 L1036.4,267.5 L1060.0,267.0 L1077.4,262.0 L1099.8,258.6 L1122.2,258.0 L1172.0,258.0 L1236.0,258.0 M1126.4,79.0 L1130.9,88.4 L1138.0,93.8 L1146.9,96.4 L1151.3,104.4 L1154.9,116.9 L1157.6,129.3 L1159.3,137.3 L1164.7,143.5 L1159.6,150.0 L1147.1,157.4 L1142.2,164.9 L1127.2,169.9 L1118.5,173.6 L1117.3,179.8 L1124.7,183.6 L1142.2,184.8 L1164.6,184.8 L1184.5,191.0 L1209.4,198.5 L1236.0,203.8 M1022.4,103.6 L1013.6,108.0 L1004.7,114.2 L997.6,120.4 L996.7,127.6 L1001.1,134.7 L1010.0,140.0 L1022.4,144.4 L1036.7,146.2 L1050.9,144.4 L1065.1,140.9 L1074.0,136.4 L1075.8,131.1 L1082.0,128.4 L1072.2,130.2 L1061.6,132.9 L1052.7,130.2 L1043.8,124.0 L1038.4,116.9 L1033.1,109.8 L1026.9,104.4 Z M1038.4,79.5 L1043.8,87.6 L1054.4,90.2 L1065.1,87.6 L1068.7,79.5 M938.3,201.9 L944.2,196.0 L957.9,191.1 L973.5,188.2 L985.3,187.2 L989.2,191.1 L984.3,196.0 L989.2,200.9 L1004.9,202.5 L989.2,203.3 L985.3,206.8 L969.6,207.2 L954.0,206.8 L944.2,203.8 Z M609.1,326.7 L623.4,324.0 L648.3,321.7 L676.8,321.4 L701.7,322.2 L721.2,325.8 L733.7,329.4 L745.3,333.8 L740.8,335.6 L726.6,334.7 L721.2,337.4 L694.6,337.4 L662.5,337.4 L651.9,340.9 L637.6,343.6 L605.6,343.6 L594.9,340.9 L600.2,335.6 L618.0,333.8 L610.9,329.4 Z M705.2,356.9 L715.9,351.6 L730.1,348.0 L744.4,350.7 L756.8,356.9 L762.2,360.5 L747.9,362.3 L730.1,361.4 L715.9,360.5 Z M760.0,359.6 L820.0,359.4 L888.0,359.4 L905.0,357.0 L925.0,355.0 L900.0,351.5 L880.0,349.0 L866.0,347.3 L885.0,345.8 L930.0,345.0 L1060.0,345.0 L1236.0,344.8 M885.0,352.5 L922.0,353.5 M758.5,362.3 L778.1,365.2 L797.7,369.2 L817.3,375.0 L839.6,379.9 L859.2,383.8 L878.7,386.8 L898.3,388.7 L908.1,391.7 L917.9,395.6 L947.3,396.6 L976.6,397.5 L1007.9,398.5 L1035.4,401.5 L1062.0,404.5 L1055.0,411.0 L1047.5,421.0 L1044.0,415.0 L1015.8,416.1 L996.2,421.0 L976.6,422.0 L947.3,422.0 L908.1,423.0 L859.2,425.9 L839.6,429.8 L831.7,434.7 L828.0,437.0" fill="none" stroke="#000" stroke-width="4.2" stroke-linejoin="round" stroke-linecap="round"/><path d="M866,347 L900,344.5 L930,345 L926,355.5 L905,357.5 L888,358.5 L893,352.5 L870,349.5Z" fill="#000"/><circle cx="631.4" cy="110.5" r="3.8"/><circle cx="698" cy="362.3" r="2.8"/><path d="M1215.5,398.5 L1236,398.5" stroke="#000" stroke-width="7"/><path d="M126.1,235.2 L127.4,222.2 L124.6,222.9 L130.3,211.5 L133.4,223.9 L130.8,222.6 L129.4,235.5Z M126.1,249.7 L127.4,236.7 L124.6,237.4 L130.3,226.0 L133.4,238.4 L130.8,237.1 L129.4,250.0Z M126.1,264.1 L127.4,251.1 L124.6,251.8 L130.3,240.4 L133.4,252.8 L130.8,251.5 L129.4,264.4Z M126.1,274.3 L127.4,261.3 L124.6,262.0 L130.3,250.6 L133.4,263.0 L130.8,261.7 L129.4,274.6Z M158.9,235.2 L160.3,222.2 L157.5,222.9 L163.1,211.5 L166.2,223.9 L163.6,222.6 L162.3,235.5Z M158.9,249.7 L160.3,236.7 L157.5,237.4 L163.1,226.0 L166.2,238.4 L163.6,237.1 L162.3,250.0Z M158.9,264.1 L160.3,251.1 L157.5,251.8 L163.1,240.4 L166.2,252.8 L163.6,251.5 L162.3,264.4Z M158.9,274.3 L160.3,261.3 L157.5,262.0 L163.1,250.6 L166.2,263.0 L163.6,261.7 L162.3,274.6Z M191.8,235.2 L193.1,222.2 L190.3,222.9 L196.0,211.5 L199.1,223.9 L196.5,222.6 L195.1,235.5Z M191.8,249.7 L193.1,236.7 L190.3,237.4 L196.0,226.0 L199.1,238.4 L196.5,237.1 L195.1,250.0Z M191.8,264.1 L193.1,251.1 L190.3,251.8 L196.0,240.4 L199.1,252.8 L196.5,251.5 L195.1,264.4Z M191.8,274.3 L193.1,261.3 L190.3,262.0 L196.0,250.6 L199.1,263.0 L196.5,261.7 L195.1,274.6Z M224.6,235.2 L226.0,222.2 L223.2,222.9 L228.8,211.5 L231.9,223.9 L229.3,222.6 L228.0,235.5Z M224.6,249.7 L226.0,236.7 L223.2,237.4 L228.8,226.0 L231.9,238.4 L229.3,237.1 L228.0,250.0Z M224.6,264.1 L226.0,251.1 L223.2,251.8 L228.8,240.4 L231.9,252.8 L229.3,251.5 L228.0,264.4Z M224.6,274.3 L226.0,261.3 L223.2,262.0 L228.8,250.6 L231.9,263.0 L229.3,261.7 L228.0,274.6Z M257.9,235.3 L258.8,222.3 L256.0,223.1 L261.2,211.4 L264.8,223.7 L262.2,222.5 L261.3,235.5Z M257.9,249.8 L258.8,236.8 L256.0,237.6 L261.2,225.9 L264.8,238.2 L262.2,237.0 L261.3,250.0Z M257.9,264.2 L258.8,251.2 L256.0,252.0 L261.2,240.3 L264.8,252.6 L262.2,251.4 L261.3,264.4Z M519.6,260.2 L517.3,251.5 L514.9,253.1 L517.1,244.3 L523.5,250.9 L520.6,250.6 L522.9,259.3Z M553.5,250.0 L551.2,237.2 L548.7,238.7 L551.0,226.1 L557.4,237.1 L554.6,236.6 L556.8,249.4Z M553.5,264.4 L551.2,251.6 L548.7,253.1 L551.0,240.5 L557.4,251.5 L554.6,251.0 L556.8,263.8Z M586.3,250.0 L584.1,237.2 L581.6,238.7 L583.8,226.1 L590.2,237.1 L587.4,236.6 L589.7,249.4Z M586.3,264.4 L584.1,251.6 L581.6,253.1 L583.8,240.5 L590.2,251.5 L587.4,251.0 L589.7,263.8Z M619.2,250.0 L616.9,237.2 L614.4,238.7 L616.7,226.1 L623.1,237.1 L620.3,236.6 L622.5,249.4Z M619.2,264.4 L616.9,251.6 L614.4,253.1 L616.7,240.5 L623.1,251.5 L620.3,251.0 L622.5,263.8Z M652.0,250.0 L649.8,237.2 L647.3,238.7 L649.5,226.1 L655.9,237.1 L653.1,236.6 L655.4,249.4Z M652.0,264.4 L649.8,251.6 L647.3,253.1 L649.5,240.5 L655.9,251.5 L653.1,251.0 L655.4,263.8Z M684.9,250.0 L682.6,237.2 L680.1,238.7 L682.4,226.1 L688.8,237.1 L686.0,236.6 L688.2,249.4Z M684.9,264.4 L682.6,251.6 L680.1,253.1 L682.4,240.5 L688.8,251.5 L686.0,251.0 L688.2,263.8Z M718.7,250.0 L716.5,237.2 L714.0,238.7 L716.2,226.1 L722.6,237.1 L719.8,236.6 L722.1,249.4Z M718.7,264.4 L716.5,251.6 L714.0,253.1 L716.2,240.5 L722.6,251.5 L719.8,251.0 L722.1,263.8Z M718.7,277.6 L716.5,264.8 L714.0,266.3 L716.2,253.7 L722.6,264.7 L719.8,264.2 L722.1,277.0Z M751.6,250.0 L749.3,237.2 L746.8,238.7 L749.1,226.1 L755.5,237.1 L752.7,236.6 L754.9,249.4Z M751.6,264.4 L749.3,251.6 L746.8,253.1 L749.1,240.5 L755.5,251.5 L752.7,251.0 L754.9,263.8Z M751.6,277.6 L749.3,264.8 L746.8,266.3 L749.1,253.7 L755.5,264.7 L752.7,264.2 L754.9,277.0Z M784.4,250.0 L782.2,237.2 L779.7,238.7 L781.9,226.1 L788.3,237.1 L785.5,236.6 L787.8,249.4Z M784.4,264.4 L782.2,251.6 L779.7,253.1 L781.9,240.5 L788.3,251.5 L785.5,251.0 L787.8,263.8Z M784.4,277.6 L782.2,264.8 L779.7,266.3 L781.9,253.7 L788.3,264.7 L785.5,264.2 L787.8,277.0Z M816.4,250.0 L815.1,237.1 L812.5,238.4 L815.6,226.0 L821.2,237.4 L818.4,236.7 L819.8,249.7Z M816.4,264.4 L815.1,251.5 L812.5,252.8 L815.6,240.4 L821.2,251.8 L818.4,251.1 L819.8,264.1Z M849.0,256.1 L848.2,249.2 L845.6,250.4 L848.8,238.0 L854.4,249.5 L851.6,248.8 L852.3,255.8Z M972.2,84.5 L982.8,77.0 L980.5,75.4 L992.8,72.1 L985.5,82.6 L984.8,79.8 L974.1,87.3Z M971.8,97.7 L983.0,91.2 L980.8,89.4 L993.4,87.2 L985.2,97.0 L984.7,94.2 L973.5,100.7Z M971.4,111.1 L983.2,105.6 L981.1,103.6 L993.9,102.5 L984.9,111.6 L984.6,108.7 L972.8,114.2Z M1006.5,84.0 L1016.7,76.0 L1014.3,74.5 L1026.5,70.6 L1019.7,81.5 L1018.8,78.7 L1008.6,86.7Z M1006.5,98.0 L1016.7,90.0 L1014.3,88.5 L1026.5,84.6 L1019.7,95.5 L1018.8,92.7 L1008.6,100.7Z M1040.4,98.4 L1045.8,93.9 L1043.3,92.5 L1051.5,91.3 L1048.9,99.2 L1048.0,96.5 L1042.6,101.0Z M1072.3,100.3 L1081.5,91.1 L1078.9,89.9 L1090.5,84.5 L1085.1,96.1 L1083.9,93.5 L1074.7,102.7Z M1075.4,114.8 L1081.5,103.3 L1078.6,102.9 L1088.1,94.4 L1086.4,107.1 L1084.5,104.9 L1078.4,116.4Z M1104.3,85.0 L1114.5,77.0 L1112.1,75.5 L1124.3,71.6 L1117.5,82.5 L1116.6,79.7 L1106.4,87.7Z M1104.2,99.7 L1114.6,91.8 L1112.2,90.3 L1124.4,86.6 L1117.4,97.3 L1116.6,94.6 L1106.2,102.4Z M1105.1,114.0 L1114.3,104.8 L1111.7,103.6 L1123.3,98.2 L1117.9,109.8 L1116.7,107.2 L1107.5,116.4Z M1006.1,225.9 L1018.4,221.5 L1016.5,219.3 L1029.3,219.3 L1019.5,227.5 L1019.5,224.7 L1007.3,229.1Z M1006.4,241.5 L1018.2,236.0 L1016.1,234.0 L1028.9,232.9 L1019.9,242.0 L1019.6,239.1 L1007.8,244.6Z M1044.6,220.3 L1047.3,207.6 L1044.5,208.0 L1051.3,197.2 L1053.1,209.8 L1050.7,208.3 L1048.0,221.0Z M1044.6,234.8 L1047.3,222.1 L1044.5,222.5 L1051.3,211.7 L1053.1,224.3 L1050.7,222.8 L1048.0,235.5Z M1044.6,249.3 L1047.3,236.6 L1044.5,237.0 L1051.3,226.2 L1053.1,238.8 L1050.7,237.3 L1048.0,250.0Z M1044.6,263.7 L1047.3,251.0 L1044.5,251.4 L1051.3,240.6 L1053.1,253.2 L1050.7,251.7 L1048.0,264.4Z M1079.9,171.8 L1081.0,158.9 L1078.3,159.6 L1083.7,148.0 L1087.0,160.4 L1084.4,159.2 L1083.3,172.1Z M1080.5,220.8 L1081.0,207.8 L1078.3,208.7 L1083.1,196.9 L1087.0,209.1 L1084.4,208.0 L1083.9,221.0Z M1080.5,235.3 L1081.0,222.3 L1078.3,223.2 L1083.1,211.4 L1087.0,223.6 L1084.4,222.5 L1083.9,235.5Z M1080.5,249.8 L1081.0,236.8 L1078.3,237.7 L1083.1,225.9 L1087.0,238.1 L1084.4,237.0 L1083.9,250.0Z M1080.5,264.2 L1081.0,251.2 L1078.3,252.1 L1083.1,240.3 L1087.0,252.5 L1084.4,251.4 L1083.9,264.4Z M1112.8,218.0 L1112.8,205.0 L1110.1,206.0 L1114.5,194.0 L1118.9,206.0 L1116.2,205.0 L1116.2,218.0Z M1112.8,232.0 L1112.8,219.0 L1110.1,220.0 L1114.5,208.0 L1118.9,220.0 L1116.2,219.0 L1116.2,232.0Z M1112.8,246.5 L1112.8,233.5 L1110.1,234.5 L1114.5,222.5 L1118.9,234.5 L1116.2,233.5 L1116.2,246.5Z M1112.8,260.0 L1112.8,247.0 L1110.1,248.0 L1114.5,236.0 L1118.9,248.0 L1116.2,247.0 L1116.2,260.0Z M1145.6,218.0 L1145.6,205.0 L1142.9,206.0 L1147.3,194.0 L1151.8,206.0 L1149.0,205.0 L1149.0,218.0Z M1145.6,232.0 L1145.6,219.0 L1142.9,220.0 L1147.3,208.0 L1151.8,220.0 L1149.0,219.0 L1149.0,232.0Z M1145.6,246.5 L1145.6,233.5 L1142.9,234.5 L1147.3,222.5 L1151.8,234.5 L1149.0,233.5 L1149.0,246.5Z M1145.6,260.0 L1145.6,247.0 L1142.9,248.0 L1147.3,236.0 L1151.8,248.0 L1149.0,247.0 L1149.0,260.0Z M1178.5,218.0 L1178.5,205.0 L1175.8,206.0 L1180.2,194.0 L1184.6,206.0 L1181.9,205.0 L1181.9,218.0Z M1178.5,232.0 L1178.5,219.0 L1175.8,220.0 L1180.2,208.0 L1184.6,220.0 L1181.9,219.0 L1181.9,232.0Z M1178.5,246.5 L1178.5,233.5 L1175.8,234.5 L1180.2,222.5 L1184.6,234.5 L1181.9,233.5 L1181.9,246.5Z M1178.5,260.0 L1178.5,247.0 L1175.8,248.0 L1180.2,236.0 L1184.6,248.0 L1181.9,247.0 L1181.9,260.0Z M1211.3,218.0 L1211.3,205.0 L1208.6,206.0 L1213.0,194.0 L1217.5,206.0 L1214.8,205.0 L1214.8,218.0Z M1211.3,232.0 L1211.3,219.0 L1208.6,220.0 L1213.0,208.0 L1217.5,220.0 L1214.8,219.0 L1214.8,232.0Z M1211.3,246.5 L1211.3,233.5 L1208.6,234.5 L1213.0,222.5 L1217.5,234.5 L1214.8,233.5 L1214.8,246.5Z M1211.3,260.0 L1211.3,247.0 L1208.6,248.0 L1213.0,236.0 L1217.5,248.0 L1214.8,247.0 L1214.8,260.0Z M125.2,423.0 L127.5,410.2 L124.7,410.7 L131.1,399.7 L133.3,412.3 L130.8,410.8 L128.6,423.6Z M125.6,435.1 L127.5,422.3 L124.6,422.9 L130.7,411.6 L133.4,424.1 L130.8,422.7 L129.0,435.6Z M158.1,423.0 L160.3,410.2 L157.5,410.7 L163.9,399.7 L166.2,412.3 L163.7,410.8 L161.4,423.6Z M158.5,435.1 L160.3,422.3 L157.5,422.9 L163.5,411.6 L166.2,424.1 L163.7,422.7 L161.9,435.6Z M190.9,423.0 L193.2,410.2 L190.4,410.7 L196.8,399.7 L199.0,412.3 L196.5,410.8 L194.3,423.6Z M191.3,435.1 L193.2,422.3 L190.3,422.9 L196.4,411.6 L199.1,424.1 L196.5,422.7 L194.7,435.6Z M223.8,423.0 L226.0,410.2 L223.2,410.7 L229.6,399.7 L231.9,412.3 L229.4,410.8 L227.1,423.6Z M224.2,435.1 L226.0,422.3 L223.2,422.9 L229.2,411.6 L231.9,424.1 L229.4,422.7 L227.6,435.6Z M256.6,423.0 L258.9,410.2 L256.1,410.7 L262.5,399.7 L264.7,412.3 L262.2,410.8 L260.0,423.6Z M257.0,435.1 L258.9,422.3 L256.0,422.9 L262.1,411.6 L264.8,424.1 L262.2,422.7 L260.4,435.6Z M289.5,423.0 L291.7,410.2 L288.9,410.7 L295.3,399.7 L297.6,412.3 L295.1,410.8 L292.8,423.6Z M289.9,435.1 L291.7,422.3 L288.9,422.9 L294.9,411.6 L297.6,424.1 L295.1,422.7 L293.3,435.6Z M322.3,423.0 L324.6,410.2 L321.8,410.7 L328.2,399.7 L330.4,412.3 L327.9,410.8 L325.7,423.6Z M322.7,435.1 L324.6,422.3 L321.7,422.9 L327.8,411.6 L330.5,424.1 L327.9,422.7 L326.1,435.6Z M355.2,423.0 L357.4,410.2 L354.6,410.7 L361.0,399.7 L363.3,412.3 L360.8,410.8 L358.5,423.6Z M355.6,435.1 L357.4,422.3 L354.6,422.9 L360.6,411.6 L363.3,424.1 L360.8,422.7 L359.0,435.6Z M388.0,423.0 L390.3,410.2 L387.5,410.7 L393.9,399.7 L396.1,412.3 L393.6,410.8 L391.4,423.6Z M388.4,435.1 L390.3,422.3 L387.4,422.9 L393.5,411.6 L396.2,424.1 L393.6,422.7 L391.8,435.6Z M420.9,423.0 L423.1,410.2 L420.3,410.7 L426.7,399.7 L429.0,412.3 L426.5,410.8 L424.2,423.6Z M421.3,435.1 L423.1,422.3 L420.3,422.9 L426.3,411.6 L429.0,424.1 L426.5,422.7 L424.7,435.6Z M453.7,423.0 L456.0,410.2 L453.2,410.7 L459.6,399.7 L461.8,412.3 L459.3,410.8 L457.1,423.6Z M454.1,435.1 L456.0,422.3 L453.1,422.9 L459.2,411.6 L461.9,424.1 L459.3,422.7 L457.5,435.6Z M486.6,423.0 L488.8,410.2 L486.0,410.7 L492.4,399.7 L494.7,412.3 L492.2,410.8 L489.9,423.6Z M487.0,435.1 L488.8,422.3 L486.0,422.9 L492.0,411.6 L494.7,424.1 L492.2,422.7 L490.4,435.6Z M520.7,414.9 L523.7,406.5 L520.9,406.5 L527.7,400.5 L529.1,409.5 L526.9,407.6 L523.9,416.1Z M554.1,414.5 L557.9,406.4 L555.0,406.1 L562.4,400.7 L563.0,409.9 L561.0,407.8 L557.2,416.0Z M582.3,416.6 L589.3,408.1 L586.6,407.2 L596.4,402.3 L593.4,412.8 L591.9,410.3 L584.9,418.8Z M612.8,417.4 L621.3,408.9 L618.7,407.7 L629.6,403.0 L624.9,413.9 L623.7,411.3 L615.2,419.8Z M647.1,416.9 L656.0,408.9 L653.5,407.5 L664.6,403.4 L659.3,414.1 L658.3,411.4 L649.4,419.4Z M677.7,415.8 L687.8,408.4 L685.4,406.8 L697.3,403.6 L690.6,414.0 L689.8,411.2 L679.7,418.5Z M710.5,416.0 L720.7,408.8 L718.4,407.2 L730.3,404.2 L723.4,414.4 L722.7,411.6 L712.5,418.8Z M519.7,435.1 L518.6,423.2 L516.0,424.4 L519.4,413.0 L524.8,423.6 L522.0,422.9 L523.1,434.8Z M550.9,435.1 L549.8,423.2 L547.2,424.4 L550.6,413.0 L556.0,423.6 L553.2,422.9 L554.3,434.8Z M589.0,435.4 L583.0,425.0 L581.2,427.2 L579.5,415.5 L588.8,422.8 L586.0,423.3 L592.0,433.7Z M623.3,432.8 L614.7,427.8 L614.2,430.6 L608.6,422.3 L618.6,423.0 L616.4,424.8 L625.0,429.8Z M653.6,429.7 L646.6,429.7 L647.6,432.4 L641.6,428.0 L647.6,423.6 L646.6,426.3 L653.6,426.3Z M678.2,425.3 L690.1,426.4 L689.4,423.6 L700.0,429.0 L688.6,432.4 L689.8,429.8 L677.9,428.7Z M720.0,429.6 L724.5,421.8 L721.7,421.3 L729.5,416.6 L729.3,425.7 L727.5,423.5 L723.0,431.3Z M744.4,419.9 L752.4,409.7 L749.7,408.8 L760.5,402.0 L756.6,414.2 L755.1,411.8 L747.1,422.0Z M743.1,430.8 L752.8,422.1 L750.2,420.7 L762.1,416.0 L756.1,427.3 L755.0,424.6 L745.4,433.3Z M778.2,420.8 L785.1,409.8 L782.3,409.2 L792.4,401.3 L789.7,413.8 L788.0,411.6 L781.1,422.6Z M776.7,431.8 L785.4,422.1 L782.7,421.1 L794.0,415.1 L789.3,426.9 L787.9,424.4 L779.2,434.1Z M812.8,408.0 L817.6,395.9 L814.8,395.9 L823.3,386.4 L822.9,399.1 L820.8,397.2 L815.9,409.3Z M812.8,422.0 L817.6,409.9 L814.8,409.9 L823.3,400.4 L822.9,413.1 L820.8,411.2 L815.9,423.3Z M812.8,436.5 L817.6,424.4 L814.8,424.4 L823.3,414.9 L822.9,427.6 L820.8,425.7 L815.9,437.8Z M845.6,408.0 L850.5,395.9 L847.6,395.9 L856.2,386.4 L855.8,399.1 L853.7,397.2 L848.8,409.3Z M845.6,422.0 L850.5,409.9 L847.6,409.9 L856.2,400.4 L855.8,413.1 L853.7,411.2 L848.8,423.3Z M845.6,436.5 L850.5,424.4 L847.6,424.4 L856.2,414.9 L855.8,427.6 L853.7,425.7 L848.8,437.8Z M878.5,411.5 L883.3,399.4 L880.5,399.4 L889.0,389.9 L888.6,402.6 L886.5,400.7 L881.6,412.8Z M878.5,422.0 L883.3,409.9 L880.5,409.9 L889.0,400.4 L888.6,413.1 L886.5,411.2 L881.6,423.3Z M878.5,436.5 L883.3,424.4 L880.5,424.4 L889.0,414.9 L888.6,427.6 L886.5,425.7 L881.6,437.8Z M915.3,393.4 L915.7,380.4 L913.0,381.3 L917.8,369.5 L921.8,381.7 L919.1,380.6 L918.7,393.6Z M915.3,407.9 L915.7,394.9 L913.0,395.8 L917.8,384.0 L921.8,396.2 L919.1,395.1 L918.7,408.1Z M911.7,422.2 L916.1,410.0 L913.3,410.0 L921.5,400.2 L921.5,413.0 L919.3,411.1 L914.9,423.4Z M911.7,436.7 L916.1,424.5 L913.3,424.5 L921.5,414.7 L921.5,427.5 L919.3,425.6 L914.9,437.9Z M950.0,380.6 L948.4,367.7 L945.9,369.0 L948.8,356.6 L954.6,368.0 L951.8,367.3 L953.4,380.2Z M950.0,394.7 L948.4,381.8 L945.9,383.1 L948.8,370.7 L954.6,382.1 L951.8,381.4 L953.4,394.3Z M950.0,409.1 L948.4,396.2 L945.9,397.5 L948.8,385.1 L954.6,396.5 L951.8,395.8 L953.4,408.7Z M944.9,422.4 L948.9,410.0 L946.1,410.1 L954.0,400.1 L954.4,412.9 L952.2,411.1 L948.2,423.4Z M944.9,436.9 L948.9,424.5 L946.1,424.6 L954.0,414.6 L954.4,427.4 L952.2,425.6 L948.2,437.9Z M982.9,380.6 L981.3,367.7 L978.7,369.0 L981.6,356.6 L987.5,368.0 L984.7,367.3 L986.2,380.2Z M982.9,394.7 L981.3,381.8 L978.7,383.1 L981.6,370.7 L987.5,382.1 L984.7,381.4 L986.2,394.3Z M982.9,409.1 L981.3,396.2 L978.7,397.5 L981.6,385.1 L987.5,396.5 L984.7,395.8 L986.2,408.7Z M977.8,422.4 L981.8,410.0 L978.9,410.1 L986.8,400.1 L987.3,412.9 L985.0,411.1 L981.0,423.4Z M977.8,436.9 L981.8,424.5 L978.9,424.6 L986.8,414.6 L987.3,427.4 L985.0,425.6 L981.0,437.9Z M1015.7,380.6 L1014.1,367.7 L1011.6,369.0 L1014.5,356.6 L1020.3,368.0 L1017.5,367.3 L1019.1,380.2Z M1015.7,394.7 L1014.1,381.8 L1011.6,383.1 L1014.5,370.7 L1020.3,382.1 L1017.5,381.4 L1019.1,394.3Z M1015.7,409.1 L1014.1,396.2 L1011.6,397.5 L1014.5,385.1 L1020.3,396.5 L1017.5,395.8 L1019.1,408.7Z M1010.6,422.4 L1014.6,410.0 L1011.8,410.1 L1019.7,400.1 L1020.1,412.9 L1017.9,411.1 L1013.9,423.4Z M1010.6,436.9 L1014.6,424.5 L1011.8,424.6 L1019.7,414.6 L1020.1,427.4 L1017.9,425.6 L1013.9,437.9Z M1048.6,365.9 L1047.0,353.0 L1044.4,354.3 L1047.3,341.9 L1053.2,353.3 L1050.4,352.6 L1051.9,365.5Z M1048.6,380.2 L1047.0,367.3 L1044.4,368.6 L1047.3,356.2 L1053.2,367.6 L1050.4,366.9 L1051.9,379.8Z M1048.6,394.7 L1047.0,381.8 L1044.4,383.1 L1047.3,370.7 L1053.2,382.1 L1050.4,381.4 L1051.9,394.3Z M1048.6,409.1 L1047.0,396.2 L1044.4,397.5 L1047.3,385.1 L1053.2,396.5 L1050.4,395.8 L1051.9,408.7Z M1044.1,422.7 L1047.4,410.1 L1044.5,410.4 L1051.9,399.9 L1053.1,412.6 L1050.7,411.0 L1047.3,423.5Z M1044.1,437.2 L1047.4,424.6 L1044.5,424.9 L1051.9,414.4 L1053.1,427.1 L1050.7,425.5 L1047.3,438.0Z M1081.4,365.9 L1079.8,353.0 L1077.3,354.3 L1080.2,341.9 L1086.0,353.3 L1083.2,352.6 L1084.8,365.5Z M1081.4,380.2 L1079.8,367.3 L1077.3,368.6 L1080.2,356.2 L1086.0,367.6 L1083.2,366.9 L1084.8,379.8Z M1081.4,394.7 L1079.8,381.8 L1077.3,383.1 L1080.2,370.7 L1086.0,382.1 L1083.2,381.4 L1084.8,394.3Z M1081.4,409.1 L1079.8,396.2 L1077.3,397.5 L1080.2,385.1 L1086.0,396.5 L1083.2,395.8 L1084.8,408.7Z M1076.9,422.7 L1080.3,410.1 L1077.4,410.4 L1084.8,399.9 L1085.9,412.6 L1083.6,411.0 L1080.2,423.5Z M1076.9,437.2 L1080.3,424.6 L1077.4,424.9 L1084.8,414.4 L1085.9,427.1 L1083.6,425.5 L1080.2,438.0Z M1114.3,365.9 L1112.7,353.0 L1110.1,354.3 L1113.0,341.9 L1118.9,353.3 L1116.1,352.6 L1117.6,365.5Z M1114.3,380.2 L1112.7,367.3 L1110.1,368.6 L1113.0,356.2 L1118.9,367.6 L1116.1,366.9 L1117.6,379.8Z M1114.3,394.7 L1112.7,381.8 L1110.1,383.1 L1113.0,370.7 L1118.9,382.1 L1116.1,381.4 L1117.6,394.3Z M1114.3,409.1 L1112.7,396.2 L1110.1,397.5 L1113.0,385.1 L1118.9,396.5 L1116.1,395.8 L1117.6,408.7Z M1109.8,422.7 L1113.1,410.1 L1110.2,410.4 L1117.6,399.9 L1118.8,412.6 L1116.4,411.0 L1113.0,423.5Z M1109.8,437.2 L1113.1,424.6 L1110.2,424.9 L1117.6,414.4 L1118.8,427.1 L1116.4,425.5 L1113.0,438.0Z M1147.1,365.9 L1145.5,353.0 L1143.0,354.3 L1145.9,341.9 L1151.7,353.3 L1148.9,352.6 L1150.5,365.5Z M1147.1,380.2 L1145.5,367.3 L1143.0,368.6 L1145.9,356.2 L1151.7,367.6 L1148.9,366.9 L1150.5,379.8Z M1147.1,394.7 L1145.5,381.8 L1143.0,383.1 L1145.9,370.7 L1151.7,382.1 L1148.9,381.4 L1150.5,394.3Z M1147.1,409.1 L1145.5,396.2 L1143.0,397.5 L1145.9,385.1 L1151.7,396.5 L1148.9,395.8 L1150.5,408.7Z M1142.6,422.7 L1146.0,410.1 L1143.1,410.4 L1150.5,399.9 L1151.6,412.6 L1149.3,411.0 L1145.9,423.5Z M1142.6,437.2 L1146.0,424.6 L1143.1,424.9 L1150.5,414.4 L1151.6,427.1 L1149.3,425.5 L1145.9,438.0Z M1180.0,365.9 L1178.4,353.0 L1175.8,354.3 L1178.7,341.9 L1184.6,353.3 L1181.8,352.6 L1183.3,365.5Z M1180.0,380.2 L1178.4,367.3 L1175.8,368.6 L1178.7,356.2 L1184.6,367.6 L1181.8,366.9 L1183.3,379.8Z M1180.0,394.7 L1178.4,381.8 L1175.8,383.1 L1178.7,370.7 L1184.6,382.1 L1181.8,381.4 L1183.3,394.3Z M1180.0,409.1 L1178.4,396.2 L1175.8,397.5 L1178.7,385.1 L1184.6,396.5 L1181.8,395.8 L1183.3,408.7Z M1175.5,422.7 L1178.8,410.1 L1175.9,410.4 L1183.3,399.9 L1184.5,412.6 L1182.1,411.0 L1178.7,423.5Z M1175.5,437.2 L1178.8,424.6 L1175.9,424.9 L1183.3,414.4 L1184.5,427.1 L1182.1,425.5 L1178.7,438.0Z M1212.8,365.9 L1211.2,353.0 L1208.7,354.3 L1211.6,341.9 L1217.4,353.3 L1214.6,352.6 L1216.2,365.5Z M1212.8,380.2 L1211.2,367.3 L1208.7,368.6 L1211.6,356.2 L1217.4,367.6 L1214.6,366.9 L1216.2,379.8Z M1212.8,394.7 L1211.2,381.8 L1208.7,383.1 L1211.6,370.7 L1217.4,382.1 L1214.6,381.4 L1216.2,394.3Z M1212.8,409.1 L1211.2,396.2 L1208.7,397.5 L1211.6,385.1 L1217.4,396.5 L1214.6,395.8 L1216.2,408.7Z M1208.3,422.7 L1211.7,410.1 L1208.8,410.4 L1216.2,399.9 L1217.3,412.6 L1215.0,411.0 L1211.6,423.5Z M1208.3,437.2 L1211.7,424.6 L1208.8,424.9 L1216.2,414.4 L1217.3,427.1 L1215.0,425.5 L1211.6,438.0Z" fill="#000" stroke="#000" stroke-width="0.8" stroke-linejoin="round"/>
</g>
<rect x="125.5" y="80" width="1108.5" height="356" fill="none" stroke="#222" stroke-width="1.8"/>
<rect x="1250" y="97.8" width="28.3" height="319.2" fill="url(#jet)" stroke="#333" stroke-width="0.8"/>
<g stroke="#222" stroke-width="1.8"><line x1="159.0" y1="436.0" x2="159.0" y2="450.5"/><line x1="202.9" y1="436.0" x2="202.9" y2="450.5"/><line x1="246.8" y1="436.0" x2="246.8" y2="450.5"/><line x1="290.8" y1="436.0" x2="290.8" y2="450.5"/><line x1="334.7" y1="436.0" x2="334.7" y2="450.5"/><line x1="378.6" y1="436.0" x2="378.6" y2="450.5"/><line x1="422.5" y1="436.0" x2="422.5" y2="450.5"/><line x1="466.4" y1="436.0" x2="466.4" y2="450.5"/><line x1="510.4" y1="436.0" x2="510.4" y2="450.5"/><line x1="554.3" y1="436.0" x2="554.3" y2="450.5"/><line x1="598.2" y1="436.0" x2="598.2" y2="450.5"/><line x1="642.1" y1="436.0" x2="642.1" y2="450.5"/><line x1="686.0" y1="436.0" x2="686.0" y2="450.5"/><line x1="730.0" y1="436.0" x2="730.0" y2="450.5"/><line x1="773.9" y1="436.0" x2="773.9" y2="450.5"/><line x1="817.8" y1="436.0" x2="817.8" y2="450.5"/><line x1="861.7" y1="436.0" x2="861.7" y2="450.5"/><line x1="905.6" y1="436.0" x2="905.6" y2="450.5"/><line x1="949.6" y1="436.0" x2="949.6" y2="450.5"/><line x1="993.5" y1="436.0" x2="993.5" y2="450.5"/><line x1="1037.4" y1="436.0" x2="1037.4" y2="450.5"/><line x1="1081.3" y1="436.0" x2="1081.3" y2="450.5"/><line x1="1125.2" y1="436.0" x2="1125.2" y2="450.5"/><line x1="1169.2" y1="436.0" x2="1169.2" y2="450.5"/><line x1="1213.1" y1="436.0" x2="1213.1" y2="450.5"/><line x1="109.0" y1="163.0" x2="125.5" y2="163.0"/><line x1="109.0" y1="249.5" x2="125.5" y2="249.5"/><line x1="109.0" y1="337.0" x2="125.5" y2="337.0"/><line x1="109.0" y1="424.0" x2="125.5" y2="424.0"/><line x1="1278.3" y1="414.8" x2="1294.2" y2="414.8"/><line x1="1278.3" y1="349.7" x2="1294.2" y2="349.7"/><line x1="1278.3" y1="284.6" x2="1294.2" y2="284.6"/><line x1="1278.3" y1="219.5" x2="1294.2" y2="219.5"/><line x1="1278.3" y1="154.4" x2="1294.2" y2="154.4"/></g>
<text transform="translate(159.0,493.8) scale(1,1.08)" text-anchor="middle">1999</text><text transform="translate(246.8,493.8) scale(1,1.08)" text-anchor="middle">2001</text><text transform="translate(334.7,493.8) scale(1,1.08)" text-anchor="middle">2003</text><text transform="translate(422.5,493.8) scale(1,1.08)" text-anchor="middle">2005</text><text transform="translate(510.4,493.8) scale(1,1.08)" text-anchor="middle">2007</text><text transform="translate(598.2,493.8) scale(1,1.08)" text-anchor="middle">2009</text><text transform="translate(686.0,493.8) scale(1,1.08)" text-anchor="middle">2011</text><text transform="translate(773.9,493.8) scale(1,1.08)" text-anchor="middle">2013</text><text transform="translate(861.7,493.8) scale(1,1.08)" text-anchor="middle">2015</text><text transform="translate(949.6,493.8) scale(1,1.08)" text-anchor="middle">2017</text><text transform="translate(1037.4,493.8) scale(1,1.08)" text-anchor="middle">2019</text><text transform="translate(1125.2,493.8) scale(1,1.08)" text-anchor="middle">2021</text><text transform="translate(1213.1,493.8) scale(1,1.08)" text-anchor="middle">2023</text><text transform="translate(87,163.0) rotate(-90) scale(1.08,1)" text-anchor="middle">4</text><text transform="translate(87,249.5) rotate(-90) scale(1.08,1)" text-anchor="middle">8</text><text transform="translate(87,337.0) rotate(-90) scale(1.08,1)" text-anchor="middle">16</text><text transform="translate(87,424.0) rotate(-90) scale(1.08,1)" text-anchor="middle">32</text><text transform="translate(1308.5,427.1) scale(1,1.08)">0.0</text><text transform="translate(1308.5,362.0) scale(1,1.08)">0.2</text><text transform="translate(1308.5,296.9) scale(1,1.08)">0.4</text><text transform="translate(1308.5,231.8) scale(1,1.08)">0.6</text><text transform="translate(1308.5,166.7) scale(1,1.08)">0.8</text>
<text transform="translate(679.5,28) scale(1,1.07)" text-anchor="middle" style="font-size:33.5px;font-weight:bold">IT-GDP</text>
<text transform="translate(679.2,558) scale(1,1.08)" text-anchor="middle" style="font-size:26px">Years</text>
<text transform="translate(25,257) rotate(-90) scale(1.08,1)" text-anchor="middle" style="font-size:25px">Frequency</text>
</svg>
</body></html>
